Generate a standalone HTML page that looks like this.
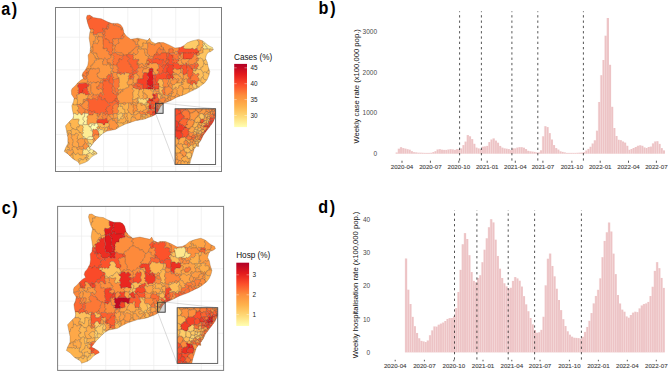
<!DOCTYPE html>
<html><head><meta charset="utf-8"><style>
html,body{margin:0;padding:0;background:#fff;width:669px;height:373px;overflow:hidden}
svg{display:block}
</style></head><body>
<svg width="669" height="373" viewBox="0 0 669 373" font-family='"Liberation Sans", sans-serif'><rect width="669" height="373" fill="#fff"/><g font-size="17.6" font-weight="bold" fill="#000"><text transform="translate(1.2,14.8) scale(0.92,1)" letter-spacing="1.8">a)</text><text transform="translate(318.6,14.4) scale(0.92,1)" letter-spacing="1.8">b)</text><text transform="translate(1.7,213.8) scale(0.92,1)" letter-spacing="1.8">c)</text><text transform="translate(318.2,213.4) scale(0.92,1)" letter-spacing="1.8">d)</text></g><g stroke="#ececec" stroke-width="0.7">
<line x1="79.5" y1="7" x2="79.5" y2="172"/>
<line x1="103.6" y1="7" x2="103.6" y2="172"/>
<line x1="127.8" y1="7" x2="127.8" y2="172"/>
<line x1="151.7" y1="7" x2="151.7" y2="172"/>
<line x1="175.7" y1="7" x2="175.7" y2="172"/>
<line x1="199.2" y1="7" x2="199.2" y2="172"/>
<line x1="55" y1="37.2" x2="222" y2="37.2"/>
<line x1="55" y1="69.8" x2="222" y2="69.8"/>
<line x1="55" y1="102.2" x2="222" y2="102.2"/>
<line x1="55" y1="134.4" x2="222" y2="134.4"/>
<line x1="55" y1="166.6" x2="222" y2="166.6"/>
</g>
<clipPath id="clipa"><polygon points="87.1,15.4 89.8,15.1 93.2,17.4 97.8,18.3 101.2,18.7 103.9,20.1 107.9,22.1 111.9,23.4 117.9,23.4 120.6,24.7 122.6,27.4 124.0,32.8 126.3,36.0 130.7,39.3 137.8,38.2 147.8,40.4 149.6,38.2 151.2,41.5 155.6,43.7 157.8,42.6 163.4,42.6 169.0,44.9 175.0,48.1 180.2,47.5 183.7,45.8 187.2,42.8 191.6,41.1 195.0,40.2 198.5,39.4 202.0,40.6 204.6,42.3 207.2,44.6 209.8,46.3 212.5,47.5 213.3,49.8 210.7,51.6 208.1,52.4 206.4,55.0 205.5,58.5 207.2,62.0 208.1,66.4 209.8,71.6 209.0,75.1 207.2,79.4 204.6,82.9 201.1,85.5 200.0,86.6 196.8,88.5 193.1,90.3 189.5,92.1 185.9,93.9 181.1,95.7 176.2,97.5 172.0,99.9 167.8,101.7 163.6,103.6 160.5,106.6 158.1,111.4 155.7,114.4 152.1,116.2 147.2,118.0 145.0,118.9 140.7,119.8 135.5,120.7 130.3,122.4 125.1,124.2 119.8,126.8 115.5,129.4 111.1,130.3 106.8,131.1 102.4,133.7 98.9,137.2 96.3,139.8 93.7,142.5 91.1,145.9 89.4,148.2 92.8,149.9 96.3,152.0 97.2,153.8 93.7,155.5 91.1,157.3 88.5,160.4 85.0,162.5 82.0,163.5 79.5,164.4 78.4,162.1 72.5,158.6 67.9,153.9 64.3,151.6 65.5,148.1 67.9,143.4 67.9,137.6 66.7,131.7 65.5,125.9 65.8,125.5 68.5,122.5 70.9,120.1 72.9,118.5 73.6,115.5 72.9,112.1 72.3,109.4 71.8,105.7 73.5,101.9 74.1,98.2 71.6,94.4 71.3,90.6 72.2,88.4 75.0,86.0 77.8,82.8 80.6,80.3 83.5,78.5 82.1,75.6 82.9,72.8 85.3,70.0 87.8,65.3 88.5,60.6 88.1,55.0 89.8,52.9 90.5,47.5 89.8,42.2 89.1,38.2 89.8,32.8 90.5,30.1 89.1,27.4 87.8,23.4 86.4,18.0"/></clipPath>
<g clip-path="url(#clipa)"><g stroke="#4a3422" stroke-width="0.33" stroke-opacity="0.7"><path d="M87.1 24.3 86.9 21.6 88.8 20.1 89.0 19.3 90.5 19.2 91.2 18.4 91.0 17.2 91.8 16.6 92.8 16.7 93.0 16.1 90.2 14.2 86.9 14.4 86.2 15.0 85.4 18.0Z" fill="#fc6831"/><path d="M91.0 17.2 91.2 18.4 90.5 19.2 89.0 19.3 88.8 20.1 86.9 21.6 86.8 22.8 88.4 28.3 91.2 29.5 92.8 29.0 93.6 30.8 93.0 31.9 93.2 34.7 95.2 34.4 96.5 34.9 97.6 33.1 103.3 32.5 103.8 30.5 103.2 30.3 102.8 28.3 106.8 29.2 107.4 25.0 109.0 24.6 109.3 23.1 107.1 20.6 101.4 17.7 93.0 16.1 92.8 16.7 91.8 16.6Z" fill="#fc6130"/><path d="M108.5 21.9 109.3 23.1 110.5 22.9 111.4 23.3 112.4 22.8 113.5 23.6 113.1 25.2 114.6 25.7 115.3 24.8 117.0 26.2 121.0 27.7 120.8 29.3 121.3 30.2 123.1 28.5 123.4 30.3 124.3 30.1 123.5 27.0 121.0 23.8 118.1 22.4 112.1 22.4 109.0 21.4Z" fill="#fd7c37"/><path d="M132.8 39.7 132.8 41.0 135.0 41.6 135.7 44.8 137.5 44.4 137.9 41.4 139.3 40.8 139.2 39.1 136.9 38.8 137.0 37.3 131.3 38.2Z" fill="#fd903d"/><path d="M136.9 38.8 139.2 39.1 139.3 40.8 137.9 41.4 137.5 44.4 138.9 45.3 138.9 46.6 141.2 47.6 141.7 46.7 143.3 46.1 142.8 43.0 144.3 43.0 144.8 43.5 146.9 43.2 146.5 41.5 148.1 40.6 148.6 39.3 149.4 38.8 149.4 37.9 150.3 37.5 149.0 37.4 147.4 39.3 137.8 37.2 137.0 37.3Z" fill="#fea546"/><path d="M159.2 42.9 160.1 43.3 161.2 45.4 161.0 46.9 163.5 47.7 163.5 49.2 164.4 49.7 165.2 52.7 166.7 53.1 168.5 52.8 169.1 50.7 168.9 49.3 171.4 48.6 173.2 49.3 172.7 51.9 173.1 53.1 174.1 53.2 175.8 51.2 177.1 51.8 179.1 49.7 178.8 49.1 179.3 47.3 179.0 46.9 175.2 47.1 169.4 44.0 163.6 41.6 159.3 41.6Z" fill="#fd8c3c"/><path d="M183.4 45.0 183.8 46.3 183.0 48.1 185.4 48.9 189.2 49.0 190.6 49.0 192.5 48.1 192.7 48.7 194.9 49.8 195.3 48.8 197.1 48.5 197.1 46.5 197.5 45.5 199.1 45.2 198.8 41.5 197.0 40.2 196.5 39.2 197.1 38.7 194.8 39.2 186.7 41.9Z" fill="#fecb67"/><path d="M197.1 38.7 196.5 39.2 197.0 40.2 198.8 41.5 199.1 45.2 197.5 45.5 197.1 46.5 197.5 50.7 200.8 50.8 201.4 47.4 202.4 47.3 203.4 46.4 203.3 45.4 202.4 44.7 203.7 43.3 202.7 42.1 202.9 40.0 198.7 38.4Z" fill="#fea546"/><path d="M202.9 40.0 202.7 42.1 203.7 43.3 204.7 43.6 204.4 44.6 205.5 45.7 205.5 46.4 206.7 46.7 207.3 49.1 210.9 49.0 212.8 49.8 214.1 49.0 213.1 46.7 207.8 43.8Z" fill="#fee68a"/><path d="M107.1 20.6 108.5 21.9 109.0 21.4ZM108.4 26.8 109.4 25.3 109.0 24.6 107.4 25.0 107.3 26.4ZM102.8 28.3 103.2 30.3 103.8 30.5 103.3 32.5 101.7 32.9 102.5 34.7 104.3 34.9 104.8 33.2 105.4 32.8 104.6 30.3 105.4 29.0Z" fill="#fd7234"/><path d="M109.4 25.3 108.4 26.8 108.8 28.2 107.1 29.3 105.4 29.0 104.6 30.3 105.4 32.8 104.8 33.2 104.3 34.9 104.8 35.4 104.2 37.4 104.9 39.1 105.5 39.3 106.6 38.7 107.7 40.4 108.6 40.1 109.4 42.0 109.0 42.8 110.2 43.4 111.5 42.9 112.9 44.3 113.4 41.0 112.6 40.8 112.5 39.4 114.4 38.7 114.7 39.5 117.0 38.4 118.7 39.0 119.4 38.5 121.2 38.9 121.4 36.1 123.6 34.4 124.0 32.8 124.9 32.3 124.3 30.1 123.4 30.3 123.1 28.5 121.3 30.2 120.8 29.3 121.0 27.7 117.0 26.2 115.3 24.8 114.6 25.7 113.1 25.2 113.5 23.6 112.4 22.8 111.4 23.3 110.5 22.9 109.3 23.1 109.0 24.6Z" fill="#fd7535"/><path d="M107.4 26.5 106.8 29.2 107.1 29.3 108.8 28.2 108.4 26.8Z" fill="#fc6731"/><path d="M89.1 51.4 89.5 50.4 91.2 50.8 91.6 49.6 90.4 48.5 90.9 47.2 92.9 47.0 92.6 45.4 93.0 43.9 93.6 43.4 93.3 41.4 95.3 41.4 95.5 36.8 93.2 34.7 93.0 32.3 91.0 32.8 90.3 31.6 89.1 31.7 88.1 38.2 89.5 47.5ZM89.7 28.8 88.7 28.1 88.4 28.3 89.2 29.8Z" fill="#fd9a42"/><path d="M89.7 28.8 89.1 31.7 90.3 31.6 91.0 32.8 93.0 32.3 93.6 30.8 92.8 29.0 91.2 29.5ZM96.3 36.5 97.7 37.2 98.8 37.0 99.0 36.0 97.2 34.3 96.5 34.9 95.2 34.4 93.7 34.9 95.5 36.8Z" fill="#fd9640"/><path d="M124.8 32.6 125.5 33.2 124.9 32.3ZM123.2 38.6 124.1 36.5 122.8 35.1 122.2 35.1 121.4 36.1 121.4 38.8Z" fill="#fd7234"/><path d="M118.7 39.0 118.3 40.7 118.9 43.1 117.7 43.3 115.6 45.2 114.0 48.9 115.0 49.6 114.3 51.6 114.9 52.8 116.6 52.2 121.2 53.1 121.6 52.8 122.8 53.6 123.2 54.8 124.6 55.3 126.8 54.9 128.6 54.2 129.0 52.5 130.9 52.6 131.3 51.2 132.4 51.0 133.3 49.4 134.2 49.4 135.7 47.0 138.9 46.6 138.9 45.3 137.5 44.4 135.7 44.8 134.8 41.3 132.8 41.0 132.8 39.7 127.0 35.3 124.8 32.6 124.0 32.8 123.6 34.4 122.8 35.1 124.1 36.5 123.2 38.6 121.2 38.9 119.4 38.5Z" fill="#fd873a"/><path d="M99.0 33.2 97.6 33.1 97.2 34.3 99.0 36.0 99.0 36.7 101.6 36.8 102.5 37.5 103.6 35.0 102.5 34.7 101.2 32.5Z" fill="#fd893b"/><path d="M203.7 43.3 202.4 44.7 203.3 45.4 204.4 44.6 204.7 43.6Z" fill="#fee487"/><path d="M102.4 37.5 103.0 40.0 103.1 45.1 103.5 45.6 102.8 48.5 104.2 48.9 106.8 48.3 107.0 49.0 106.4 51.0 109.0 51.7 108.5 53.6 108.9 54.6 111.0 55.0 111.9 54.6 112.7 53.3 112.1 51.3 112.7 50.9 113.1 49.0 112.6 48.6 112.4 47.1 113.0 46.4 113.1 44.6 111.5 42.9 110.2 43.4 109.0 42.8 109.4 42.0 108.6 40.1 107.7 40.4 106.9 38.9 104.9 39.1 104.2 37.4 104.8 35.4 104.3 34.9 103.6 35.0Z" fill="#fd7234"/><path d="M148.1 40.6 146.5 41.5 146.9 43.2 144.8 43.5 144.3 43.0 142.8 43.0 143.3 46.1 141.7 46.7 141.2 47.6 141.6 48.8 144.2 49.1 144.9 48.5 146.9 49.8 147.9 46.6 147.8 44.9 147.1 43.4 149.4 42.8 150.4 43.2 151.1 44.6 152.9 44.2 153.7 45.3 154.7 45.3 155.8 43.0 157.0 43.5 159.2 42.9 159.3 41.6 157.5 41.6 155.6 42.6 152.0 40.8 150.3 37.5 149.4 37.9 149.4 38.8 148.6 39.3Z" fill="#fea345"/><path d="M93.3 41.4 93.6 43.4 96.2 43.1 97.2 44.1 98.9 42.0 99.2 40.5 97.1 39.1 97.7 37.2 96.3 36.5 95.5 36.8 95.3 41.4ZM91.2 50.8 91.5 51.6 91.0 52.3 91.4 53.0 93.2 53.7 93.8 55.3 94.7 55.9 95.2 58.4 96.6 58.5 98.6 59.5 98.6 57.4 97.6 57.0 96.8 53.2 94.7 52.7 93.7 53.0 92.7 51.5 93.3 49.6 92.9 47.0 90.9 47.2 90.4 48.5 91.6 49.6Z" fill="#fd9941"/><path d="M99.2 40.2 97.2 44.1 96.2 43.1 93.6 43.4 93.0 43.9 92.6 45.4 93.3 49.6 92.7 51.5 93.7 53.0 94.7 52.7 96.8 53.2 97.6 57.0 98.6 57.4 98.7 59.1 101.1 58.7 103.6 59.8 104.8 57.8 106.9 60.4 107.9 58.8 109.5 58.8 110.7 58.1 111.0 55.0 108.9 54.6 108.5 53.6 109.0 51.7 106.4 51.0 107.0 49.0 106.8 48.3 104.2 48.9 102.8 48.5 103.5 45.6 102.9 42.9 103.0 40.0 102.4 37.5 101.6 36.8 99.0 36.7 97.7 37.2 97.1 39.1ZM113.1 49.0 112.7 50.9 112.1 51.3 112.7 53.3 114.7 52.8 114.3 51.6 115.0 49.6 114.0 48.9 115.1 46.9 115.4 45.0 113.1 44.6 113.0 46.4 112.4 47.1 112.6 48.6Z" fill="#fd8c3c"/><path d="M118.7 39.0 117.0 38.4 114.7 39.5 114.4 38.7 112.5 39.4 112.6 40.8 113.4 41.0 113.1 44.6 115.9 45.1 117.7 43.3 118.9 43.1 118.3 40.7Z" fill="#fd883b"/><path d="M147.8 46.9 146.9 49.8 147.3 50.6 147.1 52.9 147.5 54.3 149.1 55.0 149.1 56.0 150.8 57.2 151.7 56.4 153.0 57.4 153.6 57.1 154.0 54.9 154.9 54.9 156.0 52.9 156.8 52.5 157.6 49.6 158.3 49.3 159.3 47.6 160.7 50.2 161.5 49.3 163.5 49.3 162.7 50.8 162.9 52.7 164.6 53.0 165.2 52.7 164.4 49.7 163.5 49.2 163.5 47.7 161.0 46.9 161.2 45.4 160.1 43.3 159.2 42.9 157.0 43.5 155.8 43.0 154.7 45.3 153.7 45.3 152.9 44.2 151.1 44.6 150.4 43.2 149.4 42.8 147.1 43.4 147.8 44.9Z" fill="#fd873a"/><path d="M179.0 46.9 179.3 47.3 178.8 49.1 179.1 49.7 177.1 51.8 178.6 53.2 179.1 52.8 183.2 52.7 184.1 52.7 184.4 53.3 187.2 52.6 187.5 53.3 189.3 52.8 192.2 53.3 193.0 52.4 194.6 53.7 195.4 52.9 198.7 53.0 199.2 50.9 197.5 50.7 197.1 48.5 195.3 48.8 194.9 49.8 192.7 48.7 192.5 48.1 190.6 49.0 189.2 49.0 185.4 48.9 183.0 48.1 183.8 46.3 183.3 44.8Z" fill="#fc4d2a"/><path d="M86.9 69.6 87.4 68.7 89.8 69.2 90.6 68.9 91.4 67.8 90.9 66.6 91.2 65.2 92.5 65.3 93.2 63.3 94.8 62.5 94.4 60.8 95.0 60.3 96.6 60.4 96.6 58.5 95.2 58.4 94.7 55.9 93.8 55.3 93.2 53.7 91.4 53.0 91.0 52.3 91.5 51.6 91.2 50.8 89.5 50.4 88.8 52.5 87.1 54.8 87.5 60.6 86.8 65.0 85.0 68.4ZM83.3 75.2 82.7 74.8 81.3 74.8 81.1 75.8 81.8 77.3 82.6 77.2Z" fill="#fd9740"/><path d="M179.0 46.9 179.0 46.6 178.2 46.7Z" fill="#fc502b"/><path d="M204.4 44.6 203.3 45.4 203.4 46.4 202.4 47.3 203.9 49.1 207.0 48.8 206.7 46.7 205.5 46.4 205.5 45.7Z" fill="#fee78c"/><path d="M134.2 49.4 133.3 49.4 132.4 51.0 131.3 51.2 130.9 52.6 129.0 52.5 128.7 54.1 133.1 54.7 133.5 52.9 134.2 53.1 135.2 54.9 136.7 54.4 138.3 52.6 138.3 51.0 137.0 49.8 138.8 48.6 138.8 46.7 135.7 47.0ZM144.3 65.4 143.4 65.3 142.8 63.5 140.8 63.4 139.6 65.0 138.4 63.0 136.8 63.1 137.2 64.9 139.0 65.4 138.5 67.2 138.9 68.0 140.3 68.4 141.4 66.7 142.3 67.0 142.9 68.2 144.6 67.2 144.8 66.3 146.7 66.6 147.4 65.0 147.1 63.3 146.8 62.9 145.2 63.5 145.1 64.6Z" fill="#fd8e3c"/><path d="M141.2 47.6 138.9 46.6 138.8 48.6 141.2 49.5 141.6 48.8Z" fill="#fea345"/><path d="M201.4 47.4 201.1 50.5 199.2 50.9 198.7 53.0 199.4 53.8 202.1 53.2 203.4 52.4 202.9 51.0 203.3 49.4 203.9 49.1 202.4 47.3Z" fill="#fea848"/><path d="M137.0 49.8 138.3 51.0 138.3 52.6 136.7 54.4 135.2 54.9 134.2 53.1 133.5 52.9 133.1 54.7 133.7 55.4 133.0 56.4 133.5 57.6 132.8 59.1 133.2 59.8 134.9 59.4 135.7 58.8 136.7 59.7 138.7 59.4 138.6 61.0 137.2 61.4 137.0 63.0 138.4 63.0 139.6 65.0 140.8 63.4 142.8 63.5 143.4 65.3 144.3 65.4 145.1 64.6 145.2 63.5 146.8 62.9 147.2 59.7 148.5 58.0 148.2 56.8 146.8 55.3 145.6 55.3 144.2 49.1 141.6 48.8 141.2 49.5 138.8 48.6Z" fill="#fd9a41"/><path d="M144.2 49.1 145.6 55.3 146.8 55.3 148.2 56.8 149.3 55.4 147.5 54.3 147.1 52.9 147.3 50.6 146.9 49.8 144.9 48.5Z" fill="#fd9a42"/><path d="M159.5 47.6 157.6 49.6 156.8 52.5 158.1 53.4 159.0 54.8 160.4 54.9 160.8 53.4 162.9 52.7 162.7 50.8 163.5 49.3 161.5 49.3 160.7 50.2Z" fill="#fd7836"/><path d="M168.9 49.3 169.1 50.7 168.5 52.8 169.0 53.3 173.1 53.2 172.7 51.9 173.2 51.0 173.0 49.0 171.4 48.6Z" fill="#fd7335"/><path d="M202.9 51.0 203.4 52.4 202.1 53.2 199.4 53.8 199.2 55.1 197.0 55.6 196.7 56.3 198.7 58.5 200.7 58.1 202.8 59.4 202.7 60.7 203.2 61.0 204.9 60.4 205.8 58.9 206.9 59.1 206.6 58.4 207.3 55.4 208.7 53.2 211.6 52.2 210.6 52.1 209.5 50.7 209.7 49.0 203.9 49.1 203.3 49.4Z" fill="#fec560"/><path d="M214.1 49.0 212.8 49.8 210.9 49.0 209.9 49.2 209.5 50.7 210.6 52.1 211.6 52.2 214.2 50.2Z" fill="#febf5a"/><path d="M175.8 51.2 174.1 53.2 175.2 53.8 176.1 54.9 177.9 52.8ZM178.0 56.8 179.0 58.7 180.0 58.6 181.3 57.3 180.2 55.0 179.4 54.8Z" fill="#fd903d"/><path d="M116.2 52.6 112.7 53.3 111.9 54.6 113.7 56.6 113.3 57.2 113.7 58.9 112.4 60.5 112.9 61.6 112.5 62.6 113.1 64.7 115.0 65.5 117.4 65.0 117.3 62.9 119.2 62.1 119.3 61.2 118.6 60.6 119.0 58.9 120.6 58.8 121.5 60.1 122.7 58.5 122.3 57.5 123.9 55.0 121.3 55.3 119.1 54.9 118.8 54.4 117.1 54.3Z" fill="#fd7435"/><path d="M111.0 57.1 109.9 58.7 107.9 58.8 106.9 60.4 106.9 62.1 107.5 62.9 110.4 63.2 110.8 65.0 112.5 65.2 112.9 68.8 111.7 70.9 114.3 72.7 116.9 72.6 118.3 70.9 117.1 69.7 118.7 68.3 118.5 67.7 117.4 67.2 117.0 65.2 115.0 65.5 113.1 64.7 112.5 62.6 112.9 61.6 112.4 60.5 113.7 58.9 113.3 57.2 113.7 56.6 111.9 54.6 111.0 55.0ZM121.3 55.3 123.2 54.8 122.8 53.6 121.6 52.8 121.2 53.1 116.6 52.2 116.2 52.6 117.1 54.3 118.8 54.4 119.1 54.9Z" fill="#fd893b"/><path d="M156.0 52.9 154.9 54.9 155.5 55.3 157.2 54.9 157.7 55.6 159.0 54.8 158.1 53.4 156.8 52.5Z" fill="#fc6430"/><path d="M153.6 57.1 153.0 57.4 152.6 58.4 150.8 58.8 148.5 58.0 147.2 59.7 147.1 60.9 149.0 61.1 148.7 62.9 147.1 63.3 147.4 65.0 149.2 65.1 149.4 63.8 150.6 63.0 151.8 63.9 153.1 63.3 152.5 61.6 151.9 61.1 153.3 59.3 154.3 59.5 157.2 58.4 158.5 58.6 159.2 60.0 160.7 59.4 161.8 59.8 163.3 59.4 163.3 60.4 162.2 62.0 162.8 62.7 160.6 64.7 158.9 64.2 158.5 64.6 158.5 66.7 159.0 68.2 156.7 69.6 156.9 70.9 158.8 71.4 158.5 73.1 160.3 74.5 161.1 73.4 162.3 73.3 163.3 71.8 163.0 70.8 163.6 69.1 163.3 67.8 161.9 66.9 162.7 65.1 163.3 64.8 164.8 65.4 167.0 64.1 167.3 63.2 165.0 62.1 165.4 61.1 167.1 60.5 166.7 58.7 167.6 57.0 166.8 56.2 167.2 55.0 166.7 53.1 165.2 52.7 161.4 53.1 160.8 53.4 160.4 54.9 159.0 54.8 157.7 55.6 157.2 54.9 155.5 55.3 154.0 54.9Z" fill="#fc5e2e"/><path d="M166.7 53.1 167.2 55.0 166.8 56.2 167.6 57.0 168.3 56.9 169.0 53.3 168.5 52.8ZM172.2 61.7 172.3 62.4 173.4 63.0 174.1 62.7 175.4 63.5 177.2 62.9 177.2 62.0 179.2 61.0 178.7 59.2 176.7 59.7 174.5 58.4 172.9 59.3 173.3 60.1ZM167.1 60.5 165.4 61.1 165.0 62.1 167.3 63.2 168.3 62.7 169.0 61.0 168.9 59.1 166.7 58.7Z" fill="#fc6330"/><path d="M166.7 58.7 168.9 59.1 169.0 61.0 168.1 62.9 169.2 64.5 172.9 64.7 173.1 66.6 172.4 67.2 173.4 69.3 174.0 69.3 175.0 68.3 176.8 69.7 178.5 69.5 178.9 68.9 180.8 69.4 181.1 67.4 182.8 66.2 182.6 65.1 181.2 64.5 179.6 65.2 178.7 63.5 177.2 62.9 175.4 63.5 174.1 62.7 173.4 63.0 172.3 62.4 172.2 61.7 173.3 60.1 172.4 59.1 173.1 57.3 173.0 55.4 172.5 54.8 171.2 55.1 169.9 53.4 169.0 53.3 168.3 56.9 167.6 57.0ZM165.1 65.0 164.5 67.1 163.3 67.8 163.6 69.1 163.0 70.8 163.3 71.8 164.9 73.4 166.4 72.9 167.1 72.0 166.7 68.7 167.3 67.6 168.8 66.8 167.0 64.1Z" fill="#fc4e2a"/><path d="M176.1 54.9 175.2 53.8 174.1 53.2 169.9 53.4 171.2 55.1 172.5 54.8 173.0 55.4 173.1 57.3 172.4 59.1 172.9 59.3 174.5 58.4 176.7 59.7 178.7 59.2 179.0 58.7 178.0 56.8 179.4 54.8 178.6 53.2 177.9 52.8Z" fill="#fd7435"/><path d="M183.1 55.0 182.8 55.3 183.2 59.1 185.1 59.5 186.7 58.9 190.3 59.1 191.8 58.7 192.5 57.5 193.4 57.1 193.6 55.2 194.6 54.3 196.8 55.2 197.0 53.0 195.4 52.9 194.6 53.7 193.0 52.4 192.2 53.3 189.3 52.8 187.5 53.3 187.2 52.6 184.4 53.3 184.1 52.7 183.2 52.7 182.8 52.8ZM178.6 53.2 179.4 54.8 180.2 55.0 181.3 54.5 181.8 53.0 179.1 52.8ZM185.5 65.3 187.0 65.8 187.7 65.1 186.5 62.7 185.5 62.7Z" fill="#fa4b29"/><path d="M181.3 57.3 180.0 58.6 181.1 59.8 183.0 58.7 182.8 52.8 181.9 52.8 181.3 54.5 180.2 55.0ZM189.4 59.1 189.0 60.3 187.3 61.8 188.9 63.1 188.1 65.1 189.0 65.3 190.9 65.0 191.3 64.4 193.2 64.8 194.5 63.0 196.7 62.3 197.1 61.1 196.0 59.3 196.6 58.9 198.5 58.9 198.7 58.5 196.7 56.3 196.8 55.2 194.6 54.3 193.6 55.2 193.4 57.1 192.5 57.5 191.8 58.7Z" fill="#fd8a3b"/><path d="M199.4 53.8 198.7 53.0 197.0 53.0 197.0 55.6 199.2 55.1Z" fill="#fd8f3d"/><path d="M206.2 58.8 205.2 59.5 204.9 60.4 203.2 61.0 203.7 63.0 204.3 63.1 205.4 64.9 206.5 64.4 208.5 64.7 208.9 65.4 208.1 61.6 206.9 59.1Z" fill="#febf5a"/><path d="M119.0 58.9 118.6 60.6 119.3 61.2 119.2 62.1 117.3 62.9 117.0 65.2 117.4 67.2 118.5 67.7 118.7 68.3 117.1 69.7 118.3 70.9 119.6 73.1 121.1 72.3 121.9 73.6 125.7 72.6 126.8 73.2 128.8 73.2 129.4 73.8 132.4 73.3 133.1 72.2 132.1 70.5 133.5 69.6 132.4 68.3 132.5 67.4 130.6 66.7 131.3 65.3 130.6 64.3 129.3 64.2 129.4 62.7 127.7 60.7 130.1 58.8 128.8 57.4 127.4 56.9 126.8 54.9 124.6 55.3 123.9 55.0 122.3 57.5 122.7 58.5 121.5 60.1 120.6 58.8Z" fill="#fc6831"/><path d="M126.9 54.8 127.4 56.9 128.8 57.4 130.1 58.8 127.7 60.7 129.4 62.7 129.3 64.2 130.6 64.3 131.3 65.3 130.6 66.7 132.5 67.4 132.4 68.3 133.5 69.6 132.1 70.5 133.1 72.2 134.6 71.1 135.5 71.5 137.2 69.0 138.9 68.0 138.5 67.2 139.0 65.4 137.2 64.9 136.8 63.1 137.2 61.4 138.6 61.0 138.7 59.4 136.7 59.7 135.7 58.8 134.9 59.4 133.2 59.8 132.8 59.1 133.5 57.6 133.0 56.4 133.7 55.4 133.1 54.7 128.7 54.1Z" fill="#fc602f"/><path d="M148.2 56.8 148.5 58.0 150.8 58.8 152.6 58.4 153.0 57.4 151.7 56.4 150.8 57.2 149.1 56.0Z" fill="#fd8d3c"/><path d="M81.3 74.8 83.8 75.2 84.8 76.5 86.6 77.0 86.9 75.2 86.0 72.9 88.4 72.9 88.7 71.2 87.6 70.8 86.8 70.1 86.9 69.6 85.0 68.4 82.0 72.4Z" fill="#fd7d38"/><path d="M96.7 58.6 96.6 60.4 95.0 60.3 94.4 60.8 94.8 62.5 93.2 63.3 92.5 65.3 91.2 65.2 90.9 66.6 91.4 67.8 90.6 68.9 92.8 69.4 93.2 68.3 96.2 69.4 96.9 68.4 98.9 68.2 99.7 71.2 98.6 72.9 97.0 73.3 96.7 74.4 97.4 75.4 97.4 77.0 99.0 77.5 99.4 78.6 101.1 78.7 102.9 79.4 103.5 78.3 105.3 78.8 107.0 78.5 107.0 76.3 108.6 74.4 110.1 75.0 111.1 73.2 111.1 71.3 112.9 68.8 110.8 68.3 110.3 66.5 110.8 65.0 109.0 64.9 108.8 63.0 107.5 62.9 107.3 64.6 106.8 65.0 105.2 64.5 103.3 64.8 102.5 61.5 103.6 61.2 103.6 59.8 101.1 58.7 98.7 59.1 98.6 59.5Z" fill="#fd9841"/><path d="M89.8 69.2 89.3 70.9 88.7 71.2 88.4 74.3 86.9 75.2 86.6 77.0 87.0 78.3 87.7 79.1 87.2 81.1 87.4 81.6 88.5 81.7 89.5 82.7 90.9 82.1 92.1 83.0 93.1 82.2 94.8 82.5 95.1 83.0 96.8 82.9 97.3 81.6 100.2 82.9 100.6 80.9 101.0 80.8 103.0 81.5 103.5 80.9 102.9 79.4 101.1 78.7 99.4 78.6 99.0 77.5 97.4 77.0 97.4 75.4 96.7 74.4 97.0 73.3 98.6 72.9 99.7 71.2 98.9 68.2 96.9 68.4 96.2 69.4 93.2 68.3 92.8 69.4 90.6 68.9ZM103.6 59.8 103.6 61.2 102.5 61.5 102.9 64.3 103.3 64.8 105.2 64.5 106.8 65.0 107.3 64.6 107.5 62.9 106.7 61.3 106.9 60.4 104.8 57.8ZM109.0 64.9 110.6 64.8 110.4 63.2 108.8 63.0Z" fill="#fd8d3c"/><path d="M157.2 58.4 154.3 59.5 153.3 59.3 151.9 61.1 153.4 63.4 156.5 63.0 157.4 64.4 158.5 64.6 158.9 64.2 160.6 64.7 162.8 62.7 162.2 62.0 163.3 60.4 163.3 59.4 161.8 59.8 160.7 59.4 159.2 60.0 158.5 58.6ZM164.8 65.4 163.3 64.8 162.7 65.1 161.9 66.9 163.3 67.8 164.5 67.1Z" fill="#fc542c"/><path d="M173.3 69.5 172.5 70.6 173.9 72.8 174.6 73.4 176.4 73.5 176.9 74.6 178.3 74.8 180.6 72.9 180.8 69.4 178.9 68.9 178.5 69.5 176.8 69.7 175.0 68.3ZM178.7 59.2 179.2 61.0 177.2 62.0 177.2 62.9 178.7 63.5 179.6 65.2 181.2 64.5 182.6 65.1 183.4 64.3 183.4 63.3 181.6 62.7 181.7 61.4 181.1 60.9 181.1 59.8 180.0 58.6 179.0 58.7Z" fill="#fd9c42"/><path d="M185.1 59.5 183.2 59.1 183.0 58.7 181.1 59.8 181.1 60.9 181.7 61.4 181.6 62.7 183.4 63.3 183.4 64.3 185.2 64.9 185.5 62.7 186.5 62.7 187.7 65.1 188.1 65.1 188.9 63.1 187.3 61.8 189.0 60.3 189.3 59.2 186.7 58.9Z" fill="#fd9941"/><path d="M198.5 60.7 198.5 58.9 196.6 58.9 196.0 59.3 197.1 61.1ZM197.7 63.5 196.7 62.3 194.8 63.1 195.9 64.8Z" fill="#fd883b"/><path d="M196.7 62.3 198.7 65.1 198.1 66.5 196.7 67.4 197.1 68.7 198.5 69.6 200.8 69.5 200.9 67.5 202.9 67.0 203.5 65.2 203.8 63.1 203.2 61.0 202.7 60.7 202.8 59.4 200.7 58.1 198.7 58.5 198.5 60.7 197.1 61.1ZM194.7 68.6 195.1 70.8 195.7 71.1 196.7 69.1Z" fill="#febc57"/><path d="M149.0 61.1 146.7 61.1 146.8 62.9 147.1 63.3 148.7 62.9ZM149.2 65.1 147.1 65.2 146.7 66.6 147.2 67.7 149.0 67.3 149.7 68.5 150.9 68.5 151.5 68.0 152.5 68.3 153.0 68.8 153.1 71.6 154.8 72.9 154.8 74.5 157.1 74.4 158.5 73.1 158.8 71.4 156.9 70.9 156.7 69.6 159.0 68.2 158.5 66.7 158.5 64.6 157.4 64.4 156.5 63.0 153.1 63.3 151.8 63.9 150.6 63.0 149.4 63.8Z" fill="#fd9c42"/><path d="M167.5 65.3 168.8 66.8 167.3 67.6 166.7 68.7 167.1 72.0 168.9 73.4 168.6 74.7 169.2 75.3 170.9 74.8 171.2 75.4 172.7 74.6 172.5 73.5 173.9 72.8 172.5 70.6 173.4 69.3 172.4 67.2 173.1 66.6 173.3 65.4 172.9 64.7 169.2 64.5 168.1 62.9 167.3 63.2 167.0 64.1Z" fill="#f64227"/><path d="M193.1 64.8 191.3 64.4 190.9 65.0 189.0 65.3 189.6 67.1 191.2 66.6 191.5 67.0 191.0 69.0 192.9 69.1 194.5 68.4 194.7 66.0 196.0 65.0 194.7 63.0Z" fill="#fc6230"/><path d="M197.7 63.5 194.7 66.0 194.7 68.6 196.7 69.1 197.1 68.7 196.7 67.4 198.1 66.5 198.7 65.1Z" fill="#fc6430"/><path d="M203.8 63.1 202.9 67.0 200.9 67.5 201.2 70.5 202.2 70.9 203.1 72.6 205.2 71.9 206.3 72.8 207.7 70.9 208.6 70.9 208.5 69.0 208.9 68.3 209.8 68.4 208.9 65.4 208.5 64.7 206.5 64.4 205.4 64.9 204.3 63.1Z" fill="#febd58"/><path d="M112.5 65.2 110.8 65.0 110.3 66.5 110.8 68.3 112.7 68.6Z" fill="#fd9640"/><path d="M182.8 66.2 181.0 67.7 181.2 68.3 183.2 69.2 182.2 70.7 183.3 75.2 185.5 74.5 185.8 73.7 187.1 73.5 187.2 71.8 188.1 71.1 187.3 69.4 187.0 65.8 183.4 64.3 182.6 65.1Z" fill="#fc522b"/><path d="M187.7 65.1 187.0 65.8 186.9 67.2 188.1 71.1 187.2 71.8 187.1 73.5 187.5 74.8 187.1 76.0 188.6 77.5 188.8 78.6 189.9 79.3 191.0 78.5 191.2 76.0 193.3 75.6 193.5 75.2 192.2 73.6 193.0 72.8 192.8 71.5 193.5 70.9 192.9 69.1 191.0 69.0 191.5 67.0 191.2 66.6 189.6 67.1 189.0 65.3Z" fill="#fc5b2e"/><path d="M208.9 68.3 208.5 69.0 208.6 70.9 207.7 70.9 206.3 72.8 209.0 73.9 209.1 75.4 210.0 75.3 210.8 71.6 209.8 68.4Z" fill="#feb852"/><path d="M138.9 68.0 136.8 69.5 138.1 71.1 136.5 73.2 137.1 75.2 138.8 75.8 138.6 78.8 139.3 79.2 140.9 78.7 143.1 78.7 142.7 76.8 143.8 72.9 142.4 72.4 142.6 70.9 143.6 69.2 146.7 68.7 147.2 67.7 146.7 66.6 144.8 66.3 144.6 67.2 142.9 68.2 142.3 67.0 141.4 66.7 140.3 68.4Z" fill="#fd8b3b"/><path d="M136.5 73.2 133.2 74.5 133.1 74.9 133.8 76.4 132.8 81.4 133.3 82.8 134.7 83.5 137.3 83.1 137.2 79.5 138.6 78.8 138.9 77.2 138.8 75.8 137.1 75.2ZM143.6 69.2 142.6 70.9 142.4 72.4 147.6 73.1 148.5 72.8 149.4 71.0 148.9 69.9 149.7 68.5 149.0 67.3 147.2 67.7 146.7 68.7ZM154.8 72.9 153.1 71.6 152.4 72.8 152.8 74.5 153.5 75.0 154.8 74.5Z" fill="#fd9a42"/><path d="M86.8 70.1 88.7 71.2 89.3 70.9 89.8 69.2 87.4 68.7Z" fill="#fd8f3d"/><path d="M150.9 68.5 149.7 68.5 148.9 69.9 149.4 71.0 151.3 70.5 152.9 70.9 153.0 68.8 151.5 68.0Z" fill="#e1191c"/><path d="M181.2 68.3 180.6 72.9 182.9 73.4 182.2 70.7 183.2 69.2ZM185.8 73.7 185.5 74.5 183.1 75.7 183.3 77.3 182.7 78.9 184.8 79.9 185.5 78.8 186.2 78.8 187.2 79.5 188.8 78.6 188.6 77.5 187.1 76.0 187.5 74.8 187.1 73.5Z" fill="#fd9a41"/><path d="M193.5 70.9 195.1 70.8 194.5 68.4 192.9 69.1Z" fill="#fec15d"/><path d="M195.7 71.1 193.5 70.9 192.8 71.5 193.0 72.8 194.8 73.6 195.8 74.9 197.5 73.6 198.2 73.4 198.8 73.8 198.9 75.1 197.6 76.0 197.5 77.0 198.8 78.0 199.1 80.5 200.4 81.1 201.0 80.6 201.4 77.8 202.9 77.1 203.9 75.0 203.3 74.5 203.1 72.6 200.8 69.5 198.5 69.6 197.1 68.7Z" fill="#febf5a"/><path d="M113.6 71.9 111.3 71.0 111.1 73.2 112.2 73.7 113.8 72.4ZM126.9 82.6 127.5 84.6 128.9 85.1 130.3 84.7 132.0 85.0 132.2 83.6 133.3 82.8 132.8 81.4 133.1 78.9 128.3 78.9 128.6 80.1ZM120.8 91.4 121.2 91.0 123.0 91.5 123.2 89.3 121.6 89.6 120.3 89.1 118.9 89.9 118.8 90.7 117.6 91.5 117.5 92.8 120.8 92.9Z" fill="#fd9a41"/><path d="M110.3 75.1 110.7 76.1 109.6 77.3 109.8 78.2 109.0 78.7 108.7 82.0 109.7 83.6 110.8 83.3 112.9 85.1 113.8 81.3 112.7 78.9 114.0 77.4 112.2 76.2 112.8 75.0 112.2 73.7 111.1 73.2ZM119.4 73.4 119.9 74.7 121.5 74.6 121.9 73.6 121.1 72.3 119.6 73.1 118.2 71.2 117.0 72.3 117.2 73.8ZM123.0 73.6 124.2 74.9 125.2 73.0 123.3 73.2ZM128.5 75.7 128.2 76.8 128.7 77.5 128.3 78.9 131.1 79.1 131.4 78.6 130.9 76.0 133.1 74.9 133.2 74.5 132.4 73.3 131.5 73.2 129.4 73.8 129.4 74.8Z" fill="#fc6230"/><path d="M133.1 72.2 132.4 73.3 133.2 74.5 136.5 73.2 138.1 71.1 136.8 70.0 135.5 71.5 134.6 71.1ZM130.9 76.0 131.4 78.6 133.4 78.8 133.8 76.4 133.1 74.9ZM134.3 85.0 134.6 85.5 136.5 85.1 137.0 85.8 136.4 86.8 136.7 87.4 139.1 87.0 140.2 87.7 140.6 89.4 141.4 89.7 142.7 88.4 142.9 84.2 140.8 84.7 140.3 83.4 138.1 83.6 137.3 83.1 134.9 83.4Z" fill="#fc5e2f"/><path d="M149.4 71.0 148.5 72.8 147.6 73.1 147.0 75.0 147.6 76.2 148.5 76.5 148.8 77.7 146.5 81.3 147.4 82.8 146.5 84.5 148.4 85.2 148.8 86.6 151.0 86.0 151.5 85.1 153.3 84.7 153.5 81.5 152.5 80.5 153.9 79.1 153.1 77.1 153.5 75.0 152.8 74.5 152.4 72.8 153.0 71.0 151.3 70.5Z" fill="#e0181d"/><path d="M74.5 99.2 75.6 98.4 76.9 98.9 77.3 98.5 77.4 96.7 76.5 95.1 78.9 94.3 78.1 92.5 78.8 91.6 78.2 90.5 79.1 89.1 78.5 88.6 78.2 86.9 77.5 86.5 78.7 83.6 77.0 83.1 77.0 82.2 71.4 87.8 70.3 90.5 70.7 94.9 73.0 98.8ZM86.9 86.6 86.9 88.0 87.7 89.0 87.2 90.2 88.6 91.8 89.3 94.5 90.6 94.7 91.8 93.1 91.1 92.3 91.3 90.9 90.8 90.4 91.1 86.0 90.5 84.7 92.1 83.0 90.9 82.1 89.5 82.7 88.5 81.7 87.4 81.6 87.2 82.2 88.5 84.1 89.1 84.2 88.6 86.3ZM82.9 102.6 84.9 102.2 84.9 101.2 85.5 100.4 87.0 100.6 87.2 98.7 85.8 98.5 85.1 99.6 83.4 99.1ZM81.2 105.7 82.0 104.3 80.0 103.3 79.4 104.5 79.7 105.3Z" fill="#fd8f3d"/><path d="M88.4 72.9 86.0 72.9 86.9 75.2 88.4 74.3Z" fill="#fd7b37"/><path d="M117.0 74.7 116.9 72.6 113.8 72.4 112.2 73.7 112.8 75.0 112.2 76.2 114.0 77.4 112.7 78.9 113.1 79.7 119.0 78.5 119.2 77.5 117.4 76.7 117.5 75.2Z" fill="#fd8e3d"/><path d="M117.4 76.7 119.2 77.5 118.9 78.6 119.4 82.6 118.7 83.4 119.1 86.7 117.4 88.1 117.2 88.8 118.9 89.9 120.3 89.1 121.6 89.6 122.9 89.1 124.7 89.3 125.6 88.2 127.0 88.0 128.9 87.1 128.9 85.1 127.5 84.6 126.9 82.6 128.6 80.1 128.3 78.9 128.7 77.5 128.2 76.8 128.5 75.7 129.4 74.8 129.4 73.8 128.8 73.2 126.8 73.2 125.7 72.6 124.2 74.9 123.0 73.6 121.9 73.6 121.5 74.6 119.9 74.7 119.4 73.4 117.2 73.8Z" fill="#feaf4b"/><path d="M143.1 78.7 140.9 78.7 139.3 79.2 138.6 78.8 137.3 79.4 137.3 83.1 138.1 83.6 140.3 83.4 140.8 84.7 142.9 84.2 142.7 88.4 143.6 89.4 144.9 88.4 145.4 88.9 147.1 89.1 147.3 87.2 148.8 86.6 148.4 85.2 146.5 84.5 147.4 82.8 146.5 81.3 148.8 77.7 148.5 76.5 147.6 76.2 147.0 75.0 147.6 73.1 144.8 72.5 143.8 72.9 142.7 76.8Z" fill="#f64126"/><path d="M155.7 77.1 155.2 79.1 154.6 79.5 154.8 80.7 155.5 81.0 155.9 83.1 154.5 84.9 154.7 85.3 159.0 85.2 159.1 83.6 157.4 82.6 157.6 81.8 158.7 80.7 158.5 80.0 159.2 79.1 162.2 79.6 164.6 78.8 166.7 79.6 167.5 79.0 167.0 75.4 168.6 74.7 168.9 73.4 167.1 72.0 166.4 72.9 164.9 73.4 163.3 71.8 162.3 73.3 161.1 73.4 160.3 74.5 158.5 73.1 157.1 74.4 155.4 74.7Z" fill="#fb4c2a"/><path d="M173.9 72.8 172.5 73.5 173.0 75.3 174.5 74.5 174.7 75.1 176.7 74.9 176.4 73.5 174.6 73.4Z" fill="#fea346"/><path d="M180.6 72.9 178.3 74.8 178.9 76.4 180.3 76.2 180.8 77.7 180.5 78.5 181.0 79.0 182.7 78.9 183.3 77.3 182.9 73.4Z" fill="#fea547"/><path d="M191.2 76.0 191.0 78.5 189.9 79.3 190.7 80.7 191.3 81.1 192.5 80.7 193.1 81.2 194.5 80.6 195.5 81.5 195.1 82.5 197.4 83.1 197.3 81.4 199.1 80.5 198.8 78.0 197.5 77.0 197.6 76.0 198.9 75.1 198.8 73.8 198.2 73.4 197.5 73.6 195.8 74.9 194.8 73.6 193.0 72.8 192.2 73.6 193.5 75.2 193.3 75.6Z" fill="#fd7736"/><path d="M203.9 75.0 202.9 77.1 203.8 79.2 205.4 79.8 206.1 79.5 207.4 80.8 210.0 75.3 209.1 75.4 209.0 73.9 206.0 72.8 205.2 71.9 203.1 72.6 203.3 74.5Z" fill="#febe59"/><path d="M77.0 83.1 78.7 83.6 82.4 83.0 84.6 83.0 85.0 83.4 86.4 83.0 87.3 84.5 88.5 84.1 87.2 82.2 87.7 79.1 87.0 78.3 85.3 79.4 83.8 78.8 82.6 77.2 81.8 77.3 82.2 78.1 77.0 82.1ZM81.1 75.6 81.1 75.7 81.1 75.8Z" fill="#fd9841"/><path d="M82.6 77.2 83.8 78.8 85.3 79.4 87.0 78.3 86.6 77.0 84.8 76.5 83.8 75.2 83.3 75.2Z" fill="#fd7c37"/><path d="M107.2 78.3 105.3 78.8 103.5 78.3 102.9 79.4 103.5 80.9 106.0 81.1 107.2 80.2 108.8 80.9 109.0 78.7 109.8 78.2 109.6 77.3 110.7 76.1 110.1 75.0 108.6 74.4 107.0 76.3Z" fill="#fc612f"/><path d="M153.2 77.2 153.9 79.1 152.5 80.5 153.5 81.5 153.3 84.7 154.5 84.9 155.9 83.1 155.5 81.0 154.8 80.7 154.6 79.5 155.2 79.1 155.7 77.1 155.4 74.7 153.5 75.0Z" fill="#fb4b29"/><path d="M167.0 75.4 167.5 79.0 169.8 79.1 171.2 78.0 171.5 76.8 170.9 74.8 169.2 75.3 168.6 74.7Z" fill="#f64126"/><path d="M172.7 74.6 171.2 75.4 171.2 78.0 172.6 79.4 174.3 77.0 173.0 76.4Z" fill="#f33c25"/><path d="M172.6 79.4 173.0 80.5 175.2 78.2 176.5 79.9 177.8 78.7 178.6 78.8 178.9 80.7 176.9 81.0 176.9 82.9 178.9 83.1 181.7 82.6 181.5 81.1 182.7 80.4 182.8 79.0 181.0 79.0 180.5 78.5 180.8 77.7 180.3 76.2 178.9 76.4 178.3 74.8 176.9 74.6 174.7 75.1 174.5 74.5 173.0 75.3 173.0 76.4 174.3 77.0Z" fill="#fea145"/><path d="M201.8 83.1 203.1 82.9 203.8 84.7 205.3 83.6 207.4 80.8 206.1 79.5 205.4 79.8 203.8 79.2 202.9 77.1 201.4 77.8 201.0 80.6 200.4 81.1Z" fill="#febb56"/><path d="M113.8 81.3 113.0 86.5 114.7 87.9 114.7 91.5 117.0 93.1 116.6 94.4 117.4 95.1 118.7 94.9 118.7 93.1 117.5 92.8 117.6 91.5 118.8 90.7 118.9 89.9 117.2 88.8 117.4 88.1 119.1 86.7 118.7 83.4 119.4 82.6 118.9 78.6 117.1 78.6 116.7 79.1 113.1 79.7Z" fill="#fd7635"/><path d="M162.2 79.6 159.2 79.1 158.5 80.0 158.7 80.7 157.6 81.8 157.4 82.6 159.1 83.6 159.1 86.4 161.8 87.7 163.2 87.7 163.8 87.2 162.9 85.3 163.7 83.0Z" fill="#feb54f"/><path d="M164.6 78.8 162.2 79.6 163.7 83.0 162.9 85.3 163.8 87.2 165.3 86.9 167.0 87.5 168.9 86.3 169.0 85.3 167.7 84.4 167.4 83.0 168.5 82.4 168.7 79.3 167.5 79.0 166.7 79.6Z" fill="#fd863a"/><path d="M168.7 79.3 168.5 82.4 167.4 83.0 167.7 84.4 168.9 85.1 170.2 83.1 170.4 81.6 171.2 80.9 169.8 79.1Z" fill="#fd9640"/><path d="M178.6 78.8 177.8 78.7 176.5 79.9 175.2 78.2 173.0 80.5 172.6 79.4 171.2 78.0 169.8 79.1 171.2 80.9 170.4 81.6 170.2 83.1 171.3 83.4 172.0 85.3 175.0 84.4 175.9 83.1 176.9 82.9 176.9 81.0 178.9 80.7Z" fill="#fd9540"/><path d="M181.7 82.4 183.0 83.4 182.9 84.6 181.4 84.3 180.7 85.3 181.7 86.6 182.8 86.9 183.3 89.1 184.5 89.2 189.0 88.4 189.4 86.8 189.0 86.2 190.5 84.4 190.2 83.3 187.8 83.1 187.2 82.5 187.2 79.5 186.2 78.8 185.5 78.8 184.8 79.9 182.8 79.0 182.7 80.4 184.3 81.4Z" fill="#fea848"/><path d="M187.2 79.5 187.2 82.5 187.8 83.1 190.2 83.3 190.8 82.8 191.3 81.1 188.8 78.6Z" fill="#fc6731"/><path d="M93.1 82.2 90.5 84.7 91.1 86.0 90.8 90.4 91.3 90.9 91.1 92.3 92.9 93.4 93.1 94.8 96.4 95.1 97.5 94.4 99.1 95.0 100.4 92.6 101.5 92.8 101.8 94.5 103.0 95.4 103.8 94.3 102.7 92.1 103.0 89.5 101.0 88.8 100.5 88.1 99.0 89.6 97.4 89.2 96.6 86.9 99.2 86.2 99.0 85.1 100.0 82.9 98.6 81.9 97.3 81.6 96.8 82.9 95.1 83.0 94.8 82.5ZM102.4 82.8 103.0 81.5 100.6 80.9 100.2 82.9Z" fill="#fd903d"/><path d="M102.4 82.8 102.7 86.4 102.1 86.9 103.3 89.2 102.7 90.3 102.7 92.1 103.8 94.3 103.0 95.4 101.8 94.5 101.5 92.8 100.4 92.6 98.6 96.0 99.4 97.4 101.5 97.3 101.0 99.6 103.3 99.8 104.1 98.6 104.9 98.4 105.3 100.6 106.6 101.2 106.9 102.2 108.8 103.6 110.8 102.5 112.4 102.9 113.3 101.2 115.5 101.0 115.1 98.9 117.4 98.4 117.4 97.5 117.1 97.1 117.4 95.1 116.6 94.4 115.2 94.7 114.0 93.1 112.5 92.7 112.4 91.2 112.9 90.4 112.1 87.4 113.0 86.5 113.0 85.3 110.8 83.3 109.7 83.6 108.7 82.0 108.9 81.0 107.2 80.2 106.0 81.1 103.5 80.9Z" fill="#fc6430"/><path d="M181.5 81.1 181.7 82.4 184.3 81.4 182.7 80.4ZM182.9 84.6 183.0 83.4 181.7 82.6 181.4 84.3Z" fill="#feaa48"/><path d="M194.5 80.6 193.1 81.2 192.5 80.7 191.3 81.1 190.8 82.8 190.2 83.3 190.5 84.4 192.3 85.1 192.9 84.6 193.5 82.8 194.5 82.9 195.5 84.7 196.3 84.8 197.2 83.2 195.1 82.5 195.5 81.5Z" fill="#fc592d"/><path d="M196.3 84.8 196.8 85.9 199.1 87.5 200.7 87.3 203.8 84.7 203.1 82.9 201.8 83.1 200.4 81.1 199.1 80.5 197.3 81.4 197.4 83.1Z" fill="#fec45f"/><path d="M77.5 86.0 79.1 89.1 78.2 90.5 78.8 91.6 78.1 92.5 78.9 94.3 80.8 93.0 82.3 93.0 83.2 91.4 82.9 90.6 83.4 89.5 84.7 88.6 86.9 88.0 87.0 86.5 88.6 86.3 89.1 84.2 87.3 84.5 86.4 83.0 79.0 83.5Z" fill="#f33b25"/><path d="M100.2 82.9 99.0 85.1 99.2 86.2 96.6 86.9 97.2 88.9 99.0 89.6 100.5 88.1 101.0 88.8 103.0 89.5 103.3 89.2 102.1 86.9 102.7 86.4 103.1 84.4 102.4 82.8ZM113.0 86.5 112.1 87.4 112.9 90.4 112.4 91.2 112.5 92.7 114.0 93.1 115.2 94.7 116.6 94.4 117.0 93.1 114.7 91.5 114.7 87.9Z" fill="#fd7635"/><path d="M120.8 92.9 118.7 93.1 118.7 94.9 117.4 95.1 117.1 97.1 117.4 100.1 119.0 100.9 118.6 102.6 119.3 103.4 123.0 103.4 123.4 102.8 124.9 102.6 126.0 103.5 130.7 102.8 132.7 103.1 133.2 102.2 132.6 99.3 132.1 98.9 133.3 97.3 133.4 95.9 132.9 95.4 133.0 93.4 132.6 93.1 134.2 90.7 132.3 88.7 133.6 87.9 132.7 85.2 134.3 85.0 134.7 83.5 133.3 82.8 132.2 83.6 132.0 85.0 130.3 84.7 128.9 85.1 128.9 87.1 127.0 88.0 125.6 88.2 124.7 89.3 123.2 89.3 123.0 91.5 121.2 91.0 120.8 91.4Z" fill="#fd9740"/><path d="M168.9 85.1 168.9 86.3 169.6 87.1 170.6 87.3 171.9 89.0 172.8 87.1 171.3 83.4 170.2 83.1Z" fill="#fd8e3c"/><path d="M181.4 82.9 175.9 83.1 175.0 84.4 172.0 85.3 172.8 87.1 171.9 89.0 174.0 89.3 175.0 87.3 176.1 87.1 177.4 88.6 178.7 88.1 179.1 85.5 180.7 85.3 181.4 84.3Z" fill="#feb752"/><path d="M193.5 82.8 192.9 84.6 192.3 85.1 192.9 87.4 193.9 88.4 195.0 88.3 196.5 89.2 197.1 88.7 196.8 85.9 196.3 84.8 195.5 84.7 194.5 82.9Z" fill="#fec561"/><path d="M134.6 85.5 134.3 85.0 132.7 85.2 133.6 87.9 136.5 89.0 138.2 88.7 139.1 90.4 140.6 89.4 140.2 87.7 139.1 87.0 136.7 87.4 136.4 86.8 137.0 85.8 136.5 85.1ZM115.1 98.9 115.5 101.0 117.0 102.9 118.6 102.6 119.0 100.9 117.4 100.1 117.4 98.4Z" fill="#fc612f"/><path d="M151.5 85.1 151.0 86.0 151.5 87.0 153.4 87.3 152.9 84.9Z" fill="#de181d"/><path d="M153.7 87.4 154.7 87.3 155.2 89.8 157.1 89.0 158.9 89.0 159.0 85.2 154.7 85.3 153.3 84.7 152.9 84.9Z" fill="#fb4b29"/><path d="M178.7 88.1 177.4 88.6 176.1 87.1 175.0 87.3 174.9 88.1 177.0 90.7 176.7 94.1 178.5 94.6 178.9 95.8 180.5 96.7 181.5 95.5 183.0 95.7 183.2 95.3 182.4 93.0 182.9 92.2 183.3 89.1 182.8 86.9 181.7 86.6 180.7 85.3 179.1 85.5Z" fill="#fea446"/><path d="M192.3 85.1 190.5 84.4 189.0 86.2 189.4 86.8 189.0 88.4 189.7 89.1 191.5 88.7 191.8 89.4 193.2 90.1 193.9 88.4 192.9 87.4Z" fill="#fea948"/><path d="M151.0 86.0 147.3 87.2 147.2 89.0 148.6 89.5 149.7 89.0 150.8 89.1 151.5 87.0Z" fill="#e31b1c"/><path d="M150.9 89.2 152.3 89.2 153.2 88.6 153.7 87.4 151.5 87.0Z" fill="#e41c1d"/><path d="M153.2 88.6 154.7 90.4 154.8 90.3 155.2 89.8 154.7 87.3 153.7 87.4Z" fill="#f94828"/><path d="M159.1 86.4 159.0 93.2 161.0 93.2 161.2 94.8 161.7 95.4 162.2 95.3 163.1 94.5 163.0 93.2 161.9 90.8 162.4 89.8 163.8 89.4 163.2 87.7 161.8 87.7Z" fill="#febb56"/><path d="M165.0 87.1 163.2 87.7 163.8 89.4 162.4 89.8 161.9 90.8 163.0 93.2 163.1 94.5 165.1 95.2 165.4 93.3 164.5 91.2Z" fill="#fd7435"/><path d="M164.5 91.2 165.4 93.3 165.3 95.6 168.9 95.1 169.3 93.4 171.4 93.9 171.3 91.7 172.5 91.6 172.9 91.0 172.5 89.3 171.7 89.0 170.6 87.3 169.6 87.1 168.9 86.3 167.0 87.5 165.0 87.1Z" fill="#fd8d3c"/><path d="M196.0 89.2 195.2 90.4 200.7 87.3 199.1 87.5 196.8 85.9 197.1 88.7Z" fill="#febd58"/><path d="M86.9 88.0 84.7 88.6 83.4 89.5 82.9 90.6 83.2 91.4 82.3 93.0 83.2 94.0 84.7 93.2 85.0 94.6 85.7 95.0 88.7 94.8 89.3 94.5 89.1 93.4 88.5 92.7 88.6 91.8 87.2 90.2 87.7 89.0Z" fill="#fa4929"/><path d="M134.2 90.7 132.6 93.1 133.0 93.4 133.3 97.3 132.1 98.9 134.9 99.8 135.1 99.2 137.3 98.5 137.5 97.7 139.1 97.2 139.4 96.7 139.2 95.7 138.1 95.1 138.0 94.6 138.8 92.7 139.1 90.4 138.2 88.7 136.5 89.0 133.6 87.9 132.3 88.7Z" fill="#feb650"/><path d="M139.1 90.4 138.8 92.7 138.0 94.6 138.1 95.1 139.2 95.7 139.4 96.7 139.1 97.2 137.5 97.7 137.3 98.5 137.7 99.2 138.7 99.1 139.5 98.3 140.8 99.4 141.3 98.8 142.4 98.6 143.6 97.1 143.0 95.3 143.5 94.7 142.7 91.3 143.6 90.8 143.6 89.4 142.7 88.4 141.4 89.7 140.6 89.4Z" fill="#feb04b"/><path d="M143.0 92.8 144.9 93.1 145.3 94.5 147.2 95.4 146.9 97.9 148.6 98.8 149.9 98.4 150.6 99.2 152.7 98.7 152.9 97.7 154.0 96.9 152.4 94.9 153.6 91.4 151.5 90.9 150.8 89.1 149.7 89.0 148.6 89.5 145.4 88.9 144.9 88.4 143.6 89.4 143.6 90.8 142.7 91.3Z" fill="#feaa48"/><path d="M152.3 89.2 150.9 89.2 151.0 90.3 151.5 90.9 153.6 91.4 154.0 91.0ZM157.7 93.7 157.3 97.3 158.0 97.6 159.2 99.5 160.8 98.5 160.3 96.8 161.7 95.4 161.2 94.8 159.5 94.6 159.0 93.2Z" fill="#feb54f"/><path d="M154.0 91.0 153.0 93.7 155.0 94.7 156.0 93.1 157.7 93.7 159.0 93.2 158.9 91.2 156.8 91.7 154.7 90.4 153.2 88.6 152.3 89.2Z" fill="#fd9d43"/><path d="M157.1 89.0 154.8 90.3 156.8 91.7 158.9 91.2 158.9 89.0Z" fill="#fd923e"/><path d="M174.0 89.3 172.5 89.3 172.9 91.0 172.5 91.6 173.1 92.3 172.6 93.4 171.4 93.9 171.0 96.1 172.9 97.0 173.3 96.6 175.0 97.2 175.7 96.0 175.6 95.0 176.7 94.1 177.0 90.7 174.9 88.1Z" fill="#fd9f44"/><path d="M183.3 89.1 182.9 92.2 182.4 93.0 183.1 96.0 189.9 93.0 189.1 92.0 189.7 89.1 189.0 88.4 184.5 89.2Z" fill="#feaf4b"/><path d="M189.9 93.0 193.6 91.0 193.2 90.1 191.8 89.4 191.5 88.7 189.7 89.1 189.1 92.0Z" fill="#feb24d"/><path d="M192.9 91.4 195.2 90.4 196.0 89.2 195.0 88.3 193.9 88.4 193.2 90.1 193.6 91.0Z" fill="#fec15c"/><path d="M173.1 92.3 172.5 91.6 171.3 91.7 171.6 93.6 172.6 93.4Z" fill="#fd933f"/><path d="M77.3 98.5 76.9 98.9 77.6 100.8 76.9 103.0 77.0 104.5 79.4 104.5 80.0 103.3 82.0 104.3 83.0 103.9 83.3 99.2 85.1 99.6 85.8 98.5 87.2 98.7 88.7 94.8 85.7 95.0 85.0 94.6 84.4 93.1 83.2 94.0 82.3 93.0 80.8 93.0 78.8 94.4 76.5 95.1 77.4 96.7Z" fill="#fea848"/><path d="M83.0 102.8 83.0 103.9 82.0 104.3 81.2 105.7 81.7 106.7 82.3 106.8 83.3 108.8 84.1 108.7 85.4 109.5 86.1 109.3 87.4 110.1 88.9 108.4 88.2 107.5 88.6 106.6 88.3 105.2 88.8 103.0 88.3 100.9 85.5 100.4 84.9 101.2 84.9 102.2ZM90.6 94.7 89.3 94.5 88.7 94.8 87.2 98.7 89.1 98.9 91.0 99.7 93.1 98.6 93.2 97.7 92.1 96.6 93.1 94.8 92.9 93.4 91.8 93.1Z" fill="#fd8e3d"/><path d="M143.5 94.7 143.0 95.3 143.6 97.1 142.4 98.6 143.5 99.8 144.5 98.7 146.1 99.2 146.9 97.9 147.2 95.4 145.3 94.5 144.9 93.1 143.3 93.0ZM136.5 101.1 137.8 103.0 138.4 103.1 138.9 100.9 137.6 100.4Z" fill="#fea044"/><path d="M157.7 93.7 156.0 93.1 155.0 94.7 155.2 95.3 154.6 96.8 155.5 97.7 157.3 97.3Z" fill="#fc4f2a"/><path d="M161.0 93.2 159.0 93.2 159.5 94.6 161.2 94.8Z" fill="#fd9d43"/><path d="M169.3 93.4 168.9 95.1 171.0 96.1 171.4 93.9Z" fill="#fea647"/><path d="M96.4 95.1 94.3 95.2 93.1 94.8 92.1 96.6 93.2 97.7 93.1 98.6 93.8 99.2 95.5 98.9 96.9 100.4 97.2 100.3 98.3 98.8 97.2 97.4 98.6 96.0 98.8 95.1 97.5 94.4Z" fill="#fd7d37"/><path d="M153.0 93.7 152.4 94.9 154.0 96.9 152.9 97.7 152.7 98.7 150.6 99.2 149.9 98.4 148.6 98.8 148.2 100.7 153.2 101.3 152.7 98.7 155.4 99.0 155.5 97.7 154.6 96.8 155.2 95.3 155.0 94.7Z" fill="#e8241f"/><path d="M163.9 97.3 162.2 95.3 161.7 95.4 161.3 95.9 162.8 97.8Z" fill="#feb34e"/><path d="M163.1 94.5 162.2 95.3 163.9 97.3 164.8 97.3 165.5 99.3 167.6 98.9 168.0 97.6 167.5 95.5 165.3 95.6Z" fill="#fd9f44"/><path d="M168.9 97.3 169.1 95.2 167.5 95.5 168.0 97.6Z" fill="#fea647"/><path d="M168.9 97.3 168.0 97.6 167.6 98.9 168.5 99.5 168.7 100.6 167.9 101.5 168.4 102.5 170.6 101.6 170.3 100.9 171.2 99.2 170.5 98.7 170.3 97.5 171.0 96.1 169.1 95.2Z" fill="#fd933f"/><path d="M175.6 95.0 175.0 97.2 175.4 98.9 178.6 97.7 178.3 96.4 178.9 95.7 178.5 94.6 176.7 94.1Z" fill="#fd9941"/><path d="M178.3 96.4 178.6 97.7 183.1 96.0 183.0 95.7 181.5 95.5 180.5 96.7 178.9 95.8Z" fill="#feb34d"/><path d="M87.2 98.8 87.0 100.6 88.3 100.9 88.8 103.0 88.3 105.2 88.6 106.6 88.2 107.5 88.9 108.4 87.4 110.1 87.5 110.8 88.7 111.6 90.5 110.9 91.2 112.3 92.5 112.4 93.5 111.1 94.7 111.4 94.7 112.9 95.7 113.6 98.4 113.6 99.6 115.0 100.3 115.0 100.6 113.2 101.6 112.6 104.1 113.1 106.8 111.2 105.9 109.1 106.7 108.7 107.6 106.6 109.3 106.3 110.2 104.9 106.9 102.2 106.6 101.2 105.3 100.6 104.9 98.4 104.1 98.6 103.3 99.8 101.0 99.6 101.5 97.3 99.4 97.4 98.6 96.0 97.2 97.4 98.3 98.8 96.9 100.4 95.5 98.9 93.8 99.2 93.1 98.6 91.0 99.7 89.1 98.9Z" fill="#fc602f"/><path d="M155.4 99.0 152.7 98.7 153.4 101.1 155.4 101.8 155.8 102.5 156.5 102.4 157.5 101.3 159.3 101.2 159.2 99.5 158.0 97.6 157.3 97.3 155.5 97.7Z" fill="#fc5c2e"/><path d="M161.1 98.6 162.8 97.8 161.3 95.9 160.3 96.8Z" fill="#fd903d"/><path d="M162.4 98.3 160.8 98.5 159.2 99.5 159.3 101.2 160.6 101.4 161.8 102.8 163.8 103.0 164.5 102.3 165.5 99.3 164.8 97.3 163.9 97.3Z" fill="#fd873a"/><path d="M171.2 99.2 170.3 100.9 170.6 101.6 175.8 98.9 175.0 97.2 173.3 96.6 172.9 97.0 171.0 96.1 170.3 97.5 170.5 98.7Z" fill="#fd9b42"/><path d="M72.9 103.7 73.2 105.0 75.2 105.2 76.9 104.6 77.6 100.8 76.9 98.9 75.6 98.4 74.5 99.2 73.0 98.8 72.5 101.6 71.7 103.4Z" fill="#feb34d"/><path d="M134.9 99.8 132.6 99.3 133.2 102.2 135.3 102.7 135.6 103.5 137.8 103.0 136.5 101.1 137.6 100.4 137.3 98.5 135.1 99.2Z" fill="#fea245"/><path d="M137.6 100.4 138.9 100.9 138.4 103.1 142.4 103.1 144.0 105.1 144.8 104.9 145.0 103.3 147.0 102.5 147.0 101.0 146.1 99.2 144.5 98.7 143.5 99.8 142.4 98.6 141.3 98.8 140.8 99.4 139.5 98.3 138.7 99.1 137.7 99.2Z" fill="#fed977"/><path d="M148.6 98.8 146.9 97.9 146.1 99.2 147.0 101.0 148.2 100.7Z" fill="#fece6b"/><path d="M168.5 99.5 167.6 98.9 165.5 99.3 165.2 100.2 167.0 101.7 167.9 101.5 168.7 100.6Z" fill="#fd953f"/><path d="M107.6 106.6 106.7 108.7 105.9 109.1 106.8 111.2 107.3 111.4 107.4 112.9 106.7 114.1 108.0 115.0 111.1 114.6 111.5 114.2 113.2 115.0 113.7 113.8 112.6 112.3 113.3 111.3 112.3 109.6 113.0 108.9 113.3 107.6 112.4 106.8 114.9 104.1 116.7 103.5 117.6 104.7 118.8 104.7 119.3 103.4 118.6 102.6 117.0 102.9 115.8 101.0 113.3 101.2 112.4 102.9 110.8 102.5 108.8 103.6 110.2 104.9 109.3 106.3Z" fill="#fc6831"/><path d="M147.0 101.0 147.2 102.8 148.9 103.2 149.4 104.6 151.0 104.7 150.4 100.7Z" fill="#fc562c"/><path d="M150.8 101.0 151.0 104.7 152.7 104.4 153.6 105.0 155.4 104.3 155.8 102.5 155.4 101.8 153.4 101.1Z" fill="#fc512b"/><path d="M158.4 103.3 159.1 101.5 157.5 101.3 156.5 102.4 155.8 102.5 155.4 104.3 156.6 104.9 157.8 103.4Z" fill="#f33c25"/><path d="M159.3 101.2 158.4 103.3 159.2 104.5 160.1 104.7 161.8 102.8 160.6 101.4Z" fill="#fd9740"/><path d="M162.9 103.1 162.5 105.1 163.2 105.4 164.2 104.4 168.4 102.5 167.9 101.5 167.0 101.7 165.2 100.2 164.5 102.3Z" fill="#fd893b"/><path d="M67.1 133.2 67.5 130.8 71.0 130.7 72.5 128.7 71.6 126.9 70.6 126.1 70.8 123.4 69.7 123.3 69.0 121.3 68.5 121.1 64.5 125.8 65.9 132.8Z" fill="#feb54f"/><path d="M69.0 121.3 69.7 123.3 70.8 123.4 70.6 126.1 71.6 126.9 72.5 128.7 74.2 128.9 75.1 130.0 77.1 129.3 76.6 127.9 77.4 126.8 79.0 127.3 79.3 127.0 79.7 125.0 78.2 123.1 79.3 119.5 78.5 118.9 75.5 118.9 75.3 119.3 72.9 118.9 73.4 116.9 72.9 116.3 72.8 114.0 75.1 113.2 75.5 114.1 77.6 115.1 78.9 113.2 78.6 111.5 77.4 111.0 77.2 110.3 78.8 108.9 78.9 107.4 77.7 106.6 76.9 104.6 75.2 105.2 73.2 105.0 72.9 103.7 71.7 103.4 70.8 105.7 72.6 115.5 72.0 117.9 68.5 121.1Z" fill="#feb650"/><path d="M114.0 104.8 112.4 106.8 113.3 107.6 113.0 108.9 112.3 109.6 113.3 111.3 112.6 112.3 113.7 113.8 115.0 113.4 117.1 113.8 117.4 113.0 118.5 112.5 118.8 110.5 117.3 109.3 117.8 107.1 118.8 106.9 118.8 104.7 117.6 104.7 116.7 103.5Z" fill="#fd8038"/><path d="M119.3 103.4 118.8 106.9 117.8 107.1 117.3 109.3 118.8 110.5 118.5 112.5 117.4 113.0 117.3 114.3 119.1 114.5 120.1 113.2 120.9 113.0 122.0 113.0 122.6 113.6 124.8 113.7 125.3 113.1 124.8 111.5 124.9 109.4 122.7 108.8 122.5 106.5 120.6 106.5 121.1 103.3ZM119.2 120.9 119.5 119.7 117.6 118.4 117.2 120.2 117.7 120.8Z" fill="#febc56"/><path d="M121.1 103.3 120.6 106.5 122.5 106.5 122.7 108.8 124.9 109.4 124.8 111.5 125.3 113.1 127.0 113.6 128.6 112.6 128.7 111.2 127.9 110.7 127.4 109.4 128.6 108.4 128.6 103.3 127.5 103.0 126.0 103.5 124.5 104.7 123.3 104.3 123.0 103.4Z" fill="#feb14b"/><path d="M123.4 102.8 123.0 103.4 123.3 104.3 124.5 104.7 126.0 103.5 124.9 102.6ZM132.7 103.1 130.3 103.1 131.0 105.2 132.8 103.9ZM132.9 107.0 134.0 108.9 133.2 109.4 132.8 111.6 133.5 112.9 134.6 112.7 135.5 110.8 136.9 111.4 137.9 109.0 136.4 107.8 137.4 106.1 135.4 104.7 133.2 104.3Z" fill="#fd903d"/><path d="M128.6 103.3 128.6 108.4 127.4 109.4 127.9 110.7 128.7 111.2 128.6 112.6 130.6 113.5 130.9 114.9 133.4 114.3 133.5 112.9 132.8 111.6 133.2 109.4 134.0 108.9 132.9 107.0 133.2 104.3 136.8 105.4 138.0 103.1 135.6 103.5 135.3 102.7 133.2 102.2 132.8 103.9 131.0 105.2 130.3 103.1Z" fill="#fd9f44"/><path d="M141.1 103.0 138.0 103.1 136.8 105.4 137.4 106.1 136.4 107.8 137.9 109.0 137.0 111.6 139.1 111.7 141.0 110.9 141.5 111.4 142.9 111.5 143.5 110.2 144.5 110.4 145.4 109.4 146.5 109.3 146.3 107.4 145.8 107.2 145.2 105.1 143.3 104.6 141.1 105.3Z" fill="#feaa49"/><path d="M143.3 104.6 142.6 103.2 141.1 103.0 141.1 105.3Z" fill="#fea345"/><path d="M144.8 104.9 147.0 104.8 147.0 102.5 145.0 103.3Z" fill="#fed572"/><path d="M147.0 104.8 145.2 105.1 145.8 107.2 148.6 107.0 149.4 104.6 149.1 103.4 147.2 102.8Z" fill="#feaf4b"/><path d="M158.1 105.6 159.2 104.5 158.4 103.3 157.8 103.4 156.6 104.9 156.9 105.4Z" fill="#fc6b32"/><path d="M160.1 104.7 160.6 105.5 160.5 106.7 160.9 108.0 163.2 105.4 162.5 105.1 162.9 103.1 161.8 102.8Z" fill="#fd8139"/><path d="M77.7 106.6 78.9 107.4 78.8 108.9 77.2 110.3 77.4 111.0 78.6 111.5 78.9 113.2 80.3 113.3 80.6 114.5 81.4 114.9 82.5 114.6 83.0 112.9 84.6 113.3 85.4 109.5 84.1 108.7 83.3 108.8 82.3 106.8 81.7 106.7 81.2 105.7 79.7 105.3 79.4 104.5 77.0 104.5Z" fill="#fd883b"/><path d="M148.6 107.0 148.8 108.7 150.7 109.2 151.4 107.3 151.3 104.9 149.4 104.6Z" fill="#e9261f"/><path d="M152.7 104.4 151.3 104.9 151.4 107.3 153.4 106.6 153.6 105.0Z" fill="#fc522b"/><path d="M156.9 105.4 155.4 104.3 153.6 105.0 153.4 106.6 154.9 107.8 156.2 107.1Z" fill="#fd7635"/><path d="M157.1 107.7 158.6 106.7 158.1 105.6 156.9 105.4 156.2 107.1Z" fill="#fc4d2a"/><path d="M159.2 104.5 158.1 105.6 158.6 106.7 157.1 107.7 157.6 108.8 158.7 109.1 159.9 108.8 160.3 109.3 160.9 108.0 160.5 106.7 160.6 105.5 160.1 104.7Z" fill="#fd7435"/><path d="M146.3 107.4 146.6 108.9 148.8 108.7 148.6 107.0 147.3 106.9Z" fill="#fea145"/><path d="M153.4 106.6 151.4 107.3 150.7 109.2 151.0 109.8 154.8 108.4 154.9 107.8Z" fill="#fb4c29"/><path d="M154.8 108.4 157.2 109.1 157.6 108.8 157.1 107.7 156.2 107.1 154.9 107.8Z" fill="#f23924"/><path d="M85.4 109.5 84.6 113.3 88.3 113.5 88.7 111.6 87.5 110.8 87.4 110.1 86.1 109.3ZM98.0 117.3 98.5 117.3 99.6 115.0 98.4 113.6 97.1 113.4 97.0 116.0Z" fill="#fd863a"/><path d="M144.5 110.4 143.5 110.2 142.9 111.5 143.5 112.7 145.4 112.8 145.4 114.9 147.0 115.1 147.5 113.4 146.8 112.4 147.4 111.2 148.2 111.0 148.6 108.9 145.4 109.4Z" fill="#fd9941"/><path d="M150.7 109.2 148.8 108.7 148.2 111.0 148.9 111.2 150.8 109.7Z" fill="#fd8d3c"/><path d="M154.8 110.8 154.7 108.7 153.2 108.9 151.5 109.9 153.3 111.3Z" fill="#fc6d33"/><path d="M155.1 110.6 155.8 110.8 156.7 112.5 158.5 112.5 159.0 111.9 158.5 110.9 158.7 109.1 154.8 108.4Z" fill="#ee3022"/><path d="M159.9 108.8 158.7 109.1 158.5 110.9 159.0 111.9 160.3 109.3Z" fill="#fd8b3b"/><path d="M90.2 110.9 88.7 111.6 88.3 113.5 88.7 114.9 89.2 115.2 91.1 114.7 92.8 115.0 93.4 113.8 94.7 112.9 94.7 111.4 93.5 111.1 92.5 112.4 91.2 112.3Z" fill="#fc6631"/><path d="M106.8 111.2 104.1 113.1 105.1 115.4 106.7 114.1 107.4 112.9 107.3 111.4Z" fill="#fc6731"/><path d="M134.6 112.7 133.5 112.9 133.4 114.3 135.1 115.3 137.1 114.3 137.3 113.5 139.6 113.1 139.1 111.7 137.0 111.6 135.5 110.8Z" fill="#fea647"/><path d="M139.1 111.7 139.6 113.1 140.9 114.8 142.9 114.3 145.4 114.9 145.4 112.8 145.0 112.5 143.5 112.7 142.9 111.5 141.5 111.4 141.0 110.9Z" fill="#fd8239"/><path d="M149.2 113.5 149.6 112.5 148.9 111.2 147.4 111.2 146.8 112.4 147.5 113.4Z" fill="#fc602f"/><path d="M149.2 113.5 149.6 114.6 150.5 115.3 152.1 115.2 153.3 111.3 150.8 109.7 148.9 111.2 149.6 112.5Z" fill="#fc5d2e"/><path d="M155.8 110.8 153.3 111.3 152.6 112.8 154.4 113.7 154.9 115.1 156.3 115.2 158.5 112.5 156.7 112.5Z" fill="#f23824"/><path d="M77.7 115.0 75.5 114.1 75.1 113.2 72.8 114.0 72.9 116.3 73.4 116.9 72.9 118.9 75.3 119.3 75.5 118.9 78.5 118.9 79.3 119.5 78.2 123.1 79.7 125.0 82.5 125.2 83.4 124.4 83.2 122.9 84.7 121.9 84.6 121.1 83.0 119.5 83.2 117.3 84.5 116.8 84.7 113.4 83.0 112.9 82.5 114.6 81.4 114.9 80.6 114.5 80.3 113.3 78.9 113.2Z" fill="#fff39f"/><path d="M84.7 113.4 84.5 116.8 83.2 117.3 83.1 120.0 84.6 121.0 84.7 121.9 83.2 122.9 83.4 124.4 86.2 124.9 86.9 124.5 87.4 123.0 87.0 122.1 87.4 120.9 87.0 120.2 87.8 118.7 87.0 117.2 87.4 116.0 88.7 114.9 88.3 113.5ZM94.9 123.8 92.9 123.0 89.8 123.3 88.7 125.1 89.1 126.9 91.3 126.5 91.7 124.7 93.2 124.8 93.8 125.4 94.7 125.6Z" fill="#fff5a2"/><path d="M87.0 117.2 87.8 118.7 87.0 120.2 87.4 120.9 87.0 122.1 87.4 123.0 86.9 124.5 88.7 125.1 89.8 123.3 92.9 123.0 94.9 123.8 97.2 123.0 96.8 121.2 97.7 119.6 97.2 118.4 98.0 117.3 97.0 116.0 97.1 113.3 95.7 113.6 94.7 112.9 93.4 113.8 92.8 115.0 88.7 114.9 87.4 116.0Z" fill="#fd9b42"/><path d="M102.5 114.4 102.9 113.1 102.6 112.8 101.6 112.6 100.6 113.2 100.3 115.0 99.3 115.2 98.5 117.3 97.2 118.4 97.7 119.6 100.6 119.2 102.9 119.7 103.1 117.8 101.8 117.0 103.3 115.4ZM108.0 115.0 106.7 116.8 106.8 120.1 108.8 121.4 109.5 119.8 110.5 119.7 111.6 118.9 108.9 114.7Z" fill="#fd8e3c"/><path d="M102.5 114.4 103.3 115.4 101.8 117.0 103.1 117.8 103.1 119.4 104.2 119.6 105.6 118.5 106.7 118.5 106.7 116.8 108.0 115.0 106.7 114.1 105.1 115.4 104.1 113.1 102.9 113.1Z" fill="#fd8138"/><path d="M113.4 115.9 113.8 117.4 111.8 118.9 114.8 119.1 115.1 118.3 117.4 118.1 117.7 116.6 117.1 113.8 115.0 113.4 113.7 113.8Z" fill="#fea044"/><path d="M123.0 115.5 122.0 113.0 120.1 113.2 119.1 114.5 117.3 114.3 117.1 115.1 117.7 116.6 117.4 118.1 119.5 119.7 121.1 118.5 120.8 117.6Z" fill="#fec661"/><path d="M122.5 119.0 121.1 118.5 119.5 119.7 119.2 120.9 117.7 120.8 116.7 123.1 119.1 122.6 119.7 123.5 121.0 122.9 122.8 123.3 123.2 122.9 124.3 123.1 125.4 122.3 125.5 121.0 126.3 120.5 126.3 119.6 125.5 118.5 125.5 117.7 124.7 117.3 124.2 115.7 124.8 113.7 122.6 113.6 123.0 115.5 122.3 116.2 123.6 117.8Z" fill="#feac49"/><path d="M125.3 113.1 124.2 115.7 124.7 117.3 125.5 117.7 125.5 118.5 126.3 119.6 126.3 120.5 127.5 121.3 128.1 120.9 128.5 119.9 127.7 119.1 127.7 117.6 126.8 117.0 127.5 115.0 127.0 113.6Z" fill="#fea848"/><path d="M127.5 115.0 126.8 117.0 127.7 117.6 127.7 119.1 128.5 119.9 128.1 120.9 129.8 122.8 130.3 122.8 131.1 120.5 131.3 117.4 132.6 117.0 133.7 114.8 133.4 114.3 130.9 114.9 130.6 113.5 128.6 112.6 127.0 113.6Z" fill="#feaf4b"/><path d="M137.1 114.3 135.1 115.3 133.7 114.8 132.6 117.0 133.4 117.4 135.1 117.2 135.5 119.0 137.3 119.7 137.4 121.4 138.8 121.1 138.7 119.7 140.1 119.3 140.9 118.1 140.9 114.8 139.6 113.1 137.3 113.5Z" fill="#fea144"/><path d="M148.0 118.8 151.7 117.4 150.4 117.4 150.5 115.3 149.6 114.6 149.2 113.5 147.5 113.4 147.0 115.1 147.8 116.4 147.1 117.2Z" fill="#fea546"/><path d="M152.1 115.2 153.0 116.0 153.0 116.9 156.3 115.2 154.9 115.1 154.4 113.7 152.7 113.0Z" fill="#f64227"/><path d="M111.5 114.2 111.1 114.6 108.9 114.7 110.1 117.0 110.8 117.1 112.6 120.7 114.8 120.4 115.6 122.7 116.7 123.1 117.7 120.8 117.2 120.2 117.6 118.4 115.1 118.3 114.8 119.1 111.8 118.9 113.8 117.4 113.2 115.0Z" fill="#fd9640"/><path d="M143.1 116.5 142.9 114.3 140.9 114.8 141.0 116.3Z" fill="#fea546"/><path d="M143.5 117.1 145.0 117.3 145.4 114.9 143.2 114.6 143.1 116.5Z" fill="#fec05b"/><path d="M147.0 115.1 145.6 115.2 145.0 117.3 145.6 119.7 148.0 118.8 147.1 117.2 147.8 116.4Z" fill="#fea948"/><path d="M152.1 115.2 150.5 115.3 150.4 117.4 153.0 116.9 153.0 116.0Z" fill="#fea245"/><path d="M122.5 119.0 123.6 117.8 122.3 116.2 120.8 117.6 121.1 118.5Z" fill="#fec25d"/><path d="M131.6 117.0 130.6 123.0 137.4 121.4 137.3 119.7 135.5 119.0 135.1 117.2 133.4 117.4Z" fill="#fea546"/><path d="M140.1 119.3 138.7 119.7 138.8 121.1 142.8 120.0 142.5 118.3 143.5 117.1 143.1 116.5 141.0 116.3 140.9 118.1Z" fill="#fea245"/><path d="M145.7 119.2 145.0 117.3 143.5 117.1 142.5 118.3 142.9 119.7 142.3 120.5 145.4 119.8Z" fill="#feaf4b"/><path d="M100.4 119.3 97.7 119.6 96.8 121.2 97.3 123.1 100.6 123.0 100.9 123.4 102.5 123.4 103.3 125.0 104.3 125.2 104.9 124.8 105.1 123.1 107.2 123.3 108.2 122.8 108.9 121.7 106.8 120.1 107.0 119.0 106.7 118.5 105.6 118.5 104.2 119.6Z" fill="#f64126"/><path d="M109.5 119.8 108.2 122.8 109.3 124.8 108.9 125.8 109.3 126.2 109.1 128.4 110.6 129.0 111.3 128.5 112.6 129.2 113.4 130.8 115.8 130.4 117.2 129.6 116.7 127.4 118.7 126.7 118.3 124.8 117.2 124.1 116.7 123.1 115.6 122.7 114.8 120.4 112.6 120.7 111.6 118.9 110.5 119.7Z" fill="#fd933f"/><path d="M124.3 123.1 123.2 122.9 122.7 123.9 124.2 125.7 130.6 123.4 130.3 122.8 128.7 123.4 127.3 123.0 127.5 121.3 126.3 120.5 125.5 121.0 125.4 122.3Z" fill="#feb24c"/><path d="M127.3 123.0 128.7 123.4 129.8 122.8 128.1 120.9 127.5 121.3Z" fill="#fd9b42"/><path d="M94.9 123.8 94.7 125.6 93.8 125.4 93.2 124.8 91.7 124.7 91.3 126.5 90.4 126.9 91.5 129.3 90.7 130.5 92.5 131.3 93.1 129.0 94.6 129.9 95.3 129.2 97.2 129.6 97.3 130.5 98.3 131.1 99.3 130.6 98.6 128.9 97.6 129.1 96.8 127.2 98.5 126.6 97.3 123.1Z" fill="#ffffb2"/><path d="M102.5 123.4 97.3 123.1 97.3 123.9 98.3 125.1 98.5 126.6 99.5 127.0 100.3 126.5 101.7 127.8 102.5 128.0 104.4 127.2 105.2 127.8 106.2 127.3 107.2 127.5 109.0 126.0 109.3 124.8 108.2 122.8 107.2 123.3 105.1 123.1 104.9 124.8 104.3 125.2 103.3 125.0Z" fill="#febb56"/><path d="M116.7 127.4 117.2 129.6 124.2 125.7 122.7 123.9 122.8 123.3 121.0 122.9 119.7 123.5 119.1 122.6 116.8 123.2 117.2 124.1 118.3 124.8 118.7 126.7Z" fill="#feb550"/><path d="M130.6 123.0 130.6 123.4 131.4 123.1Z" fill="#feb44e"/><path d="M77.4 126.8 76.6 127.9 77.5 130.4 79.1 131.1 79.0 132.3 79.4 132.9 80.8 132.4 81.7 133.6 81.8 134.8 83.8 133.0 82.2 131.2 83.6 130.3 82.7 129.0 83.6 127.3 82.5 125.2 79.7 125.0 79.0 127.3Z" fill="#feb54f"/><path d="M82.7 129.0 83.6 130.3 82.2 131.2 83.8 133.0 81.8 134.8 82.7 136.3 84.3 136.9 85.6 138.8 87.0 139.0 88.6 137.1 90.8 136.6 91.5 137.0 92.4 136.8 93.0 131.9 92.5 131.3 90.7 130.5 91.5 129.3 90.4 126.9 89.1 126.9 88.7 125.1 86.9 124.5 85.1 124.8 83.4 124.4 82.5 125.2 83.6 127.3Z" fill="#feec94"/><path d="M99.5 127.0 98.5 126.6 96.8 127.2 97.6 129.1 99.5 128.4Z" fill="#feac49"/><path d="M99.5 128.4 100.6 129.7 102.3 129.6 103.6 131.0 103.3 133.2 104.5 133.6 106.9 132.2 106.8 131.0 104.6 130.4 105.2 127.8 104.4 127.2 102.5 128.0 101.7 127.8 100.3 126.5 99.5 127.0Z" fill="#feb44e"/><path d="M106.2 127.3 105.2 127.8 104.6 130.4 106.8 131.0 107.7 128.5 107.2 127.5Z" fill="#febf5a"/><path d="M107.7 128.5 106.8 131.0 106.9 132.2 113.4 130.8 112.6 129.2 111.3 128.5 110.6 129.0 109.4 128.7 109.0 126.0 107.2 127.5Z" fill="#fd8e3d"/><path d="M78.8 130.7 77.5 130.4 77.1 129.3 75.1 130.0 74.2 128.9 72.5 128.7 71.0 130.7 71.4 132.7 71.0 133.8 71.5 134.6 74.7 135.1 75.6 133.3 76.7 133.2 78.4 134.9 77.2 136.8 77.5 137.5 76.9 138.7 78.7 139.9 79.6 138.8 81.7 138.3 82.5 138.9 83.0 138.6 83.5 136.8 82.7 136.3 80.8 132.4 79.4 132.9 79.0 132.3Z" fill="#feb14c"/><path d="M94.6 129.9 93.1 129.0 92.5 131.3 93.0 133.2 92.5 134.3 92.4 136.8 94.2 136.1 95.2 134.2 96.6 135.2 98.9 134.9 99.1 133.0 98.6 132.6 98.3 131.1 97.3 130.5 97.2 129.6 95.3 129.2Z" fill="#fd7a37"/><path d="M99.3 130.6 98.3 131.1 98.6 132.6 99.1 133.0 99.2 135.1 101.5 134.7 101.6 135.9 104.5 133.6 103.3 133.2 103.6 131.0 102.3 129.6 100.6 129.7 99.5 128.4 98.6 128.9Z" fill="#feec94"/><path d="M63.6 150.7 65.4 150.1 66.4 150.6 67.5 149.5 68.9 149.8 69.5 148.5 69.1 147.4 67.1 146.8 67.0 146.4 69.4 144.4 68.7 142.1 67.5 141.6 67.2 141.0 68.0 139.2 66.9 137.2 67.0 135.6 68.8 134.9 68.3 133.3 68.9 132.9 71.0 133.8 71.4 132.7 71.0 130.7 67.5 130.8 67.1 133.2 65.9 132.8 66.9 137.7 66.9 143.2Z" fill="#feb34d"/><path d="M67.0 135.6 66.9 137.2 68.0 139.2 67.2 141.0 67.5 141.6 68.7 142.1 69.4 144.4 67.0 146.4 67.1 146.8 69.1 147.4 69.5 148.5 69.1 150.2 70.4 150.7 72.5 149.5 72.1 147.7 73.5 146.8 73.1 145.7 72.2 145.1 73.4 141.2 72.6 138.8 71.1 137.8 71.9 136.5 71.0 133.8 68.9 132.9 68.3 133.3 68.8 134.9Z" fill="#fea346"/><path d="M72.6 138.8 73.4 141.2 72.2 145.1 73.1 145.7 73.5 146.8 76.6 147.4 76.9 147.9 78.9 147.1 78.5 145.1 78.6 142.7 77.3 142.3 77.0 141.3 78.6 140.3 78.7 139.9 76.9 138.7 77.5 137.5 77.2 136.8 78.4 134.9 76.7 133.2 75.6 133.3 74.7 135.1 71.5 134.6 71.9 136.5 71.1 137.8Z" fill="#fea647"/><path d="M98.9 134.9 96.6 135.2 95.2 134.2 94.2 136.1 92.6 136.8 93.5 138.1 94.4 138.5 94.4 140.2 95.9 140.8 96.1 141.5 98.7 138.8 98.8 137.3 99.2 137.0Z" fill="#fd9640"/><path d="M98.8 137.3 98.7 138.8 101.6 135.9 101.5 134.7 99.2 135.1 99.2 137.0Z" fill="#fff6a3"/><path d="M85.4 138.5 84.3 136.9 83.5 136.8 83.0 138.6Z" fill="#fff8a6"/><path d="M88.6 137.1 87.6 137.9 87.0 139.0 87.3 139.3 92.5 139.5 93.5 138.1 92.4 136.8 91.5 137.0 90.8 136.6ZM93.6 143.0 93.0 145.0 94.2 143.1ZM88.3 145.5 88.9 145.8 90.7 144.1 90.6 143.3 89.3 143.4Z" fill="#fffdaf"/><path d="M79.6 138.8 77.0 141.3 77.3 142.3 78.6 142.7 78.5 145.1 79.0 146.9 82.6 146.6 83.0 145.3 84.3 144.7 84.6 143.1 85.3 142.6 84.6 140.6 85.6 138.8 85.4 138.5 82.5 138.9 81.7 138.3Z" fill="#fd9b42"/><path d="M84.6 140.6 85.3 142.6 87.2 144.2 88.3 143.0 88.3 141.6 87.0 139.0 85.6 138.8Z" fill="#fea345"/><path d="M92.5 139.5 87.3 139.3 87.4 140.5 88.3 141.6 88.3 143.0 90.6 143.3 90.7 144.1 91.6 144.9 92.9 144.8 93.6 143.0 93.1 142.5 93.5 140.6Z" fill="#fecf6c"/><path d="M92.5 139.5 93.5 140.6 93.1 142.5 94.4 143.3 96.1 141.5 95.9 140.8 94.4 140.2 94.4 138.5 93.5 138.1Z" fill="#fd9740"/><path d="M87.2 144.2 85.3 142.6 84.6 143.1 84.3 144.7 83.0 145.3 82.6 146.6 83.5 147.3 83.6 149.1 85.3 149.7 86.8 149.1 86.5 148.0 89.2 146.7 88.9 145.8 87.3 144.9Z" fill="#fd923e"/><path d="M88.3 143.0 87.2 144.2 87.3 144.9 88.3 145.5 89.3 143.4Z" fill="#fec35e"/><path d="M91.6 144.9 90.7 144.1 88.9 145.8 89.2 146.7 86.5 148.0 87.7 150.9 88.5 151.1 90.6 150.0 89.3 148.2 89.6 147.1 91.2 146.8Z" fill="#fff9a9"/><path d="M92.9 144.8 91.6 144.9 91.2 146.8 89.6 147.1 89.3 148.2 90.6 150.0 88.5 151.1 89.6 153.0 90.4 152.9 91.4 153.6 93.1 152.6 93.7 151.1 93.7 149.3 90.9 147.8Z" fill="#fff4a0"/><path d="M94.9 151.2 93.3 151.2 93.1 152.6 93.7 153.5 94.8 153.5 95.5 153.0 97.6 154.7 97.9 154.5 98.2 153.5 97.0 151.3 95.0 150.1Z" fill="#fedb78"/><path d="M76.6 147.4 73.5 146.8 72.1 147.7 73.5 153.0 74.4 153.3 75.1 154.8 76.4 154.5 77.6 153.0 78.4 153.1 79.2 154.8 82.4 155.0 83.0 152.9 82.6 151.3 83.3 150.9 83.2 149.4 79.5 148.5 78.5 149.7 77.5 149.6Z" fill="#feac49"/><path d="M78.9 147.1 76.9 147.9 77.5 149.6 78.5 149.7 79.5 148.5 81.2 149.2 83.6 149.1 83.5 147.3 82.6 146.6Z" fill="#fd9941"/><path d="M74.6 159.3 72.8 157.9 73.4 157.3 72.8 153.2 71.7 153.4 71.3 155.1 69.1 155.7 67.3 154.2 67.5 152.9 66.7 152.0 68.9 149.8 67.5 149.5 66.4 150.6 65.4 150.1 63.6 150.7 63.5 152.3 67.3 154.7 71.9 159.4 74.2 160.8Z" fill="#feb04b"/><path d="M72.5 149.5 70.4 150.7 69.1 150.2 66.7 152.0 67.5 152.9 67.3 154.2 69.1 155.7 71.3 155.1 71.7 153.4 73.5 153.0Z" fill="#fea346"/><path d="M83.2 149.4 83.3 150.9 82.6 151.3 83.0 152.9 82.4 155.0 82.8 155.3 84.1 154.3 85.7 155.0 89.6 153.0 86.8 149.1 85.3 149.7 84.4 149.2Z" fill="#fee78c"/><path d="M93.7 151.1 94.9 151.2 95.0 150.1 93.7 149.3Z" fill="#fecc68"/><path d="M72.8 153.2 73.4 157.3 72.8 157.9 74.6 159.3 74.2 160.8 77.6 162.8 78.0 163.5 78.9 162.9 79.2 161.3 78.2 159.7 79.7 158.6 80.9 158.6 81.0 159.2 83.4 160.2 85.0 157.6 86.2 157.5 87.0 155.0 86.8 154.6 85.7 155.0 84.1 154.3 82.8 155.3 80.6 155.1 79.2 154.8 78.4 153.1 77.6 153.0 76.4 154.5 75.2 154.8 74.4 153.3 73.5 153.0Z" fill="#feb650"/><path d="M90.4 152.9 86.9 154.0 86.8 154.6 88.4 155.8 87.4 157.8 89.8 160.4 91.8 158.0 97.6 154.7 95.5 153.0 94.8 153.5 93.7 153.5 93.0 155.0Z" fill="#fed875"/><path d="M91.4 153.6 93.0 155.0 93.7 153.5 93.1 152.6Z" fill="#fee88d"/><path d="M87.0 155.0 86.2 157.5 87.4 157.8 88.4 155.8Z" fill="#febd58"/><path d="M87.4 157.8 85.4 157.7 85.8 159.3 87.0 159.8 88.0 158.5ZM78.0 163.5 77.9 163.5 78.0 163.5Z" fill="#feaf4b"/><path d="M80.3 160.6 81.0 159.2 80.9 158.6 79.7 158.6 78.2 159.7 79.2 161.3Z" fill="#fec35e"/><path d="M80.1 160.9 79.2 161.3 78.9 162.9 78.0 163.5 79.4 165.4 85.4 163.4 87.6 162.1 87.0 159.8 85.8 159.3 85.0 157.6 83.4 160.2 81.0 159.2Z" fill="#febf5a"/><path d="M87.0 159.8 87.6 162.1 89.8 160.4 88.0 158.5Z" fill="#fed572"/></g></g>
<polygon points="87.1,15.4 89.8,15.1 93.2,17.4 97.8,18.3 101.2,18.7 103.9,20.1 107.9,22.1 111.9,23.4 117.9,23.4 120.6,24.7 122.6,27.4 124.0,32.8 126.3,36.0 130.7,39.3 137.8,38.2 147.8,40.4 149.6,38.2 151.2,41.5 155.6,43.7 157.8,42.6 163.4,42.6 169.0,44.9 175.0,48.1 180.2,47.5 183.7,45.8 187.2,42.8 191.6,41.1 195.0,40.2 198.5,39.4 202.0,40.6 204.6,42.3 207.2,44.6 209.8,46.3 212.5,47.5 213.3,49.8 210.7,51.6 208.1,52.4 206.4,55.0 205.5,58.5 207.2,62.0 208.1,66.4 209.8,71.6 209.0,75.1 207.2,79.4 204.6,82.9 201.1,85.5 200.0,86.6 196.8,88.5 193.1,90.3 189.5,92.1 185.9,93.9 181.1,95.7 176.2,97.5 172.0,99.9 167.8,101.7 163.6,103.6 160.5,106.6 158.1,111.4 155.7,114.4 152.1,116.2 147.2,118.0 145.0,118.9 140.7,119.8 135.5,120.7 130.3,122.4 125.1,124.2 119.8,126.8 115.5,129.4 111.1,130.3 106.8,131.1 102.4,133.7 98.9,137.2 96.3,139.8 93.7,142.5 91.1,145.9 89.4,148.2 92.8,149.9 96.3,152.0 97.2,153.8 93.7,155.5 91.1,157.3 88.5,160.4 85.0,162.5 82.0,163.5 79.5,164.4 78.4,162.1 72.5,158.6 67.9,153.9 64.3,151.6 65.5,148.1 67.9,143.4 67.9,137.6 66.7,131.7 65.5,125.9 65.8,125.5 68.5,122.5 70.9,120.1 72.9,118.5 73.6,115.5 72.9,112.1 72.3,109.4 71.8,105.7 73.5,101.9 74.1,98.2 71.6,94.4 71.3,90.6 72.2,88.4 75.0,86.0 77.8,82.8 80.6,80.3 83.5,78.5 82.1,75.6 82.9,72.8 85.3,70.0 87.8,65.3 88.5,60.6 88.1,55.0 89.8,52.9 90.5,47.5 89.8,42.2 89.1,38.2 89.8,32.8 90.5,30.1 89.1,27.4 87.8,23.4 86.4,18.0" fill="none" stroke="#6b4a2a" stroke-width="0.35" stroke-opacity="0.8"/>
<line x1="163.6" y1="103.2" x2="215.6" y2="108.8" stroke="#b5b5b5" stroke-width="0.5"/>
<line x1="155.5" y1="113.2" x2="175.1" y2="164.5" stroke="#b5b5b5" stroke-width="0.5"/>
<rect x="155.5" y="103.3" width="7.6" height="10" fill="#707070" fill-opacity="0.3" stroke="#333" stroke-width="0.9"/>
<rect x="175.1" y="108.8" width="40.5" height="55.7" fill="#fff"/>
<clipPath id="ins13"><polygon points="175.1,108.8 215.6,108.8 215.6,116.5 212.9,122.5 209.7,126.8 206.4,131.1 203.2,135.4 201.1,140.0 198.4,143.9 198.8,146.6 197.6,146.4 196.3,146.1 194.1,149.3 192.5,154.7 191.4,157.9 190.4,161.1 189.8,164.5 175.1,164.5"/></clipPath><g clip-path="url(#ins13)"><g stroke="#4a3422" stroke-width="0.35" stroke-opacity="0.75"><path d="M174.2 116.7 175.1 115.8 176.6 115.5 177.5 114.3 179.6 114.0 180.2 112.9 181.3 113.1 181.5 112.6 180.7 110.2 179.8 109.9 178.7 110.5 178.2 107.8 174.9 107.8 174.2 108.4Z" fill="#fc4d2a"/><path d="M178.2 107.8 178.7 110.5 179.8 109.9 180.7 110.2 181.5 112.6 183.2 111.5 183.7 110.4 185.9 110.2 186.4 108.8 186.0 107.8Z" fill="#fc6832"/><path d="M186.0 107.9 186.4 108.8 185.9 110.2 186.3 110.5 187.8 109.9 188.2 110.7 188.0 111.5 189.4 111.7 189.3 112.8 189.9 113.1 193.3 112.7 193.3 111.7 193.9 111.3 194.9 111.8 196.3 108.4 195.9 107.8Z" fill="#fd8d3c"/><path d="M196.3 108.4 195.6 110.0 196.5 111.2 197.8 111.4 197.7 112.7 198.2 113.1 199.0 113.1 199.6 111.8 200.4 111.8 201.1 110.6 202.1 110.5 202.0 109.2 202.8 109.0 203.1 108.0 204.3 107.8 195.9 107.8Z" fill="#fd8e3c"/><path d="M202.1 110.5 201.1 110.6 200.4 111.8 199.6 111.8 199.0 113.1 199.7 114.2 202.1 113.4 202.8 113.7 203.3 114.6 204.5 113.8 204.4 113.1 205.4 112.6 206.2 111.5 206.4 109.8 205.9 107.8 203.1 108.0 202.8 109.0 202.0 109.2Z" fill="#fd9a42"/><path d="M205.9 107.8 206.2 111.5 207.5 111.5 208.3 112.5 209.8 112.5 209.9 111.2 208.4 109.5 208.5 107.9Z" fill="#fd8d3c"/><path d="M208.5 107.9 208.8 107.8 208.4 107.8ZM211.1 108.2 210.6 109.3 211.0 109.8 212.1 110.1 213.5 109.7 213.5 107.8 210.6 107.8Z" fill="#fd6f33"/><path d="M213.6 108.9 214.6 108.5 216.6 109.2 216.4 108.2 215.7 107.8 213.5 107.8Z" fill="#fd7736"/><path d="M208.4 108.9 209.9 111.2 209.9 112.3 211.0 112.4 211.2 111.2 212.2 111.4 212.1 110.1 210.6 109.3 211.1 108.2 210.6 107.8 208.5 107.9Z" fill="#fd8f3d"/><path d="M214.6 108.5 213.6 108.9 213.2 109.9 212.1 110.1 212.2 111.4 214.8 111.1 214.7 110.3 215.5 109.1Z" fill="#fd8e3c"/><path d="M215.8 109.0 214.7 110.3 214.8 111.1 216.3 113.0 216.6 112.9 216.6 109.2Z" fill="#fd9740"/><path d="M183.7 110.4 183.2 111.5 181.5 112.6 181.5 114.1 182.3 114.2 182.8 115.8 183.7 115.7 184.1 116.7 183.5 117.2 184.0 118.4 184.8 118.1 185.7 119.1 188.0 118.9 188.8 120.1 189.2 120.1 190.1 119.1 189.8 118.4 190.4 116.7 189.9 113.1 189.3 112.8 189.4 111.7 188.0 111.5 188.2 110.7 187.8 109.9 186.3 110.5 185.9 110.2Z" fill="#fd7736"/><path d="M193.3 112.7 189.9 113.1 190.4 116.7 189.8 119.6 190.9 120.7 191.8 119.3 192.9 120.4 195.1 120.3 195.5 118.2 196.5 118.0 197.1 116.7 197.8 116.7 198.0 115.3 199.0 115.2 199.7 114.2 199.0 113.1 197.7 112.7 197.8 111.4 196.5 111.2 195.6 110.0 195.3 110.1 194.9 111.8 193.9 111.3 193.3 111.7Z" fill="#fd9841"/><path d="M205.4 112.6 204.4 113.1 204.5 113.8 203.2 115.1 205.8 115.4 206.2 114.2 208.3 114.2 208.3 112.5 207.7 111.5 205.9 111.6Z" fill="#fd9740"/><path d="M209.9 112.3 209.9 113.7 211.3 114.6 212.3 114.0 212.9 115.1 213.6 115.1 213.7 113.8 212.5 113.6 212.3 113.1 213.3 112.3 213.2 111.6 211.2 111.2 211.0 112.4Z" fill="#fd9841"/><path d="M213.2 111.6 213.3 112.3 212.3 113.1 214.0 114.3 214.6 114.3 216.0 112.9 215.5 111.6 214.8 111.1Z" fill="#fd7a37"/><path d="M177.5 114.3 176.6 115.5 175.1 115.8 174.1 116.7 174.1 119.2 175.0 120.5 177.0 121.1 178.4 122.3 179.9 121.9 179.7 120.7 180.1 120.4 181.3 120.4 182.4 118.3 183.8 118.7 183.5 117.2 184.1 116.7 183.7 115.7 182.8 115.8 182.5 115.3 182.3 114.2 181.5 114.1 181.3 113.1 180.2 112.9 179.6 114.0Z" fill="#fc4d2a"/><path d="M208.3 112.5 208.3 114.2 207.3 116.3 209.5 116.8 210.0 115.6 209.3 114.3 209.9 113.7 209.8 112.5Z" fill="#fea848"/><path d="M216.6 112.9 215.3 113.2 214.6 114.3 214.0 114.3 213.7 115.3 215.0 115.9 215.8 115.2 216.6 115.8Z" fill="#fc592d"/><path d="M202.1 113.4 199.7 114.2 199.0 115.2 199.3 115.8 198.9 116.7 199.3 117.7 200.6 118.2 200.2 118.9 200.7 119.5 204.6 118.8 204.2 116.9 204.6 115.4 203.2 115.1 202.8 113.7Z" fill="#fec35e"/><path d="M206.2 114.2 205.8 115.4 204.6 115.4 204.6 116.7 205.5 116.7 206.1 117.8 207.0 117.8 208.0 114.4Z" fill="#feb954"/><path d="M213.6 115.1 212.9 115.1 212.3 114.0 211.3 114.6 209.9 113.7 209.3 114.3 210.0 115.6 209.5 116.8 209.8 117.6 210.6 117.9 211.4 117.3 213.4 118.2Z" fill="#fd7a37"/><path d="M196.5 118.0 195.5 118.2 195.1 120.3 194.3 120.6 194.3 121.8 196.8 122.9 197.3 122.1 198.1 122.0 198.5 123.1 200.0 123.0 199.9 121.7 201.0 121.5 201.2 121.0 200.1 120.3 200.7 119.5 200.2 118.9 200.6 118.2 199.3 117.7 198.9 116.7 199.3 115.8 199.0 115.2 198.0 115.3 197.8 116.7 197.1 116.7Z" fill="#feb14c"/><path d="M215.0 115.9 213.7 115.3 213.3 116.6 213.7 117.1 213.5 118.1 214.9 118.5 216.0 118.1 216.6 116.5 216.6 115.8 215.8 115.2Z" fill="#fc6932"/><path d="M204.5 118.9 203.0 119.1 203.4 120.3 205.4 120.6 207.2 120.1 207.0 117.8 206.1 117.8 205.5 116.7 204.2 116.9 204.8 118.5Z" fill="#fea345"/><path d="M207.3 116.3 207.1 117.7 208.0 117.8 208.7 119.0 209.4 119.0 210.0 117.8 209.5 116.8Z" fill="#feb04b"/><path d="M182.4 118.3 181.3 120.4 179.7 120.7 179.9 121.9 178.4 122.3 178.3 123.2 179.5 123.3 180.1 124.3 180.6 124.2 181.5 124.9 182.4 124.6 183.0 125.9 185.1 127.0 185.5 125.7 186.5 124.9 187.7 124.7 187.6 123.9 186.8 123.2 187.8 120.8 188.8 120.1 188.0 118.9 185.7 119.1 184.8 118.1 183.8 118.7Z" fill="#fc6731"/><path d="M207.0 117.8 207.2 120.1 208.4 120.7 208.5 121.4 210.4 121.0 209.4 120.1 209.8 119.6 209.4 119.0 208.4 118.8 208.0 117.8Z" fill="#feb14c"/><path d="M210.0 117.8 209.4 120.1 211.0 121.1 211.2 119.7 212.6 118.1 211.4 117.3 210.6 117.9Z" fill="#f94728"/><path d="M211.4 119.5 211.1 120.8 214.8 120.6 216.0 118.1 214.9 118.5 212.6 118.1Z" fill="#f84628"/><path d="M174.1 131.2 177.0 129.5 177.3 128.1 176.5 127.1 178.2 126.7 178.8 124.2 178.4 122.1 177.0 121.1 175.0 120.5 174.1 119.2Z" fill="#f23824"/><path d="M189.8 119.6 187.8 120.8 186.8 123.2 187.6 123.9 187.7 124.7 186.5 124.9 185.5 125.7 185.4 126.8 186.4 127.2 186.5 128.2 190.2 128.9 190.3 127.3 192.5 126.7 193.0 125.7 192.7 124.9 194.1 124.2 194.3 120.6 192.9 120.4 191.8 119.3 191.1 120.7Z" fill="#fd903d"/><path d="M203.0 119.1 200.7 119.5 200.1 120.3 201.2 121.0 201.0 121.5 199.9 121.7 200.0 123.0 203.1 123.0 203.3 121.7 204.2 121.8 204.8 120.6 203.4 120.3Z" fill="#fc522b"/><path d="M206.7 120.5 204.8 120.6 204.2 121.8 203.3 121.7 203.1 123.0 203.5 123.5 206.9 122.8 207.2 122.3Z" fill="#feb24c"/><path d="M208.4 120.7 207.2 120.1 206.7 120.5 207.1 123.6 208.9 123.2 208.3 122.0Z" fill="#fec460"/><path d="M211.0 121.1 208.5 121.4 208.3 122.0 208.9 123.2 208.5 125.1 211.0 124.4 210.7 123.0 211.6 122.1Z" fill="#f74327"/><path d="M211.0 121.1 211.6 122.1 210.7 123.0 211.0 124.4 212.1 125.3 214.8 120.6 212.7 120.6Z" fill="#f13824"/><path d="M194.1 122.1 194.1 124.2 192.7 124.9 193.0 125.7 192.5 126.7 195.1 128.3 195.7 127.9 195.8 127.1 196.7 126.6 197.5 127.2 198.2 126.0 197.6 124.9 198.2 124.4 198.5 123.1 198.1 122.0 197.3 122.1 196.8 122.9 195.9 122.7 195.6 122.1Z" fill="#feb650"/><path d="M178.7 125.6 178.2 126.7 176.5 127.1 177.3 128.1 177.0 129.5 175.5 130.0 176.5 131.1 182.3 131.1 183.6 130.0 183.9 128.5 185.0 127.9 186.5 128.2 186.4 127.2 183.7 126.4 182.9 125.9 182.4 124.6 181.5 124.9 180.6 124.2 180.1 124.3 179.5 123.3 178.5 123.2Z" fill="#f23824"/><path d="M198.2 124.4 200.1 124.9 200.2 126.0 200.9 126.6 201.7 126.0 201.7 124.9 202.3 124.6 201.7 123.1 200.0 123.0 198.5 123.1Z" fill="#feac4a"/><path d="M201.7 123.1 202.3 124.6 201.7 124.9 201.7 126.0 202.4 126.4 203.3 126.2 203.7 125.5 204.9 125.8 205.3 125.5 205.5 125.0 204.8 124.4 204.8 123.4 203.5 123.5 202.1 122.8Z" fill="#feba55"/><path d="M206.9 122.8 204.8 123.4 204.8 124.4 205.5 125.0 206.6 124.6 206.8 126.0 208.2 126.0 208.8 123.4 207.1 123.6Z" fill="#fd7736"/><path d="M197.6 124.9 198.2 126.0 197.5 127.2 198.4 128.0 199.4 128.3 200.6 127.7 200.9 126.6 200.2 126.0 200.1 124.9 198.2 124.4Z" fill="#fea446"/><path d="M205.5 125.0 204.9 125.8 203.7 125.5 203.3 126.2 203.8 127.1 207.4 127.6 208.2 126.9 208.2 126.0 206.8 125.9 206.6 124.6Z" fill="#f33c25"/><path d="M211.0 124.4 208.5 125.1 208.2 126.0 208.3 126.7 209.8 126.9 209.6 128.3 212.1 125.3Z" fill="#f54026"/><path d="M203.3 126.2 202.4 126.4 201.7 126.0 200.9 126.6 200.7 128.2 201.8 129.1 202.0 130.1 203.6 129.7 203.2 128.7 203.8 127.1Z" fill="#fd9e43"/><path d="M190.2 128.9 188.8 128.7 189.0 129.5 187.8 130.3 187.8 130.9 188.7 131.1 190.0 132.4 191.1 132.3 191.6 132.7 192.7 132.3 193.4 132.5 194.2 131.4 194.2 129.8 195.2 129.7 195.1 128.3 192.5 126.7 190.3 127.3Z" fill="#fea747"/><path d="M195.7 127.9 195.1 128.3 195.2 129.7 196.6 129.5 197.0 130.1 198.1 130.3 198.2 127.6 196.7 126.6 195.8 127.1Z" fill="#feb650"/><path d="M203.8 127.1 203.2 128.7 203.6 129.7 204.6 130.6 205.5 130.5 206.1 129.5 206.0 128.9 207.6 128.3 207.4 127.6 205.1 127.0Z" fill="#fd9c42"/><path d="M207.4 127.6 207.6 128.3 206.0 128.9 206.1 129.5 207.2 130.2 208.4 130.1 209.7 128.4 209.8 126.9 208.3 126.7Z" fill="#f64126"/><path d="M183.6 130.0 182.3 131.1 181.0 131.0 181.1 133.3 182.3 133.4 182.7 133.9 182.4 137.4 183.8 137.4 184.1 136.9 186.1 138.1 186.5 136.7 187.5 136.8 187.4 135.2 188.5 135.0 189.4 133.8 188.4 132.7 189.2 132.0 188.7 131.1 187.8 130.9 187.8 130.3 189.0 129.5 188.8 128.7 185.0 127.9 183.9 128.5Z" fill="#fc532b"/><path d="M199.4 128.3 198.4 128.0 198.1 130.3 198.7 131.1 200.6 131.1 200.9 129.8 201.7 129.7 201.8 129.1 200.6 127.7Z" fill="#febf5a"/><path d="M174.7 135.8 175.0 137.3 177.3 137.6 176.7 139.0 178.2 138.8 178.6 140.1 179.6 139.6 180.2 138.2 182.4 137.4 182.7 133.9 182.3 133.4 181.1 133.3 181.0 131.0 176.5 131.1 175.5 130.0 174.1 131.2 174.1 135.9Z" fill="#f43e26"/><path d="M196.6 129.5 194.2 129.8 194.1 131.3 196.4 132.5 196.9 132.0 197.0 130.1Z" fill="#fec863"/><path d="M197.0 130.1 196.9 132.0 197.5 132.1 198.3 133.2 199.2 131.7 199.0 131.1Z" fill="#fec15c"/><path d="M203.7 129.7 202.0 130.1 200.9 129.8 200.6 131.1 201.5 131.4 201.8 132.4 203.2 132.7 204.5 132.0 204.2 131.4 204.6 130.6Z" fill="#feb853"/><path d="M205.5 130.5 204.6 130.6 204.2 131.4 204.5 132.0 205.8 132.0 206.6 132.5 208.4 130.1 207.2 130.2 206.1 129.5Z" fill="#f03523"/><path d="M193.8 133.4 192.9 134.4 193.0 135.0 194.1 135.1 196.6 133.9 196.4 132.5 195.4 132.2 195.1 131.5 194.2 131.4 193.4 132.5Z" fill="#feae4a"/><path d="M199.3 130.9 199.2 131.7 198.4 133.6 201.6 133.9 201.5 131.4Z" fill="#feba55"/><path d="M188.4 132.7 189.4 133.8 188.5 135.0 189.2 136.3 190.3 136.7 191.5 136.5 192.7 135.6 192.9 134.4 193.8 133.4 193.5 132.6 192.7 132.3 191.6 132.7 189.2 132.0Z" fill="#fd893b"/><path d="M198.4 133.6 197.5 132.1 196.4 132.5 196.8 134.0Z" fill="#fea245"/><path d="M202.8 132.4 201.6 132.7 201.6 133.9 200.3 134.0 200.3 134.8 200.8 135.3 203.3 134.8 203.8 133.8Z" fill="#fd7b37"/><path d="M203.2 132.7 203.8 133.8 203.3 134.8 204.4 135.3 206.6 132.5 205.8 132.0 204.5 132.0Z" fill="#fc5d2e"/><path d="M195.5 134.7 194.1 135.1 195.4 136.1 195.5 137.4 196.3 137.7 197.0 136.0 196.8 134.0 195.8 134.0Z" fill="#fd883b"/><path d="M196.8 134.0 197.0 136.0 198.9 136.2 199.5 135.8 200.2 136.2 200.8 135.3 200.3 134.8 200.3 134.0 199.3 133.7Z" fill="#fd9941"/><path d="M187.4 135.2 187.5 136.8 186.5 136.7 186.1 138.1 188.3 140.2 189.0 139.8 191.0 139.9 192.2 139.1 191.8 138.4 192.1 137.5 191.5 136.5 189.2 136.3 188.5 135.0Z" fill="#fd7034"/><path d="M193.0 135.0 191.5 136.5 192.1 137.5 195.5 137.4 195.4 136.1 194.1 135.1Z" fill="#fd7435"/><path d="M200.8 135.3 200.2 136.2 200.5 137.3 201.6 137.9 202.4 136.3 201.8 135.2Z" fill="#fc5f2f"/><path d="M202.4 136.3 201.6 137.9 202.7 139.0 204.9 134.7 204.4 135.3 203.3 134.8 201.9 134.9Z" fill="#fc6631"/><path d="M175.0 137.3 174.7 135.8 174.1 135.9 174.3 146.7 175.0 145.4 176.0 146.6 176.8 146.4 176.9 144.4 178.7 144.0 179.0 143.2 178.5 142.6 179.1 141.4 178.6 140.9 178.2 138.8 177.1 139.2 176.7 139.0 177.3 137.6Z" fill="#fea345"/><path d="M197.0 136.0 195.4 138.6 195.7 140.1 196.7 140.0 197.8 140.8 198.8 140.0 198.0 139.2 197.8 136.2Z" fill="#fd9a42"/><path d="M199.5 135.8 197.8 136.2 198.0 139.2 198.8 140.0 199.2 140.0 199.4 137.8 200.5 137.3 200.2 136.2Z" fill="#fd923e"/><path d="M180.2 138.2 179.6 139.6 178.6 140.2 179.1 141.4 178.5 142.6 179.0 143.2 178.7 144.0 179.5 144.5 181.0 143.7 182.4 144.5 182.6 145.1 183.1 145.1 184.0 144.2 184.5 142.9 183.9 142.3 184.8 140.8 186.3 140.3 185.7 139.1 186.2 138.2 184.1 136.9 183.8 137.4 181.3 137.6Z" fill="#fea948"/><path d="M194.2 137.3 192.1 137.5 191.8 138.4 193.2 140.7 194.2 140.2 194.3 138.8 195.4 138.6 195.8 137.7Z" fill="#fc6a32"/><path d="M199.5 137.7 199.2 140.0 200.3 140.1 200.7 141.3 201.4 141.4 202.7 139.0 200.5 137.3Z" fill="#fc6330"/><path d="M185.7 139.1 186.6 141.0 187.7 141.2 187.2 142.4 187.9 143.2 189.1 142.5 189.4 143.7 190.2 144.2 190.8 143.5 190.4 142.5 190.7 141.5 190.0 140.8 190.1 140.0 189.0 139.8 188.3 140.2 186.2 138.2Z" fill="#fead4a"/><path d="M192.2 139.1 191.0 139.9 190.4 139.8 190.0 140.8 190.7 142.1 192.6 142.5 193.2 140.7Z" fill="#fd923e"/><path d="M195.4 138.6 194.3 138.8 194.0 139.2 194.4 141.5 195.3 141.5 195.5 141.9 196.5 141.7Z" fill="#fead4a"/><path d="M187.7 141.2 186.6 141.0 186.3 140.3 184.8 140.8 183.9 142.3 184.5 142.9 184.0 144.2 186.6 145.3 187.3 145.1 187.9 143.2 187.2 142.4Z" fill="#fd883b"/><path d="M193.1 141.1 192.6 142.5 192.7 143.5 193.5 144.3 195.8 143.7 195.2 142.6 195.5 141.9 195.3 141.5 194.4 141.5 194.2 140.2Z" fill="#fd9b42"/><path d="M197.9 141.0 196.7 140.0 196.2 140.2 196.5 141.7 195.5 141.9 195.2 142.6 195.8 143.7 197.1 143.8 198.4 142.8Z" fill="#feb953"/><path d="M197.8 140.8 198.2 141.7 199.7 141.9 200.7 141.3 200.3 140.1 198.8 140.0Z" fill="#fec762"/><path d="M199.3 141.6 198.1 142.1 198.9 143.1 199.0 145.2 199.6 145.5 199.4 144.1 201.4 141.4 199.7 141.9Z" fill="#feb24c"/><path d="M187.9 143.2 187.3 145.1 187.7 145.7 187.3 146.3 187.4 147.8 188.6 147.7 189.1 146.7 190.2 146.2 190.5 145.4 190.2 144.2 189.4 143.7 189.1 142.5Z" fill="#fd8b3b"/><path d="M190.8 143.5 190.2 144.2 190.5 145.4 192.9 145.2 193.5 144.3 192.7 143.5 192.6 142.5 190.7 142.1 190.4 142.5Z" fill="#fd9b42"/><path d="M198.4 142.8 196.5 144.0 196.2 145.5 199.0 145.2 198.9 143.1Z" fill="#feae4a"/><path d="M176.9 144.4 176.8 146.4 177.5 147.0 177.7 148.0 180.1 149.7 181.2 151.4 182.2 150.0 183.0 150.3 184.1 149.8 184.3 149.4 183.3 148.5 183.9 147.5 183.6 146.9 182.4 146.6 182.4 144.5 181.0 143.7 179.5 144.5 177.7 143.9Z" fill="#fea346"/><path d="M182.6 145.1 182.4 146.6 183.6 146.9 183.9 147.5 183.3 148.5 184.3 149.4 185.1 148.1 187.4 147.8 187.3 146.3 187.7 145.7 187.3 145.1 186.6 145.3 184.0 144.2Z" fill="#feb14b"/><path d="M195.8 143.7 193.5 144.3 192.9 145.2 192.9 147.4 195.2 147.9 195.8 147.0 196.8 147.1 197.0 146.8 196.2 145.5 196.5 144.0Z" fill="#febd58"/><path d="M174.1 146.5 174.7 153.5 176.0 152.9 177.0 153.6 177.6 153.1 179.3 153.4 179.8 153.1 180.1 151.9 181.2 151.5 180.1 149.7 177.7 148.0 177.5 147.0 176.8 146.4 175.8 146.4 175.0 145.4 174.3 146.7Z" fill="#feb04b"/><path d="M191.8 145.0 190.5 145.4 190.2 146.2 189.1 146.7 188.6 147.7 189.5 149.6 190.3 149.7 190.8 150.7 191.7 150.8 192.4 150.6 193.3 147.7 192.7 146.8 193.1 145.5Z" fill="#fec460"/><path d="M199.6 145.5 199.0 145.2 196.5 145.6 197.0 146.8 196.8 147.2 199.3 147.5 199.8 146.7Z" fill="#feb650"/><path d="M192.7 149.3 193.7 149.6 194.2 150.7 193.9 151.3 194.4 151.8 195.0 149.7 196.8 147.1 195.8 147.0 195.2 147.9 193.3 147.7Z" fill="#feb24c"/><path d="M188.6 147.7 185.1 148.1 184.1 149.8 184.6 151.3 185.0 152.4 186.5 152.0 186.7 153.3 188.0 153.2 190.8 150.7 190.3 149.7 189.1 149.1 189.2 148.5Z" fill="#febc56"/><path d="M192.4 150.6 190.8 150.7 189.1 152.6 191.4 153.3 191.3 156.2 191.9 156.7 192.9 156.7 194.4 151.8 193.9 151.3 194.2 150.7 193.7 149.6 192.9 149.6Z" fill="#fea647"/><path d="M180.1 151.9 179.8 153.1 181.2 153.5 182.2 154.8 181.9 155.4 182.6 155.9 183.5 155.8 184.0 157.0 185.8 156.1 186.7 153.3 186.5 152.0 185.0 152.4 184.1 149.8 183.0 150.3 182.2 150.0 181.2 151.7Z" fill="#fd933f"/><path d="M174.4 152.5 174.1 159.4 175.5 160.1 176.2 159.2 177.5 159.6 177.1 157.8 177.6 156.6 176.8 155.8 177.0 153.6 176.0 152.9 174.7 153.5Z" fill="#fea446"/><path d="M177.0 153.6 176.8 155.8 177.6 156.6 177.1 157.8 177.5 159.6 179.1 160.7 180.6 160.7 181.3 161.4 182.3 160.9 182.6 160.2 181.2 158.9 182.7 157.3 184.0 157.0 183.7 156.0 181.9 155.4 182.2 154.8 181.2 153.5 179.8 153.1 177.6 153.1Z" fill="#fea044"/><path d="M189.1 152.6 186.7 153.3 185.8 156.1 186.5 156.7 187.4 156.6 187.6 157.3 187.2 158.2 187.6 158.7 190.4 158.2 191.7 156.5 191.3 156.2 191.4 153.3Z" fill="#fec561"/><path d="M185.8 156.1 182.7 157.3 181.2 158.9 182.6 160.2 182.5 160.7 183.8 161.4 183.7 162.2 184.6 162.6 185.1 161.1 186.2 161.3 186.8 162.2 189.1 162.7 188.9 161.1 189.3 160.7 189.4 158.3 187.6 158.7 187.2 158.2 187.6 157.3 187.4 156.6 186.5 156.7Z" fill="#feac49"/><path d="M190.4 158.2 189.4 158.3 189.3 160.7 188.9 161.1 189.4 162.4 191.2 162.4 192.9 156.7 191.7 156.5Z" fill="#feb04b"/><path d="M174.7 165.2 175.3 164.7 176.8 164.8 176.9 163.7 178.1 163.2 178.1 162.1 179.1 160.7 177.7 159.6 176.2 159.2 175.5 160.1 174.1 159.4 174.1 164.6Z" fill="#fd9941"/><path d="M178.1 162.1 178.1 163.2 176.9 163.7 176.8 164.8 175.3 164.7 174.7 165.4 180.9 165.5 180.4 164.8 181.3 163.9 181.0 163.1 181.3 161.4 179.5 160.4Z" fill="#fea145"/><path d="M181.3 161.4 181.0 163.1 181.3 163.9 180.4 164.8 180.9 165.5 186.5 165.5 188.0 164.6 187.4 162.4 186.2 161.3 185.1 161.1 184.6 162.6 183.7 162.2 183.8 161.4 182.5 160.7Z" fill="#feaa48"/><path d="M187.5 165.1 186.6 165.1 186.5 165.5 190.4 165.3 191.2 162.4 187.4 162.4 188.0 163.7Z" fill="#feb44e"/></g></g><polygon points="175.1,108.8 215.6,108.8 215.6,116.5 212.9,122.5 209.7,126.8 206.4,131.1 203.2,135.4 201.1,140.0 198.4,143.9 198.8,146.6 197.6,146.4 196.3,146.1 194.1,149.3 192.5,154.7 191.4,157.9 190.4,161.1 189.8,164.5 175.1,164.5" fill="none" stroke="#4a3422" stroke-width="0.3" stroke-opacity="0.7"/>
<rect x="175.1" y="108.8" width="40.5" height="55.7" fill="none" stroke="#555" stroke-width="0.9"/>
<rect x="55.5" y="7.5" width="166" height="164" fill="none" stroke="#7d7d7d" stroke-width="1"/><linearGradient id="lga" x1="0" y1="1" x2="0" y2="0">
<stop offset="0.000" stop-color="#FFFFB2"/>
<stop offset="0.167" stop-color="#FED976"/>
<stop offset="0.333" stop-color="#FEB24C"/>
<stop offset="0.500" stop-color="#FD8D3C"/>
<stop offset="0.667" stop-color="#FC4E2A"/>
<stop offset="0.833" stop-color="#E31A1C"/>
<stop offset="1.000" stop-color="#B10026"/>
</linearGradient>
<rect x="234.2" y="63.9" width="12.8" height="63.199999999999996" fill="url(#lga)"/>
<text x="234.0" y="59.6" font-size="8.2" fill="#111">Cases (%)</text>
<line x1="234.2" y1="67.8" x2="236.7" y2="67.8" stroke="#fff" stroke-width="0.5" stroke-opacity="0.8"/>
<line x1="244.5" y1="67.8" x2="247.0" y2="67.8" stroke="#fff" stroke-width="0.5" stroke-opacity="0.8"/>
<text x="250.39999999999998" y="70.1" font-size="6.4" fill="#222">45</text>
<line x1="234.2" y1="83.7" x2="236.7" y2="83.7" stroke="#fff" stroke-width="0.5" stroke-opacity="0.8"/>
<line x1="244.5" y1="83.7" x2="247.0" y2="83.7" stroke="#fff" stroke-width="0.5" stroke-opacity="0.8"/>
<text x="250.39999999999998" y="86.0" font-size="6.4" fill="#222">40</text>
<line x1="234.2" y1="99.6" x2="236.7" y2="99.6" stroke="#fff" stroke-width="0.5" stroke-opacity="0.8"/>
<line x1="244.5" y1="99.6" x2="247.0" y2="99.6" stroke="#fff" stroke-width="0.5" stroke-opacity="0.8"/>
<text x="250.39999999999998" y="101.9" font-size="6.4" fill="#222">35</text>
<line x1="234.2" y1="115.5" x2="236.7" y2="115.5" stroke="#fff" stroke-width="0.5" stroke-opacity="0.8"/>
<line x1="244.5" y1="115.5" x2="247.0" y2="115.5" stroke="#fff" stroke-width="0.5" stroke-opacity="0.8"/>
<text x="250.39999999999998" y="117.8" font-size="6.4" fill="#222">30</text><g fill="#EDC3C5">
<rect x="395.70" y="152.50" width="2.15" height="1.20"/>
<rect x="397.85" y="148.70" width="2.15" height="5.00"/>
<rect x="400.01" y="147.20" width="2.15" height="6.50"/>
<rect x="402.16" y="148.10" width="2.15" height="5.60"/>
<rect x="404.32" y="148.60" width="2.15" height="5.10"/>
<rect x="406.47" y="149.20" width="2.15" height="4.50"/>
<rect x="408.62" y="149.70" width="2.15" height="4.00"/>
<rect x="410.78" y="151.20" width="2.15" height="2.50"/>
<rect x="412.93" y="152.20" width="2.15" height="1.50"/>
<rect x="415.09" y="152.40" width="2.15" height="1.30"/>
<rect x="417.24" y="152.70" width="2.15" height="1.00"/>
<rect x="419.39" y="152.70" width="2.15" height="1.00"/>
<rect x="421.55" y="152.80" width="2.15" height="0.90"/>
<rect x="423.70" y="152.90" width="2.15" height="0.80"/>
<rect x="425.86" y="152.90" width="2.15" height="0.80"/>
<rect x="428.01" y="152.90" width="2.15" height="0.80"/>
<rect x="430.16" y="152.80" width="2.15" height="0.90"/>
<rect x="432.32" y="152.10" width="2.15" height="1.60"/>
<rect x="434.47" y="151.20" width="2.15" height="2.50"/>
<rect x="436.63" y="149.50" width="2.15" height="4.20"/>
<rect x="438.78" y="149.20" width="2.15" height="4.50"/>
<rect x="440.93" y="149.70" width="2.15" height="4.00"/>
<rect x="443.09" y="149.90" width="2.15" height="3.80"/>
<rect x="445.24" y="149.90" width="2.15" height="3.80"/>
<rect x="447.40" y="149.50" width="2.15" height="4.20"/>
<rect x="449.55" y="149.20" width="2.15" height="4.50"/>
<rect x="451.70" y="149.40" width="2.15" height="4.30"/>
<rect x="453.86" y="149.90" width="2.15" height="3.80"/>
<rect x="456.01" y="149.10" width="2.15" height="4.60"/>
<rect x="458.17" y="149.10" width="2.15" height="4.60"/>
<rect x="460.32" y="148.40" width="2.15" height="5.30"/>
<rect x="462.47" y="145.10" width="2.15" height="8.60"/>
<rect x="464.63" y="141.60" width="2.15" height="12.10"/>
<rect x="466.78" y="135.10" width="2.15" height="18.60"/>
<rect x="468.94" y="136.30" width="2.15" height="17.40"/>
<rect x="471.09" y="139.10" width="2.15" height="14.60"/>
<rect x="473.24" y="143.80" width="2.15" height="9.90"/>
<rect x="475.40" y="147.60" width="2.15" height="6.10"/>
<rect x="477.55" y="148.40" width="2.15" height="5.30"/>
<rect x="479.71" y="149.10" width="2.15" height="4.60"/>
<rect x="481.86" y="146.70" width="2.15" height="7.00"/>
<rect x="484.01" y="146.40" width="2.15" height="7.30"/>
<rect x="486.17" y="145.90" width="2.15" height="7.80"/>
<rect x="488.32" y="142.10" width="2.15" height="11.60"/>
<rect x="490.48" y="139.50" width="2.15" height="14.20"/>
<rect x="492.63" y="138.40" width="2.15" height="15.30"/>
<rect x="494.78" y="140.60" width="2.15" height="13.10"/>
<rect x="496.94" y="142.70" width="2.15" height="11.00"/>
<rect x="499.09" y="145.90" width="2.15" height="7.80"/>
<rect x="501.25" y="147.60" width="2.15" height="6.10"/>
<rect x="503.40" y="148.40" width="2.15" height="5.30"/>
<rect x="505.55" y="148.70" width="2.15" height="5.00"/>
<rect x="507.71" y="149.10" width="2.15" height="4.60"/>
<rect x="509.86" y="150.10" width="2.15" height="3.60"/>
<rect x="512.02" y="148.40" width="2.15" height="5.30"/>
<rect x="514.17" y="148.40" width="2.15" height="5.30"/>
<rect x="516.32" y="147.60" width="2.15" height="6.10"/>
<rect x="518.48" y="147.20" width="2.15" height="6.50"/>
<rect x="520.63" y="147.20" width="2.15" height="6.50"/>
<rect x="522.79" y="147.70" width="2.15" height="6.00"/>
<rect x="524.94" y="149.10" width="2.15" height="4.60"/>
<rect x="527.09" y="150.80" width="2.15" height="2.90"/>
<rect x="529.25" y="151.30" width="2.15" height="2.40"/>
<rect x="531.40" y="151.60" width="2.15" height="2.10"/>
<rect x="533.56" y="151.90" width="2.15" height="1.80"/>
<rect x="535.71" y="152.40" width="2.15" height="1.30"/>
<rect x="537.86" y="152.40" width="2.15" height="1.30"/>
<rect x="540.02" y="150.30" width="2.15" height="3.40"/>
<rect x="542.17" y="136.30" width="2.15" height="17.40"/>
<rect x="544.33" y="126.20" width="2.15" height="27.50"/>
<rect x="546.48" y="127.10" width="2.15" height="26.60"/>
<rect x="548.63" y="133.10" width="2.15" height="20.60"/>
<rect x="550.79" y="139.50" width="2.15" height="14.20"/>
<rect x="552.94" y="145.10" width="2.15" height="8.60"/>
<rect x="555.10" y="148.10" width="2.15" height="5.60"/>
<rect x="557.25" y="149.60" width="2.15" height="4.10"/>
<rect x="559.40" y="151.30" width="2.15" height="2.40"/>
<rect x="561.56" y="151.90" width="2.15" height="1.80"/>
<rect x="563.71" y="152.40" width="2.15" height="1.30"/>
<rect x="565.87" y="152.90" width="2.15" height="0.80"/>
<rect x="568.02" y="152.90" width="2.15" height="0.80"/>
<rect x="570.17" y="152.90" width="2.15" height="0.80"/>
<rect x="572.33" y="152.90" width="2.15" height="0.80"/>
<rect x="574.48" y="152.90" width="2.15" height="0.80"/>
<rect x="576.64" y="152.80" width="2.15" height="0.90"/>
<rect x="578.79" y="152.70" width="2.15" height="1.00"/>
<rect x="580.94" y="152.60" width="2.15" height="1.10"/>
<rect x="583.10" y="152.10" width="2.15" height="1.60"/>
<rect x="585.25" y="150.50" width="2.15" height="3.20"/>
<rect x="587.41" y="148.90" width="2.15" height="4.80"/>
<rect x="589.56" y="146.80" width="2.15" height="6.90"/>
<rect x="591.71" y="143.50" width="2.15" height="10.20"/>
<rect x="593.87" y="140.30" width="2.15" height="13.40"/>
<rect x="596.02" y="130.70" width="2.15" height="23.00"/>
<rect x="598.18" y="102.00" width="2.15" height="51.70"/>
<rect x="600.33" y="75.20" width="2.15" height="78.50"/>
<rect x="602.48" y="60.00" width="2.15" height="93.70"/>
<rect x="604.64" y="35.70" width="2.15" height="118.00"/>
<rect x="606.79" y="18.00" width="2.15" height="135.70"/>
<rect x="608.95" y="64.80" width="2.15" height="88.90"/>
<rect x="611.10" y="106.80" width="2.15" height="46.90"/>
<rect x="613.25" y="128.00" width="2.15" height="25.70"/>
<rect x="615.41" y="136.00" width="2.15" height="17.70"/>
<rect x="617.56" y="139.80" width="2.15" height="13.90"/>
<rect x="619.72" y="140.20" width="2.15" height="13.50"/>
<rect x="621.87" y="141.50" width="2.15" height="12.20"/>
<rect x="624.02" y="142.60" width="2.15" height="11.10"/>
<rect x="626.18" y="145.80" width="2.15" height="7.90"/>
<rect x="628.33" y="149.80" width="2.15" height="3.90"/>
<rect x="630.49" y="149.00" width="2.15" height="4.70"/>
<rect x="632.64" y="148.00" width="2.15" height="5.70"/>
<rect x="634.79" y="147.00" width="2.15" height="6.70"/>
<rect x="636.95" y="145.80" width="2.15" height="7.90"/>
<rect x="639.10" y="145.30" width="2.15" height="8.40"/>
<rect x="641.26" y="145.80" width="2.15" height="7.90"/>
<rect x="643.41" y="147.40" width="2.15" height="6.30"/>
<rect x="645.56" y="148.00" width="2.15" height="5.70"/>
<rect x="647.72" y="147.00" width="2.15" height="6.70"/>
<rect x="649.87" y="146.60" width="2.15" height="7.10"/>
<rect x="652.03" y="143.40" width="2.15" height="10.30"/>
<rect x="654.18" y="141.50" width="2.15" height="12.20"/>
<rect x="656.33" y="141.20" width="2.15" height="12.50"/>
<rect x="658.49" y="143.90" width="2.15" height="9.80"/>
<rect x="660.64" y="148.10" width="2.15" height="5.60"/>
<rect x="662.80" y="150.40" width="2.15" height="3.30"/>
</g>
<g stroke="#F6DEDE" stroke-width="0.35">
<line x1="395.70" y1="152.50" x2="395.70" y2="153.70"/>
<line x1="397.85" y1="148.70" x2="397.85" y2="153.70"/>
<line x1="400.01" y1="147.20" x2="400.01" y2="153.70"/>
<line x1="402.16" y1="148.10" x2="402.16" y2="153.70"/>
<line x1="404.32" y1="148.60" x2="404.32" y2="153.70"/>
<line x1="406.47" y1="149.20" x2="406.47" y2="153.70"/>
<line x1="408.62" y1="149.70" x2="408.62" y2="153.70"/>
<line x1="410.78" y1="151.20" x2="410.78" y2="153.70"/>
<line x1="412.93" y1="152.20" x2="412.93" y2="153.70"/>
<line x1="415.09" y1="152.40" x2="415.09" y2="153.70"/>
<line x1="417.24" y1="152.70" x2="417.24" y2="153.70"/>
<line x1="419.39" y1="152.70" x2="419.39" y2="153.70"/>
<line x1="421.55" y1="152.80" x2="421.55" y2="153.70"/>
<line x1="423.70" y1="152.90" x2="423.70" y2="153.70"/>
<line x1="425.86" y1="152.90" x2="425.86" y2="153.70"/>
<line x1="428.01" y1="152.90" x2="428.01" y2="153.70"/>
<line x1="430.16" y1="152.80" x2="430.16" y2="153.70"/>
<line x1="432.32" y1="152.10" x2="432.32" y2="153.70"/>
<line x1="434.47" y1="151.20" x2="434.47" y2="153.70"/>
<line x1="436.63" y1="149.50" x2="436.63" y2="153.70"/>
<line x1="438.78" y1="149.20" x2="438.78" y2="153.70"/>
<line x1="440.93" y1="149.70" x2="440.93" y2="153.70"/>
<line x1="443.09" y1="149.90" x2="443.09" y2="153.70"/>
<line x1="445.24" y1="149.90" x2="445.24" y2="153.70"/>
<line x1="447.40" y1="149.50" x2="447.40" y2="153.70"/>
<line x1="449.55" y1="149.20" x2="449.55" y2="153.70"/>
<line x1="451.70" y1="149.40" x2="451.70" y2="153.70"/>
<line x1="453.86" y1="149.90" x2="453.86" y2="153.70"/>
<line x1="456.01" y1="149.10" x2="456.01" y2="153.70"/>
<line x1="458.17" y1="149.10" x2="458.17" y2="153.70"/>
<line x1="460.32" y1="148.40" x2="460.32" y2="153.70"/>
<line x1="462.47" y1="145.10" x2="462.47" y2="153.70"/>
<line x1="464.63" y1="141.60" x2="464.63" y2="153.70"/>
<line x1="466.78" y1="135.10" x2="466.78" y2="153.70"/>
<line x1="468.94" y1="136.30" x2="468.94" y2="153.70"/>
<line x1="471.09" y1="139.10" x2="471.09" y2="153.70"/>
<line x1="473.24" y1="143.80" x2="473.24" y2="153.70"/>
<line x1="475.40" y1="147.60" x2="475.40" y2="153.70"/>
<line x1="477.55" y1="148.40" x2="477.55" y2="153.70"/>
<line x1="479.71" y1="149.10" x2="479.71" y2="153.70"/>
<line x1="481.86" y1="146.70" x2="481.86" y2="153.70"/>
<line x1="484.01" y1="146.40" x2="484.01" y2="153.70"/>
<line x1="486.17" y1="145.90" x2="486.17" y2="153.70"/>
<line x1="488.32" y1="142.10" x2="488.32" y2="153.70"/>
<line x1="490.48" y1="139.50" x2="490.48" y2="153.70"/>
<line x1="492.63" y1="138.40" x2="492.63" y2="153.70"/>
<line x1="494.78" y1="140.60" x2="494.78" y2="153.70"/>
<line x1="496.94" y1="142.70" x2="496.94" y2="153.70"/>
<line x1="499.09" y1="145.90" x2="499.09" y2="153.70"/>
<line x1="501.25" y1="147.60" x2="501.25" y2="153.70"/>
<line x1="503.40" y1="148.40" x2="503.40" y2="153.70"/>
<line x1="505.55" y1="148.70" x2="505.55" y2="153.70"/>
<line x1="507.71" y1="149.10" x2="507.71" y2="153.70"/>
<line x1="509.86" y1="150.10" x2="509.86" y2="153.70"/>
<line x1="512.02" y1="148.40" x2="512.02" y2="153.70"/>
<line x1="514.17" y1="148.40" x2="514.17" y2="153.70"/>
<line x1="516.32" y1="147.60" x2="516.32" y2="153.70"/>
<line x1="518.48" y1="147.20" x2="518.48" y2="153.70"/>
<line x1="520.63" y1="147.20" x2="520.63" y2="153.70"/>
<line x1="522.79" y1="147.70" x2="522.79" y2="153.70"/>
<line x1="524.94" y1="149.10" x2="524.94" y2="153.70"/>
<line x1="527.09" y1="150.80" x2="527.09" y2="153.70"/>
<line x1="529.25" y1="151.30" x2="529.25" y2="153.70"/>
<line x1="531.40" y1="151.60" x2="531.40" y2="153.70"/>
<line x1="533.56" y1="151.90" x2="533.56" y2="153.70"/>
<line x1="535.71" y1="152.40" x2="535.71" y2="153.70"/>
<line x1="537.86" y1="152.40" x2="537.86" y2="153.70"/>
<line x1="540.02" y1="150.30" x2="540.02" y2="153.70"/>
<line x1="542.17" y1="136.30" x2="542.17" y2="153.70"/>
<line x1="544.33" y1="126.20" x2="544.33" y2="153.70"/>
<line x1="546.48" y1="127.10" x2="546.48" y2="153.70"/>
<line x1="548.63" y1="133.10" x2="548.63" y2="153.70"/>
<line x1="550.79" y1="139.50" x2="550.79" y2="153.70"/>
<line x1="552.94" y1="145.10" x2="552.94" y2="153.70"/>
<line x1="555.10" y1="148.10" x2="555.10" y2="153.70"/>
<line x1="557.25" y1="149.60" x2="557.25" y2="153.70"/>
<line x1="559.40" y1="151.30" x2="559.40" y2="153.70"/>
<line x1="561.56" y1="151.90" x2="561.56" y2="153.70"/>
<line x1="563.71" y1="152.40" x2="563.71" y2="153.70"/>
<line x1="565.87" y1="152.90" x2="565.87" y2="153.70"/>
<line x1="568.02" y1="152.90" x2="568.02" y2="153.70"/>
<line x1="570.17" y1="152.90" x2="570.17" y2="153.70"/>
<line x1="572.33" y1="152.90" x2="572.33" y2="153.70"/>
<line x1="574.48" y1="152.90" x2="574.48" y2="153.70"/>
<line x1="576.64" y1="152.80" x2="576.64" y2="153.70"/>
<line x1="578.79" y1="152.70" x2="578.79" y2="153.70"/>
<line x1="580.94" y1="152.60" x2="580.94" y2="153.70"/>
<line x1="583.10" y1="152.10" x2="583.10" y2="153.70"/>
<line x1="585.25" y1="150.50" x2="585.25" y2="153.70"/>
<line x1="587.41" y1="148.90" x2="587.41" y2="153.70"/>
<line x1="589.56" y1="146.80" x2="589.56" y2="153.70"/>
<line x1="591.71" y1="143.50" x2="591.71" y2="153.70"/>
<line x1="593.87" y1="140.30" x2="593.87" y2="153.70"/>
<line x1="596.02" y1="130.70" x2="596.02" y2="153.70"/>
<line x1="598.18" y1="102.00" x2="598.18" y2="153.70"/>
<line x1="600.33" y1="75.20" x2="600.33" y2="153.70"/>
<line x1="602.48" y1="60.00" x2="602.48" y2="153.70"/>
<line x1="604.64" y1="35.70" x2="604.64" y2="153.70"/>
<line x1="606.79" y1="18.00" x2="606.79" y2="153.70"/>
<line x1="608.95" y1="64.80" x2="608.95" y2="153.70"/>
<line x1="611.10" y1="106.80" x2="611.10" y2="153.70"/>
<line x1="613.25" y1="128.00" x2="613.25" y2="153.70"/>
<line x1="615.41" y1="136.00" x2="615.41" y2="153.70"/>
<line x1="617.56" y1="139.80" x2="617.56" y2="153.70"/>
<line x1="619.72" y1="140.20" x2="619.72" y2="153.70"/>
<line x1="621.87" y1="141.50" x2="621.87" y2="153.70"/>
<line x1="624.02" y1="142.60" x2="624.02" y2="153.70"/>
<line x1="626.18" y1="145.80" x2="626.18" y2="153.70"/>
<line x1="628.33" y1="149.80" x2="628.33" y2="153.70"/>
<line x1="630.49" y1="149.00" x2="630.49" y2="153.70"/>
<line x1="632.64" y1="148.00" x2="632.64" y2="153.70"/>
<line x1="634.79" y1="147.00" x2="634.79" y2="153.70"/>
<line x1="636.95" y1="145.80" x2="636.95" y2="153.70"/>
<line x1="639.10" y1="145.30" x2="639.10" y2="153.70"/>
<line x1="641.26" y1="145.80" x2="641.26" y2="153.70"/>
<line x1="643.41" y1="147.40" x2="643.41" y2="153.70"/>
<line x1="645.56" y1="148.00" x2="645.56" y2="153.70"/>
<line x1="647.72" y1="147.00" x2="647.72" y2="153.70"/>
<line x1="649.87" y1="146.60" x2="649.87" y2="153.70"/>
<line x1="652.03" y1="143.40" x2="652.03" y2="153.70"/>
<line x1="654.18" y1="141.50" x2="654.18" y2="153.70"/>
<line x1="656.33" y1="141.20" x2="656.33" y2="153.70"/>
<line x1="658.49" y1="143.90" x2="658.49" y2="153.70"/>
<line x1="660.64" y1="148.10" x2="660.64" y2="153.70"/>
<line x1="662.80" y1="150.40" x2="662.80" y2="153.70"/>
</g>
<g stroke="#2a2a2a" stroke-width="0.8" stroke-dasharray="2.3 3.0">
<line x1="459.6" y1="160.6" x2="459.6" y2="11.3"/>
<line x1="481.4" y1="160.6" x2="481.4" y2="11.3"/>
<line x1="511.9" y1="160.6" x2="511.9" y2="11.3"/>
<line x1="537.8" y1="160.6" x2="537.8" y2="11.3"/>
<line x1="583.4" y1="160.6" x2="583.4" y2="11.3"/>
</g>
<g stroke="#222" stroke-width="0.75">
<line x1="402.0" y1="160.7" x2="402.0" y2="162.8"/>
<line x1="430.4" y1="160.7" x2="430.4" y2="162.8"/>
<line x1="458.8" y1="160.7" x2="458.8" y2="162.8"/>
<line x1="487.2" y1="160.7" x2="487.2" y2="162.8"/>
<line x1="515.3" y1="160.7" x2="515.3" y2="162.8"/>
<line x1="542.9" y1="160.7" x2="542.9" y2="162.8"/>
<line x1="571.9" y1="160.7" x2="571.9" y2="162.8"/>
<line x1="600.2" y1="160.7" x2="600.2" y2="162.8"/>
<line x1="628.5" y1="160.7" x2="628.5" y2="162.8"/>
<line x1="656.4" y1="160.7" x2="656.4" y2="162.8"/>
</g>
<g font-size="6.15" fill="#333" stroke="#666" stroke-width="0.12" text-anchor="middle">
<text x="402.0" y="168.8">2020-04</text>
<text x="430.4" y="168.8">2020-07</text>
<text x="458.8" y="168.8">2020-10</text>
<text x="487.2" y="168.8">2021-01</text>
<text x="515.3" y="168.8">2021-04</text>
<text x="542.9" y="168.8">2021-07</text>
<text x="571.9" y="168.8">2021-10</text>
<text x="600.2" y="168.8">2022-01</text>
<text x="628.5" y="168.8">2022-04</text>
<text x="656.4" y="168.8">2022-07</text>
</g>
<g font-size="6.5" fill="#4a4a4a" text-anchor="end">
<text x="377.0" y="155.9">0</text>
<text x="377.0" y="115.2">1000</text>
<text x="377.0" y="74.6">2000</text>
<text x="377.0" y="33.9">3000</text>
</g>
<text transform="translate(358.8,86.35) rotate(-90)" text-anchor="middle" font-size="7.67" fill="#111">Weekly case rate (x100,000 pop.)</text><g stroke="#ececec" stroke-width="0.7">
<line x1="81.6" y1="205.9" x2="81.6" y2="370.9"/>
<line x1="105.7" y1="205.9" x2="105.7" y2="370.9"/>
<line x1="129.9" y1="205.9" x2="129.9" y2="370.9"/>
<line x1="153.8" y1="205.9" x2="153.8" y2="370.9"/>
<line x1="177.8" y1="205.9" x2="177.8" y2="370.9"/>
<line x1="201.3" y1="205.9" x2="201.3" y2="370.9"/>
<line x1="57.1" y1="236.1" x2="224.1" y2="236.1"/>
<line x1="57.1" y1="268.7" x2="224.1" y2="268.7"/>
<line x1="57.1" y1="301.1" x2="224.1" y2="301.1"/>
<line x1="57.1" y1="333.3" x2="224.1" y2="333.3"/>
<line x1="57.1" y1="365.5" x2="224.1" y2="365.5"/>
</g>
<clipPath id="clipc"><polygon points="89.2,214.3 91.9,214.0 95.3,216.3 99.9,217.2 103.3,217.6 106.0,219.0 110.0,221.0 114.0,222.3 120.0,222.3 122.7,223.6 124.7,226.3 126.1,231.7 128.4,234.9 132.8,238.2 139.9,237.1 149.9,239.3 151.7,237.1 153.3,240.4 157.7,242.6 159.9,241.5 165.5,241.5 171.1,243.8 177.1,247.0 182.3,246.4 185.8,244.7 189.3,241.7 193.7,240.0 197.1,239.1 200.6,238.3 204.1,239.5 206.7,241.2 209.3,243.5 211.9,245.2 214.6,246.4 215.4,248.7 212.8,250.5 210.2,251.3 208.5,253.9 207.6,257.4 209.3,260.9 210.2,265.3 211.9,270.5 211.1,274.0 209.3,278.3 206.7,281.8 203.2,284.4 202.1,285.5 198.9,287.4 195.2,289.2 191.6,291.0 188.0,292.8 183.2,294.6 178.3,296.4 174.1,298.8 169.9,300.6 165.7,302.5 162.6,305.5 160.2,310.3 157.8,313.3 154.2,315.1 149.3,316.9 147.1,317.8 142.8,318.7 137.6,319.6 132.4,321.3 127.2,323.1 121.9,325.7 117.6,328.3 113.2,329.2 108.9,330.0 104.5,332.6 101.0,336.1 98.4,338.7 95.8,341.4 93.2,344.8 91.5,347.1 94.9,348.8 98.4,350.9 99.3,352.7 95.8,354.4 93.2,356.2 90.6,359.3 87.1,361.4 84.1,362.4 81.6,363.3 80.5,361.0 74.6,357.5 70.0,352.8 66.4,350.5 67.6,347.0 70.0,342.3 70.0,336.5 68.8,330.6 67.6,324.8 67.9,324.4 70.6,321.4 73.0,319.0 75.0,317.4 75.7,314.4 75.0,311.0 74.4,308.3 73.9,304.6 75.6,300.8 76.2,297.1 73.7,293.3 73.4,289.5 74.3,287.3 77.1,284.9 79.9,281.7 82.7,279.2 85.6,277.4 84.2,274.5 85.0,271.7 87.4,268.9 89.9,264.2 90.6,259.5 90.2,253.9 91.9,251.8 92.6,246.4 91.9,241.1 91.2,237.1 91.9,231.7 92.6,229.0 91.2,226.3 89.9,222.3 88.5,216.9"/></clipPath>
<g clip-path="url(#clipc)"><g stroke="#4a3422" stroke-width="0.33" stroke-opacity="0.7"><path d="M91.2 225.3 91.7 222.4 93.0 222.0 92.5 218.2 95.1 218.3 95.6 216.3 95.2 215.0 92.0 213.0 88.5 213.5 87.5 216.8 90.0 225.8Z" fill="#fea747"/><path d="M95.6 216.3 95.1 218.3 92.5 218.2 93.0 222.0 91.7 222.4 91.2 225.3 90.0 225.8 90.3 226.8 90.9 227.9 92.7 227.9 93.1 229.9 94.8 229.3 95.0 231.2 96.4 231.9 97.4 233.6 98.6 234.0 99.4 233.4 100.4 234.1 100.8 235.6 101.4 236.2 104.9 235.0 105.3 233.9 104.3 230.3 104.9 228.2 107.2 228.7 109.0 228.4 109.7 227.4 110.9 226.8 109.0 225.1 109.6 224.0 109.1 223.1 109.4 221.5 108.9 220.2 109.1 219.4 103.5 216.6 95.2 215.0Z" fill="#fea948"/><path d="M109.1 223.1 109.6 224.0 109.0 225.1 110.9 226.8 109.7 227.4 109.0 228.4 107.2 228.7 104.9 228.2 104.3 230.3 105.1 232.7 105.1 234.9 106.9 236.0 107.6 234.6 109.5 233.7 112.4 233.9 112.6 232.2 111.7 231.4 111.7 230.2 112.8 229.0 112.8 228.4 114.2 227.8 113.0 225.8 113.2 224.7 115.1 223.6 113.9 221.8 114.4 221.3 109.1 219.4 108.9 220.2 109.4 221.5Z" fill="#e2191c"/><path d="M113.9 221.8 115.1 223.6 113.2 224.7 113.0 225.8 114.2 227.8 112.8 228.4 112.8 229.0 111.7 230.2 111.7 231.4 112.6 232.2 114.7 232.0 115.2 232.4 115.6 234.1 121.3 234.0 122.3 234.2 123.4 235.4 124.4 235.3 125.0 232.1 126.5 232.0 127.4 234.0 128.7 233.6 127.0 231.3 125.6 225.9 123.3 222.8 120.1 221.3 114.4 221.3Z" fill="#e51e1d"/><path d="M128.6 233.6 127.4 234.0 126.5 232.0 125.0 232.1 124.4 235.3 125.3 236.2 126.6 235.9 127.3 237.2 131.1 238.0 132.0 236.3Z" fill="#fd8e3d"/><path d="M131.1 238.0 132.9 238.5 133.1 239.4 131.5 240.5 131.1 241.4 132.8 242.0 133.3 242.9 132.5 244.9 132.9 246.0 134.0 245.8 135.5 247.2 138.9 248.3 139.6 250.3 142.4 249.7 143.2 251.7 144.9 252.6 145.5 253.5 146.5 253.7 147.8 252.0 148.4 252.0 149.6 248.5 150.6 248.0 150.8 246.0 149.5 245.4 149.6 244.7 151.0 242.6 153.5 241.2 156.0 241.8 156.5 241.5 156.2 240.7 154.1 239.7 152.6 236.6 151.8 236.1 151.0 236.4 149.5 238.2 139.9 236.1 133.1 237.1 132.0 236.3Z" fill="#fd8e3c"/><path d="M169.3 243.3 169.4 245.5 171.1 245.7 171.0 247.6 171.6 249.9 170.7 251.9 171.1 252.5 172.2 252.7 173.2 251.8 175.0 252.4 175.0 250.4 174.1 249.6 174.9 248.1 176.7 248.9 177.6 248.1 180.9 247.6 181.2 248.1 183.3 247.1 184.9 247.8 185.6 249.7 185.6 251.8 187.5 251.4 187.5 247.8 186.9 247.3 185.2 247.6 185.1 244.8 184.7 244.1 182.0 245.4 177.3 246.0 169.9 242.2Z" fill="#fd8e3c"/><path d="M184.7 244.4 185.1 244.8 185.2 247.6 186.9 247.3 187.5 247.8 188.7 247.6 189.6 246.4 191.5 246.6 192.1 246.0 190.8 243.5 192.7 240.4 192.0 239.6 188.8 240.8Z" fill="#fea346"/><path d="M192.7 240.4 190.8 243.5 191.4 244.1 193.6 244.0 193.5 246.1 195.6 245.3 196.0 245.6 195.9 247.9 197.4 248.7 198.7 247.1 199.9 247.8 201.0 247.6 202.9 248.1 204.2 247.7 205.7 243.8 204.2 241.1 206.0 240.3 205.6 239.3 204.6 238.7 200.5 237.3 192.0 239.6Z" fill="#fea345"/><path d="M205.6 239.3 206.0 240.3 204.2 241.1 205.7 243.8 204.2 247.7 205.4 248.4 205.2 249.9 205.6 250.4 206.8 250.5 207.9 249.7 209.0 250.2 210.1 250.0 210.6 248.1 211.5 247.8 211.1 245.7 212.5 245.3 212.7 244.5Z" fill="#fd9941"/><path d="M156.2 240.7 157.5 242.4 157.8 243.7 158.5 244.3 160.2 241.8 161.1 242.5 163.1 241.7 163.6 242.2 165.0 242.3 165.8 243.5 165.6 245.6 164.8 245.9 164.3 247.4 164.8 248.2 167.1 247.1 167.6 248.0 169.3 248.1 169.9 249.5 169.1 251.7 170.7 251.9 171.6 249.9 171.0 247.6 171.1 245.7 169.4 245.5 169.3 243.3 169.9 242.2 165.6 240.5 159.8 240.5 157.7 241.5ZM156.0 241.8 153.5 241.2 153.9 243.8 155.1 243.9ZM152.5 248.3 150.6 248.0 149.6 248.5 148.4 252.0 148.8 252.4 151.1 252.3 150.5 254.3 153.2 256.1 155.4 255.8 154.6 253.9 155.7 252.9 155.5 251.6 154.4 250.3 155.3 249.2 155.6 248.0 153.1 247.3Z" fill="#fd8b3b"/><path d="M92.5 247.7 93.4 247.0 93.8 245.7 95.1 244.2 96.8 243.8 97.6 242.2 97.2 241.5 97.7 239.8 98.9 239.5 99.2 237.5 100.9 237.3 101.4 236.2 100.8 235.6 100.4 234.1 99.4 233.4 98.6 234.0 97.4 233.6 96.4 231.9 95.0 231.2 94.8 229.3 93.1 229.9 92.7 227.9 90.9 227.9 91.5 229.1 90.2 237.2 91.5 247.4Z" fill="#fea848"/><path d="M111.2 234.0 110.1 233.5 109.3 234.1 109.6 235.8 110.7 236.2 111.2 237.6 112.1 238.1 111.0 242.0 111.2 244.9 112.7 246.0 112.6 247.3 114.2 248.2 112.1 249.9 112.9 250.6 113.2 252.3 114.7 252.1 114.8 250.1 115.4 249.5 114.8 248.2 115.6 246.3 115.0 245.6 114.9 244.5 115.9 243.6 116.0 242.1 119.2 242.1 119.0 240.1 119.7 238.7 120.6 238.0 121.8 238.5 122.9 237.5 124.4 237.8 125.3 236.2 124.4 235.3 123.4 235.4 122.3 234.2 121.3 234.0 115.6 234.1 115.2 232.4 114.7 232.0 112.6 232.2 112.4 233.9Z" fill="#e41c1d"/><path d="M212.5 245.3 211.1 245.7 211.5 247.8 210.6 248.1 210.1 250.0 211.3 250.7 211.5 252.0 213.4 251.3 216.4 248.9 215.3 245.7 212.7 244.5Z" fill="#fd9a42"/><path d="M104.8 239.4 105.5 245.3 104.3 246.8 105.6 250.6 105.1 251.5 106.9 253.0 108.7 252.2 109.9 254.1 110.8 254.1 111.1 252.5 113.2 252.3 112.9 250.6 112.1 249.9 114.2 248.2 112.6 247.3 112.7 246.0 111.2 244.9 111.0 242.0 112.1 238.1 111.2 237.6 110.7 236.2 109.6 235.8 109.3 234.1 107.6 234.6 106.9 236.0 104.9 235.0Z" fill="#e2191c"/><path d="M104.9 235.0 101.4 236.2 100.9 237.3 99.2 237.5 98.9 239.5 100.5 239.3 101.0 237.5 102.5 238.8 103.6 237.4 105.0 237.7ZM99.3 242.3 99.9 241.5 98.8 239.7 97.7 239.8 97.2 241.5 97.6 242.2ZM94.4 247.6 95.8 247.2 95.8 246.1 94.9 244.8 93.4 246.6Z" fill="#fea747"/><path d="M119.0 240.1 119.2 242.1 116.0 242.1 115.9 243.6 114.9 244.5 115.0 245.6 115.6 246.3 114.8 248.2 115.4 249.5 114.8 250.1 114.7 252.1 115.8 252.6 116.9 251.8 118.4 253.4 119.8 253.9 121.0 253.5 122.9 254.3 124.2 253.9 124.4 251.9 125.1 251.1 126.3 251.6 127.6 249.7 128.5 249.8 129.3 249.2 129.3 247.8 130.5 247.4 131.4 246.3 132.9 246.0 132.5 244.9 133.3 242.9 132.8 242.0 131.1 241.4 131.5 240.5 133.1 239.4 132.9 238.5 127.3 237.2 126.6 235.9 125.3 236.2 124.4 237.8 122.9 237.5 121.8 238.5 120.6 238.0Z" fill="#fd8e3d"/><path d="M97.6 242.2 96.8 243.8 95.1 244.2 94.9 244.8 95.8 246.1 95.8 247.2 94.4 247.6 94.5 249.2 95.7 249.6 95.6 251.4 96.8 252.0 97.1 253.7 98.2 254.1 99.6 253.4 101.2 254.8 101.1 256.9 103.0 258.4 104.3 257.7 105.1 258.3 107.3 258.2 108.9 256.7 110.6 255.9 111.2 254.7 110.8 254.1 109.9 254.1 108.7 252.2 106.9 253.0 105.1 251.5 105.6 250.6 104.3 246.8 105.5 245.3 104.8 241.9 104.8 237.8 103.6 237.4 102.5 238.8 101.0 237.5 100.5 239.3 98.8 239.7 99.9 241.5 99.3 242.3Z" fill="#ed2f22"/><path d="M153.3 241.6 151.3 242.4 149.6 244.7 149.5 245.4 150.8 246.0 150.6 248.0 151.6 248.3 152.5 248.3 153.1 247.3 153.2 244.3 153.9 243.8Z" fill="#fc532b"/><path d="M155.1 243.9 153.9 243.8 153.2 244.3 152.9 246.4 153.1 247.3 155.6 248.0 155.3 249.2 154.4 250.3 155.5 251.6 155.7 252.9 154.6 253.9 155.4 255.8 156.4 255.9 156.8 256.4 157.5 258.7 158.9 258.5 159.6 261.6 160.9 261.3 161.8 260.2 162.7 260.5 163.6 261.8 165.3 260.9 165.2 259.5 167.2 259.0 169.0 259.7 170.6 259.2 170.2 257.4 168.9 256.3 169.6 255.4 171.1 255.0 170.4 253.7 171.1 252.5 170.7 251.9 169.1 251.7 169.9 249.5 169.3 248.1 167.6 248.0 167.1 247.1 164.8 248.2 164.3 247.4 164.8 245.9 165.6 245.6 165.8 243.5 165.0 242.3 163.6 242.2 163.1 241.7 161.1 242.5 160.2 241.8 158.5 244.3 157.8 243.7 157.5 242.4 156.5 241.5 156.0 241.8Z" fill="#fc522b"/><path d="M191.5 246.6 189.6 246.4 189.3 247.1 191.3 248.8 191.6 247.9 195.5 248.1 195.9 247.9 196.0 245.6 195.6 245.3 193.5 246.1 193.6 244.0 191.4 244.1 192.1 246.0Z" fill="#fea446"/><path d="M126.3 251.6 125.1 251.1 124.4 251.9 124.2 253.9 125.1 255.7 124.8 259.0 125.4 259.7 124.9 261.3 125.5 263.8 126.2 264.0 127.0 266.1 127.3 267.3 126.5 268.3 127.4 269.8 129.9 270.2 131.8 271.9 132.6 271.7 133.2 270.1 135.2 270.6 136.6 269.1 137.1 267.8 138.8 268.6 140.2 268.2 139.2 266.1 140.5 265.7 141.5 263.8 140.7 262.3 142.6 261.2 143.4 258.9 144.6 257.8 145.5 253.5 144.9 252.6 143.2 251.7 142.4 249.7 139.6 250.3 138.9 248.3 135.5 247.2 134.0 245.8 131.4 246.3 130.5 247.4 129.3 247.8 129.3 249.2 128.5 249.8 127.6 249.7Z" fill="#fd8a3b"/><path d="M88.9 266.0 89.4 267.3 90.5 267.2 91.5 268.0 92.8 267.9 93.3 266.6 94.9 265.8 96.1 267.8 98.7 267.9 98.9 265.8 102.0 264.4 100.5 263.0 101.0 260.9 99.6 258.2 97.8 258.1 97.3 256.6 96.4 256.0 97.1 253.7 96.8 253.3 94.7 253.7 94.7 251.6 93.1 251.0 92.2 249.5 92.5 247.7 91.5 247.4 90.9 251.4 89.2 253.8 89.6 259.5 88.9 263.9 87.9 265.8Z" fill="#fc4e2a"/><path d="M92.2 249.5 93.1 251.1 94.7 251.6 95.6 251.4 95.7 249.6 94.5 249.2 94.4 247.6 93.4 247.0 92.5 247.7ZM101.2 254.8 99.6 253.4 98.2 254.1 97.1 253.7 96.4 256.0 97.3 256.6 97.8 258.1 99.6 258.2 101.0 260.9 103.1 259.5 105.5 260.5 105.1 258.3 104.3 257.7 103.0 258.4 101.1 256.9Z" fill="#fc502a"/><path d="M177.6 248.1 176.7 248.9 174.9 248.1 174.1 249.6 175.0 250.4 175.0 253.9 175.8 256.0 175.7 257.4 177.2 258.0 179.1 258.0 179.4 257.4 182.0 257.4 184.9 255.7 184.6 254.6 185.4 253.1 185.6 249.7 184.9 247.8 183.3 247.1 181.2 248.1 180.9 247.6Z" fill="#fee88e"/><path d="M187.5 247.8 187.5 251.4 187.1 251.7 187.8 253.7 189.1 253.5 191.1 254.0 189.9 256.0 187.5 257.7 186.5 257.0 185.0 258.6 184.3 257.8 182.9 258.1 181.5 257.3 181.1 259.3 183.0 259.5 183.5 260.1 185.1 259.0 185.9 261.1 186.8 261.4 188.2 260.0 189.2 260.6 190.6 260.0 191.0 259.4 190.4 258.5 191.8 257.2 193.1 258.1 195.1 256.4 195.7 255.8 195.2 253.4 198.5 253.6 199.7 252.0 199.2 250.5 198.0 250.0 197.4 248.7 196.1 247.9 191.6 247.9 191.3 248.8 189.3 247.1 188.7 247.6Z" fill="#fd903d"/><path d="M198.0 250.0 199.2 250.5 201.0 249.9 200.8 247.7 199.9 247.8 198.7 247.1 197.4 248.7Z" fill="#fd8f3d"/><path d="M204.2 247.7 202.9 248.1 201.0 247.6 201.0 249.9 203.1 249.3 203.4 249.9 205.2 249.9 205.4 248.4Z" fill="#fc5d2e"/><path d="M203.1 249.3 199.2 250.5 199.7 252.0 201.6 252.3 202.7 251.8 204.7 254.1 205.4 251.9 205.2 249.9 203.4 249.9Z" fill="#fc6a32"/><path d="M210.8 252.3 211.6 251.8 211.3 250.7 210.1 250.0 209.0 250.2 207.9 249.7 206.8 250.5 205.6 250.4 204.7 254.1 205.1 254.4 206.9 253.8 207.4 252.6Z" fill="#fd9f44"/><path d="M94.7 251.6 94.7 253.7 96.8 253.3 96.8 252.0 95.6 251.4Z" fill="#ee3022"/><path d="M114.7 252.1 111.1 252.5 110.8 254.1 111.2 255.2 109.0 256.7 110.1 258.3 111.0 258.8 112.7 257.5 114.0 258.5 115.4 258.3 115.5 256.9 114.6 255.8 115.6 254.1 115.8 252.6Z" fill="#e51e1d"/><path d="M103.0 259.7 101.0 260.9 100.5 261.9 100.5 263.0 102.0 264.4 99.8 265.5 101.2 266.7 101.0 267.6 101.9 268.5 103.4 267.6 104.0 268.3 105.2 268.5 106.7 267.6 107.6 268.8 109.3 267.8 109.0 266.6 110.5 265.4 110.6 264.4 109.5 263.6 109.5 262.9 111.2 261.6 113.1 261.6 114.2 262.0 115.8 264.4 115.4 266.9 117.3 268.1 118.4 267.9 119.6 268.9 121.0 267.0 121.0 264.8 119.3 263.5 119.8 262.1 118.5 259.8 119.4 258.1 120.8 258.6 121.9 257.2 122.5 257.5 123.5 257.0 123.3 256.1 122.9 254.3 121.0 253.5 119.8 253.9 118.4 253.4 116.9 251.8 115.8 252.6 115.6 254.1 114.6 255.8 115.5 256.9 115.4 258.3 114.0 258.5 112.7 257.5 111.0 258.8 108.9 256.7 107.3 258.2 105.1 258.3 105.5 260.5ZM102.5 273.8 103.4 275.5 104.8 275.8 105.5 274.1 105.0 272.5 103.1 272.1Z" fill="#fc522b"/><path d="M145.5 253.5 144.6 257.8 143.4 258.9 142.6 261.2 140.7 262.3 141.5 263.8 142.4 264.0 143.4 263.5 144.9 264.1 145.7 263.6 147.4 264.3 149.0 263.7 149.6 261.7 150.3 261.4 150.8 259.5 150.3 257.9 150.9 257.4 152.8 257.6 153.2 258.3 154.4 258.4 155.5 255.8 153.2 256.1 150.5 254.3 151.1 252.3 148.8 252.4 147.8 252.0 146.5 253.7ZM155.2 276.5 155.2 277.9 155.6 278.1 156.9 277.6 157.3 275.4 159.4 276.0 160.0 273.7 159.7 273.0 158.0 272.0 156.7 274.2 155.1 273.5 154.6 273.8 154.5 275.6Z" fill="#fd8e3d"/><path d="M172.2 252.7 171.1 252.5 170.4 253.7 171.1 255.0 169.6 255.4 168.9 256.3 169.4 257.1 170.2 257.4 171.8 255.8 171.2 255.0 172.3 253.3Z" fill="#febf5a"/><path d="M172.3 253.3 171.2 255.0 171.8 255.8 172.7 256.0 173.2 256.9 175.7 256.1 175.0 252.4 173.2 251.8 172.2 252.7Z" fill="#febf5a"/><path d="M185.6 251.8 184.6 254.6 184.9 255.7 182.0 257.4 182.9 258.1 184.3 257.8 185.0 258.6 186.5 257.0 187.5 257.7 189.1 256.9 191.1 254.0 189.1 253.5 187.8 253.7 187.1 251.7Z" fill="#fee487"/><path d="M199.7 252.0 198.5 253.6 198.9 256.1 200.9 255.7 201.6 252.3ZM200.9 260.5 199.1 259.5 198.7 261.9 200.7 261.5Z" fill="#feb24c"/><path d="M203.1 251.9 201.6 252.3 201.2 255.5 198.8 256.2 199.1 259.5 200.9 260.5 200.7 261.5 198.5 262.2 199.4 263.7 203.4 263.3 203.3 262.4 205.2 260.5 206.3 261.5 208.6 260.6 209.5 259.6 208.7 257.3 209.4 254.3 210.8 252.3 207.4 252.6 206.9 253.8 205.1 254.4Z" fill="#fd9e43"/><path d="M124.2 253.9 122.9 254.3 123.5 257.0 124.8 257.5 125.1 255.7Z" fill="#fc522b"/><path d="M191.8 257.2 190.4 258.5 191.0 259.4 190.6 260.0 189.2 260.6 189.5 262.1 191.2 262.4 191.6 263.8 193.1 264.3 196.4 263.3 197.0 264.2 199.0 263.3 198.5 262.2 199.2 257.6 198.5 253.6 195.2 253.4 195.7 255.8 195.1 256.4 193.1 258.1Z" fill="#feaf4b"/><path d="M156.9 257.5 156.4 255.9 155.5 255.8 154.4 258.4 154.7 258.6ZM159.6 261.6 160.0 263.2 162.0 263.8 163.8 263.5 163.6 261.8 162.7 260.5 161.8 260.2 160.9 261.3Z" fill="#fc4e2a"/><path d="M170.2 257.4 170.6 259.2 171.4 260.1 171.3 262.0 175.0 262.1 175.8 263.5 177.3 263.9 177.7 262.6 178.3 262.2 180.5 263.7 180.4 261.6 179.0 260.3 179.1 258.0 177.2 258.0 175.7 257.4 175.7 256.1 173.2 256.9 172.7 256.0 171.8 255.8Z" fill="#febd58"/><path d="M78.7 282.3 79.0 281.9 79.3 280.9 78.1 282.3ZM80.5 288.0 82.5 287.9 82.9 286.2 80.7 285.6 81.4 283.6 81.1 283.3 79.4 283.4 79.2 283.9Z" fill="#fc4f2a"/><path d="M118.5 259.8 119.8 262.1 119.3 263.5 121.0 264.8 121.0 267.0 119.6 268.9 121.2 272.2 122.8 272.0 123.0 270.3 124.8 269.8 125.8 270.8 127.2 270.1 126.5 268.3 127.3 267.3 127.0 266.1 126.2 264.0 125.5 263.8 124.9 261.3 125.4 259.7 124.8 259.0 124.8 257.5 123.5 257.0 122.5 257.5 121.9 257.2 120.8 258.6 119.4 258.1Z" fill="#fd8b3b"/><path d="M150.3 257.9 150.8 259.5 150.3 261.4 149.6 261.7 149.0 263.2 149.7 264.3 150.7 264.2 151.8 262.0 152.7 261.6 153.2 262.3 155.3 262.3 155.7 263.3 157.4 263.1 159.5 262.2 159.6 259.9 158.9 258.5 157.5 258.7 156.9 257.5 154.7 258.6 153.2 258.3 152.8 257.6 150.9 257.4Z" fill="#fc6531"/><path d="M169.0 268.5 167.7 267.6 167.5 267.9 165.4 267.6 165.4 269.1 164.4 269.5 165.4 271.8 168.4 272.6 169.3 271.5 170.9 271.6 170.5 269.3 171.2 267.9ZM173.8 273.6 172.1 271.6 171.2 271.7 171.3 273.9ZM179.4 257.4 179.0 260.3 180.4 261.6 180.5 263.7 182.4 263.2 183.5 260.1 183.0 259.5 181.1 259.3 181.5 257.2ZM176.7 275.9 178.5 275.4 179.5 276.5 181.3 275.6 181.3 274.9 179.5 273.7 178.8 274.1 177.0 272.9 175.0 274.1 175.3 275.5Z" fill="#fd8a3b"/><path d="M208.6 260.6 206.3 261.5 205.2 260.5 203.3 262.4 203.4 263.3 205.9 263.5 204.6 265.4 205.8 266.1 206.9 265.5 208.7 266.2 208.9 268.1 210.7 268.6 212.0 267.6 209.6 259.1Z" fill="#fd9941"/><path d="M163.8 263.5 165.5 263.5 166.0 266.0 165.4 267.6 167.5 267.9 167.7 267.6 169.0 268.5 171.5 267.7 170.7 266.3 171.4 260.1 170.6 259.2 169.0 259.7 167.2 259.0 165.2 259.5 165.3 260.9 163.6 261.8Z" fill="#fc4e2a"/><path d="M185.1 259.0 183.5 260.1 182.4 263.2 183.5 264.1 185.2 264.0 186.7 263.4 188.8 263.9 189.5 262.1 189.2 260.6 188.2 260.0 186.8 261.4 185.9 261.1Z" fill="#fd8d3c"/><path d="M110.6 264.4 110.5 265.4 109.0 266.6 109.3 267.8 107.6 268.8 106.7 267.6 105.2 268.5 104.0 268.3 103.4 267.6 101.9 268.5 101.9 269.6 101.3 270.2 101.5 271.5 105.0 272.5 105.5 274.1 104.8 275.8 105.1 276.3 107.0 276.2 108.0 277.7 108.6 277.8 111.0 275.3 112.3 276.0 113.2 275.8 113.3 274.7 116.9 271.9 117.6 272.3 118.3 274.0 120.1 272.5 121.2 272.2 119.6 268.9 118.4 267.9 117.3 268.1 115.4 266.9 115.8 264.4 114.2 262.0 113.1 261.6 111.2 261.6 109.5 262.9 109.5 263.6Z" fill="#fec25d"/><path d="M149.7 264.3 149.2 266.4 150.0 268.0 149.6 269.8 151.1 270.6 150.9 271.6 149.7 272.3 149.9 273.3 151.3 273.5 151.8 272.4 152.6 272.3 153.7 273.8 155.1 273.5 156.7 274.2 158.0 272.0 159.9 273.5 161.6 271.8 160.8 270.5 161.4 269.8 162.8 269.4 162.9 267.8 163.5 267.3 163.8 265.5 163.5 263.7 162.0 263.8 160.0 263.2 159.5 262.2 157.4 263.1 155.7 263.3 155.3 262.3 153.2 262.3 152.7 261.6 151.8 262.0 150.7 264.2Z" fill="#feb650"/><path d="M171.3 262.0 170.7 266.3 171.5 267.7 170.5 269.3 170.9 271.6 172.1 271.6 173.8 273.6 174.5 273.6 174.8 271.4 174.4 270.2 175.3 268.7 176.9 267.9 179.2 268.3 180.8 267.6 181.0 265.7 180.6 263.7 178.3 262.2 177.7 262.6 177.3 263.9 175.8 263.5 175.0 262.1Z" fill="#ed3022"/><path d="M182.6 268.2 183.1 269.8 181.2 270.1 180.7 271.9 181.5 272.3 181.3 274.9 183.2 273.8 184.6 273.8 186.2 275.5 187.1 275.6 188.9 274.2 190.8 276.1 191.5 275.8 191.3 274.3 190.7 273.5 191.3 271.9 192.3 271.7 193.2 272.8 195.2 271.8 195.8 270.2 195.5 268.5 194.8 268.1 195.0 266.3 195.6 265.8 194.9 263.8 193.7 263.8 193.1 264.3 191.8 263.9 191.2 262.4 189.5 262.1 188.8 263.9 186.7 263.4 185.2 264.0 183.5 264.1 182.4 263.2 180.6 263.7 181.0 265.7 182.7 265.9 183.3 266.7ZM188.5 272.0 185.1 272.1 184.2 270.0 184.9 269.5 185.8 267.6 187.4 268.1 189.0 266.8 190.6 267.8 190.6 269.9 189.1 270.5Z" fill="#fea245"/><path d="M212.0 267.6 210.7 268.6 209.0 268.3 208.5 270.3 210.9 269.8 212.8 270.9Z" fill="#fea446"/><path d="M145.7 269.9 145.1 272.0 147.0 272.7 149.2 274.9 150.8 275.3 151.8 274.2 152.8 274.4 152.7 275.9 153.4 276.2 154.5 275.6 154.6 273.8 153.7 273.8 152.6 272.3 151.8 272.4 151.3 273.5 149.9 273.3 149.7 272.3 150.9 271.6 151.1 270.6 149.6 269.8 150.0 268.0 149.2 266.4 149.7 264.3 149.0 263.7 147.4 264.3 145.7 263.6 144.9 264.1 143.4 263.5 142.4 264.0 141.5 263.8 140.5 265.7 139.2 266.1 140.7 268.4 144.8 267.4 144.8 269.2Z" fill="#f43e26"/><path d="M163.8 263.5 163.5 267.3 162.9 267.8 163.1 269.6 165.4 269.1 165.3 267.4 166.0 266.0 165.5 263.5Z" fill="#feaf4b"/><path d="M196.4 263.3 194.9 263.8 195.6 265.8 195.0 266.3 194.8 268.1 195.5 268.5 197.1 267.4 197.4 266.1Z" fill="#feb04b"/><path d="M197.0 264.2 197.4 266.1 197.1 267.4 199.1 269.0 199.6 268.3 198.9 266.2 200.7 266.1 201.5 265.6 200.8 263.7 199.4 263.7 199.0 263.3Z" fill="#feb04b"/><path d="M198.9 266.2 199.6 268.3 199.1 269.0 200.9 270.6 200.5 271.9 202.8 272.1 203.4 272.6 204.6 271.8 205.4 272.4 207.0 272.2 207.1 270.6 208.5 270.3 209.0 268.3 208.9 266.4 206.9 265.5 205.8 266.1 204.6 265.4 205.9 263.5 204.6 263.2 201.0 263.4 200.8 263.7 201.5 265.6 200.7 266.1Z" fill="#fead4a"/><path d="M79.3 280.9 78.7 282.3 79.4 283.4 81.4 283.6 80.7 285.6 82.9 286.2 82.5 287.9 82.7 288.3 85.2 288.5 84.6 286.0 86.0 285.5 85.7 284.3 84.8 283.8 85.2 281.7 87.3 282.6 88.3 283.8 90.5 283.6 92.1 282.1 93.2 283.8 94.5 284.0 95.5 282.4 96.2 282.0 96.5 280.5 97.1 279.7 100.6 279.4 101.1 276.5 103.4 275.5 102.5 273.8 103.1 272.1 101.5 271.5 101.3 270.2 99.1 269.4 99.1 268.7 101.0 267.6 101.2 266.7 99.5 265.4 98.9 265.8 98.7 267.9 96.1 267.8 94.9 265.8 93.3 266.6 92.8 267.9 91.5 268.0 90.5 267.2 89.4 267.3 88.9 266.0 87.9 265.8 86.6 268.3 84.0 271.4 83.2 274.5 84.3 277.0Z" fill="#fa4a29"/><path d="M175.2 269.0 174.4 270.2 174.8 271.4 174.5 273.6 175.0 274.1 177.0 272.9 178.8 274.1 179.5 273.7 181.2 274.7 181.5 272.3 180.7 271.9 181.2 270.1 183.1 269.8 182.6 268.2 183.3 266.7 182.7 265.9 181.0 265.7 180.8 267.6 179.2 268.3 176.9 267.9Z" fill="#fea345"/><path d="M101.3 270.2 101.9 269.6 101.9 268.5 101.0 267.6 99.1 268.7 99.1 269.4Z" fill="#fec35e"/><path d="M135.2 270.6 133.2 270.1 132.6 271.7 133.3 274.3 132.4 275.8 133.3 277.4 134.3 277.5 135.7 275.7 135.3 274.2 136.4 273.6 137.2 271.8 138.7 272.9 139.8 271.9 139.2 270.7 141.0 269.1 140.2 268.2 138.8 268.6 137.1 267.8 136.6 269.1Z" fill="#fd8e3d"/><path d="M144.8 267.4 140.7 268.4 141.6 269.7 143.3 269.6 143.9 271.9 145.1 272.0 145.7 269.9 144.8 269.2Z" fill="#fea245"/><path d="M187.4 268.1 185.8 267.6 184.9 269.5 184.2 270.0 185.1 272.1 188.5 272.0 189.1 270.5 190.6 269.9 190.6 267.8 189.0 266.8Z" fill="#fd7435"/><path d="M195.8 270.2 195.4 271.6 197.2 272.4 198.8 271.7 200.5 271.9 201.4 274.0 203.2 273.8 203.4 272.6 202.8 272.1 200.5 271.9 200.9 270.6 197.1 267.4 195.5 268.5Z" fill="#fd9d43"/><path d="M116.1 278.0 115.7 277.6 113.8 277.9 113.4 278.6 109.5 277.2 108.6 277.8 109.4 279.7 109.4 281.2 108.5 282.0 108.8 282.9 110.8 283.3 110.9 285.4 112.4 285.4 113.0 286.7 111.0 288.1 111.5 289.5 113.3 289.3 114.6 291.2 114.4 292.0 115.5 293.5 117.2 292.7 117.4 291.9 119.6 292.4 120.5 291.8 121.8 292.4 125.0 291.8 125.1 291.0 124.0 289.4 125.2 287.8 122.8 287.4 121.1 288.5 120.6 287.8 120.8 286.0 119.9 285.7 119.6 284.9 120.9 283.2 120.6 282.4 120.2 282.1 118.9 282.7 117.3 281.9 116.2 283.6 114.5 281.9ZM126.2 273.9 127.3 272.2 128.9 272.2 129.2 273.5 130.6 273.9 130.8 275.2 128.9 276.0 128.9 277.4 132.7 278.0 133.3 277.4 132.4 275.8 133.3 274.3 133.0 272.4 132.6 271.7 131.8 271.9 129.9 270.2 127.4 269.8 125.8 270.8 124.8 269.8 123.0 270.3 122.9 271.9 125.0 272.1Z" fill="#fd8f3d"/><path d="M141.5 273.9 140.2 278.0 141.2 279.0 141.1 281.2 139.2 282.2 139.1 282.6 141.5 284.2 143.2 284.3 144.0 283.3 145.2 283.1 145.8 283.8 145.7 285.6 146.6 285.9 147.4 287.2 149.1 285.1 149.8 285.8 151.2 285.4 152.9 285.7 153.5 284.2 153.0 283.3 149.4 283.5 148.8 284.2 148.1 284.2 147.3 283.6 147.1 281.6 145.9 281.7 145.1 281.0 145.6 279.5 144.2 278.1 145.3 277.5 145.7 275.8 144.8 273.9 145.1 272.0 143.6 271.6 143.3 269.6 141.6 269.7 141.0 269.1 139.2 270.7 139.8 271.9 140.9 272.1Z" fill="#fea848"/><path d="M160.8 270.5 161.6 271.8 159.9 273.5 159.4 276.0 161.3 280.2 160.5 281.6 160.8 282.4 162.6 282.7 163.5 283.9 165.2 283.1 165.0 282.2 165.5 281.1 164.9 280.2 164.9 278.9 166.2 278.0 164.0 276.2 165.0 275.5 165.1 273.7 165.9 272.1 165.4 271.8 164.4 269.5 161.4 269.8ZM171.4 282.7 169.8 282.1 169.0 282.9 168.8 284.7 171.1 284.6 171.5 283.2 172.9 283.8 173.8 283.2 174.0 282.5 173.2 281.7Z" fill="#feb650"/><path d="M207.1 270.6 207.0 272.2 205.4 272.4 205.4 274.0 206.4 274.3 206.9 275.6 208.6 275.7 209.1 275.3 210.8 276.1 211.1 276.7 212.8 270.7 210.9 269.8Z" fill="#fea345"/><path d="M73.0 294.0 73.0 292.0 75.2 292.5 77.1 291.3 78.5 291.8 79.4 291.2 79.1 288.5 80.5 288.0 79.2 283.9 79.4 283.4 78.7 282.3 78.1 282.3 73.4 286.8 72.4 289.5Z" fill="#fd8b3b"/><path d="M115.2 273.0 115.2 273.4 113.3 274.7 113.2 275.8 112.3 276.0 111.0 275.3 109.5 277.2 113.4 278.6 113.8 277.9 115.7 277.6 116.1 278.0 114.5 281.9 116.2 283.6 117.3 281.9 118.9 282.7 120.2 282.1 119.0 280.3 120.4 279.1 120.3 278.0 121.0 277.4 120.8 276.2 119.2 275.4 118.7 274.6 120.8 273.9 120.8 272.4 120.1 272.5 118.3 274.0 117.6 272.3 116.9 271.9ZM130.5 289.9 129.6 290.5 129.5 291.5 131.6 292.9 132.9 291.8 132.3 290.5 133.2 289.2 134.1 285.8 131.5 283.9 130.7 285.9 131.5 287.7Z" fill="#fec05b"/><path d="M121.2 272.2 120.8 273.9 118.7 274.6 119.2 275.4 120.8 276.2 121.0 277.4 120.3 278.0 120.4 279.1 119.0 280.3 120.2 281.6 120.9 283.2 119.6 284.9 119.9 285.7 120.8 286.0 120.6 287.8 121.1 288.5 122.8 287.4 125.2 287.8 126.8 287.1 128.5 287.9 131.0 288.1 131.5 287.7 130.7 285.9 131.5 283.9 131.3 282.8 129.8 282.2 129.1 280.6 130.5 280.1 131.0 279.3 130.5 277.6 128.9 277.4 128.8 276.2 130.8 275.2 130.6 273.9 129.2 273.5 128.9 272.2 127.3 272.2 126.1 273.9 125.0 272.1Z" fill="#ea2820"/><path d="M136.4 273.6 135.3 274.2 135.7 275.7 134.3 277.5 133.3 277.4 132.7 278.0 132.5 279.2 133.1 279.9 132.3 281.3 134.2 282.4 136.5 282.3 137.7 283.7 138.6 283.5 139.2 282.2 141.1 281.2 141.2 279.0 140.2 278.0 141.5 273.9 140.9 272.1 139.8 271.9 138.7 272.9 137.2 271.8ZM141.1 285.0 139.1 285.3 138.8 287.1 141.0 287.7 141.5 286.8 142.5 286.6 144.0 288.1 144.5 287.7 144.7 285.9 145.7 285.6 145.8 283.8 145.2 283.1 144.0 283.3 143.2 284.3 141.9 284.0Z" fill="#fa4a29"/><path d="M145.3 274.4 145.3 275.5 145.7 275.8 145.3 277.5 144.2 278.1 145.6 279.5 145.1 281.0 145.9 281.7 147.1 281.6 147.3 283.6 148.1 284.2 148.8 284.2 149.4 283.5 153.0 283.3 155.0 281.3 155.6 280.3 155.2 276.5 154.5 275.6 153.4 276.2 152.7 275.9 152.8 274.4 151.8 274.2 150.8 275.3 149.2 274.9 147.0 272.7 145.1 272.0 144.8 273.9Z" fill="#f13824"/><path d="M168.4 272.6 165.9 272.1 165.1 273.7 165.0 275.5 164.0 276.2 166.2 278.0 164.9 278.9 164.9 280.2 165.5 281.1 165.0 282.2 165.2 283.1 166.6 284.3 168.6 284.4 169.0 282.9 169.8 282.1 171.4 282.7 173.2 281.7 174.0 282.5 174.9 282.4 175.6 280.6 176.5 280.6 177.7 282.2 178.9 281.6 179.1 280.6 180.2 280.1 180.9 278.5 179.3 277.6 179.5 276.5 178.5 275.4 176.7 275.9 175.3 275.5 175.0 274.1 174.5 273.6 171.3 273.9 170.9 271.6 169.3 271.5ZM157.3 275.4 156.9 277.6 156.3 278.0 157.6 279.4 160.7 279.3 160.9 278.7 159.4 276.0Z" fill="#fd853a"/><path d="M193.2 272.8 192.3 271.7 191.3 271.9 190.7 273.5 191.3 274.3Z" fill="#fd9b42"/><path d="M195.4 271.6 191.3 274.3 191.5 275.8 193.0 277.9 194.8 277.4 195.7 278.6 197.2 277.8 198.5 278.0 199.2 277.2 198.9 276.1 199.4 274.7 201.4 274.0 200.5 271.9 198.8 271.7 197.2 272.4Z" fill="#fd9a41"/><path d="M205.4 274.0 205.4 272.4 204.6 271.8 203.4 272.6 203.2 273.8 203.8 274.3Z" fill="#fd923e"/><path d="M179.3 277.6 180.9 278.5 180.2 280.1 181.5 280.7 182.5 280.6 183.9 283.8 186.1 284.0 187.2 282.2 188.6 282.7 190.9 282.2 190.2 280.3 189.3 279.9 189.6 278.0 190.2 277.8 190.8 276.1 188.9 274.2 187.1 275.6 186.2 275.5 184.6 273.8 183.2 273.8 181.3 274.9 181.3 275.6 179.5 276.5Z" fill="#fea446"/><path d="M199.4 274.7 198.9 276.1 199.2 277.2 198.5 278.0 197.2 277.8 195.7 278.6 195.7 279.4 196.4 279.8 197.3 279.4 200.4 279.9 201.0 278.8 203.1 278.5 202.4 276.4 203.8 275.8 203.8 274.3 203.2 273.8Z" fill="#fd9740"/><path d="M205.1 274.2 203.8 274.3 203.8 275.8 202.4 276.4 203.9 279.8 204.8 279.9 205.7 278.2 204.8 277.1 205.4 276.3Z" fill="#fd923e"/><path d="M204.8 277.1 205.7 278.2 204.8 279.9 205.3 280.3 205.6 282.1 206.6 282.4 207.9 281.9 210.2 278.8 211.1 276.7 210.8 276.1 209.1 275.3 208.6 275.7 206.9 275.6 206.4 274.3 205.4 274.0 205.1 274.2 205.4 276.3Z" fill="#feaa48"/><path d="M103.4 275.5 101.1 276.5 100.6 279.4 98.6 279.3 98.0 279.8 97.1 279.7 96.5 280.5 96.2 282.0 97.3 282.5 98.0 283.6 99.5 283.1 100.0 281.8 100.6 281.4 103.2 281.8 103.3 283.2 105.0 284.2 105.8 284.0 105.5 281.9 105.9 281.3 104.7 279.9 105.1 276.3Z" fill="#fc522b"/><path d="M107.0 278.3 108.0 277.7 107.0 276.2 105.1 276.3 105.0 278.2Z" fill="#fec25d"/><path d="M191.5 275.8 190.8 276.1 190.2 277.8 189.6 278.0 189.3 279.9 190.2 280.3 191.1 282.3 192.9 281.4 192.7 280.6 193.8 279.2 193.4 278.0Z" fill="#fd9841"/><path d="M104.7 279.9 105.9 281.3 105.5 281.9 105.8 284.0 105.0 284.2 103.3 283.2 103.2 281.8 100.6 281.4 100.0 281.8 99.5 283.1 100.9 284.4 100.2 285.8 100.7 286.6 100.7 288.1 102.6 288.3 103.1 287.6 104.4 287.8 105.3 289.0 107.1 288.2 108.8 288.3 110.4 287.8 111.0 288.1 113.0 286.7 112.4 285.4 110.9 285.4 110.8 283.3 108.8 282.9 108.5 282.0 109.4 281.2 109.4 279.7 108.6 277.8 108.0 277.7 107.0 278.3 105.0 278.2ZM111.6 293.7 113.0 293.8 113.2 292.8 114.4 292.0 114.6 291.2 113.3 289.3 111.5 289.5 111.2 290.2 109.4 290.6 109.0 291.3 109.3 292.7 111.0 292.5ZM110.9 300.8 111.3 300.4 110.8 297.8 109.8 298.2 109.8 299.4Z" fill="#fd8f3d"/><path d="M130.5 277.6 131.0 279.3 130.5 280.1 129.1 280.6 129.8 282.2 131.3 282.8 131.5 283.8 134.2 282.4 132.3 281.3 133.1 279.9 132.5 279.2 132.7 278.0Z" fill="#fc542c"/><path d="M155.6 280.3 154.3 282.0 155.6 283.7 156.6 283.2 157.5 284.0 160.4 283.8 160.8 282.4 160.5 281.6 161.3 280.2 160.7 279.3 157.6 279.4 156.3 278.0 155.6 278.1Z" fill="#fd8e3c"/><path d="M193.8 279.2 192.7 280.6 192.9 281.4 194.4 281.7 194.9 280.0 195.7 279.4 195.7 278.6 194.8 277.4 193.4 278.0Z" fill="#fd923e"/><path d="M201.0 278.8 200.4 279.9 200.6 281.4 199.2 282.5 199.2 283.5 201.5 283.9 201.3 285.1 202.8 286.1 205.0 284.3 205.1 282.3 205.6 282.1 205.3 280.3 203.9 279.8 203.1 278.5Z" fill="#fd8e3c"/><path d="M176.5 280.6 175.6 280.6 174.9 282.4 176.1 283.6 177.2 283.2 177.7 282.2Z" fill="#fd8f3d"/><path d="M178.9 281.6 179.7 283.7 179.3 284.9 181.0 285.6 181.0 287.3 181.5 288.0 185.6 287.4 185.4 286.3 184.5 285.6 185.8 284.0 183.9 283.8 182.5 280.6 181.5 280.7 180.2 280.1 179.1 280.6Z" fill="#fea647"/><path d="M200.4 279.9 197.3 279.4 196.4 279.8 195.7 279.4 194.9 280.0 194.4 281.7 195.3 284.2 195.1 286.0 196.5 286.6 197.6 285.6 199.0 285.7 199.2 282.5 200.6 281.4Z" fill="#fd7f38"/><path d="M85.7 284.3 86.0 285.5 84.6 286.0 85.2 288.5 82.7 288.3 82.7 289.2 83.8 290.5 84.8 290.4 85.4 291.7 86.2 292.1 86.8 290.5 88.3 290.0 87.2 288.1 89.0 287.5 90.1 288.3 90.9 288.3 91.7 287.5 91.0 286.0 90.1 285.7 89.3 283.8 88.3 283.8 87.3 282.6 85.2 281.7 84.8 283.8Z" fill="#fd9b42"/><path d="M93.2 283.8 92.1 282.1 90.5 283.6 89.3 283.8 90.1 285.7 91.0 286.0 91.8 284.3Z" fill="#f43e26"/><path d="M94.9 288.1 94.1 289.8 95.5 290.5 96.0 291.8 95.2 293.7 93.8 294.2 93.1 292.1 90.9 292.8 90.3 294.3 93.9 296.8 95.5 296.3 95.7 297.7 97.0 297.8 97.3 298.4 96.8 299.5 97.1 300.0 99.2 300.4 99.3 301.2 102.0 302.1 102.8 301.9 103.9 303.1 104.4 303.1 105.3 301.8 104.6 301.1 105.8 299.5 104.5 295.5 105.3 294.5 104.8 293.7 105.2 292.5 104.0 291.9 105.3 289.0 104.4 287.8 103.1 287.6 102.6 288.3 100.7 288.1 100.7 286.6 100.2 285.8 100.9 284.4 99.5 283.1 98.0 283.6 97.3 282.5 96.2 282.0 95.5 282.4 94.5 284.0 95.8 285.9 94.9 286.9Z" fill="#fd7d38"/><path d="M134.7 282.4 131.5 283.8 134.1 285.8 133.3 288.3 135.5 288.6 138.7 287.1 139.1 285.3 141.1 285.0 141.5 284.2 139.1 282.6 138.6 283.5 137.7 283.7 136.5 282.3Z" fill="#febd58"/><path d="M153.5 284.2 152.5 287.5 153.3 288.5 152.2 290.1 153.0 290.6 153.0 292.2 156.3 292.0 156.8 293.3 159.1 293.5 159.3 292.2 160.7 291.4 160.7 289.5 159.6 289.2 159.1 287.9 157.5 288.4 155.1 288.3 155.2 286.9 156.0 286.2 155.0 284.4 155.6 283.7 154.3 282.0 153.0 283.3Z" fill="#fea647"/><path d="M160.4 283.8 157.5 284.0 156.6 283.2 155.6 283.7 155.0 284.4 156.0 286.2 155.2 286.9 155.1 288.3 157.5 288.4 159.1 287.9 159.6 289.2 160.7 289.5 160.7 291.4 162.0 292.0 162.6 291.8 163.1 290.0 163.0 289.6 161.4 289.0 161.3 287.5 163.3 286.7 163.5 286.1 161.5 285.1 161.3 284.5 162.8 283.5 162.6 282.7 160.8 282.4Z" fill="#feaf4b"/><path d="M171.5 283.2 171.1 284.6 168.8 284.7 168.8 286.3 171.2 289.6 170.9 290.4 172.0 292.0 173.6 291.5 174.8 291.8 175.6 292.8 177.5 290.9 178.7 291.9 179.3 291.7 179.2 287.5 178.4 286.5 179.7 283.7 178.9 281.6 177.7 282.2 177.2 283.2 176.1 283.6 174.9 282.4 174.0 282.5 173.8 283.2 172.9 283.8Z" fill="#febd58"/><path d="M191.1 282.3 188.6 282.7 187.2 282.2 186.1 284.0 187.7 285.7 189.1 286.2 190.7 286.0 192.5 285.0 192.8 284.3Z" fill="#fd7d37"/><path d="M192.8 284.3 192.5 285.0 190.7 286.0 191.8 287.9 193.5 286.2 194.5 286.4 195.1 286.0 195.3 284.2 194.4 281.7 192.9 281.4 191.1 282.3Z" fill="#fd873a"/><path d="M206.6 282.4 205.1 282.3 205.0 284.3 207.9 281.9Z" fill="#fea547"/><path d="M94.8 287.8 94.9 286.9 95.8 285.9 94.5 284.0 93.2 283.8 91.8 284.3 91.0 286.0 91.7 287.5 92.3 287.9ZM105.3 289.0 104.0 291.9 105.2 292.5 104.8 293.7 105.3 294.5 104.5 295.5 105.8 299.5 104.6 301.1 106.4 302.0 107.1 301.3 108.9 302.1 110.7 301.5 110.9 300.8 109.8 299.4 109.8 298.2 111.3 297.5 111.3 296.4 113.5 295.2 113.1 293.9 115.5 293.5 114.4 292.0 113.2 292.8 113.0 293.8 111.8 293.9 111.0 292.5 109.3 292.7 109.0 291.3 109.4 290.6 111.2 290.2 111.5 289.5 110.4 287.8 108.8 288.3 107.1 288.2Z" fill="#f64127"/><path d="M165.2 283.1 163.5 283.9 162.8 283.5 161.3 284.5 161.5 285.1 163.5 286.1 163.3 286.7 161.3 287.5 161.4 289.0 163.0 289.6 162.7 291.9 165.0 292.0 165.7 290.5 165.7 286.4 163.7 286.0 166.1 283.8Z" fill="#fea948"/><path d="M168.6 284.4 166.6 284.3 166.1 283.8 163.7 286.0 165.7 286.4 165.7 288.7 169.7 287.5 168.8 286.3Z" fill="#fd8d3c"/><path d="M185.4 286.3 185.6 287.4 181.5 288.0 180.4 291.7 181.0 292.3 182.9 291.5 184.3 292.1 185.5 291.2 185.3 290.3 186.9 288.5 188.5 288.3 188.9 287.7 189.1 286.2 187.7 285.7 186.1 284.0 184.5 285.6Z" fill="#fd7234"/><path d="M199.4 288.3 202.6 286.4 203.0 286.0 201.3 285.1 201.5 283.9 199.2 283.5 199.0 285.7 199.3 286.2 198.7 287.8Z" fill="#fd913e"/><path d="M138.8 287.1 135.5 288.6 135.7 289.9 134.2 291.3 135.7 293.7 136.6 293.7 137.1 292.3 137.9 291.9 139.8 293.2 142.3 293.5 144.1 291.9 144.8 292.2 145.8 291.8 145.6 289.6 144.4 288.0 142.5 286.6 141.5 286.8 141.0 287.7Z" fill="#f94828"/><path d="M147.4 287.2 146.6 285.9 145.7 285.6 144.7 285.9 144.4 288.0 145.6 289.6 145.8 291.8 146.8 292.0 147.5 293.3 150.9 293.5 151.3 292.0 153.0 292.2 153.0 290.6 152.2 290.1 153.3 288.5 152.5 287.5 153.1 286.3 152.9 285.7 151.2 285.4 149.8 285.8 149.1 285.1Z" fill="#fea346"/><path d="M181.0 285.6 179.3 284.9 178.4 286.5 179.2 287.5 179.3 291.7 180.4 291.7 181.5 288.0 181.0 287.3Z" fill="#fea747"/><path d="M188.5 288.3 189.3 289.9 189.0 293.4 193.5 291.2 192.9 290.2 193.5 289.2 191.8 287.9 190.7 286.0 189.1 286.2Z" fill="#fd7a37"/><path d="M192.9 290.2 193.5 291.2 197.6 289.2 197.4 288.4 196.8 287.5 195.1 288.1 194.5 286.4 193.5 286.2 191.8 287.9 193.5 289.2Z" fill="#fd7435"/><path d="M199.0 285.7 197.6 285.6 196.5 286.6 195.1 286.0 194.5 286.8 195.1 288.1 196.8 287.5 197.4 288.4 198.7 287.8 199.3 286.2Z" fill="#fd9b42"/><path d="M82.5 287.9 80.5 288.0 79.1 288.5 79.4 291.2 80.6 292.1 81.8 291.1 82.8 291.9 83.8 290.5 82.7 289.2Z" fill="#fd9a42"/><path d="M94.8 287.8 92.3 287.9 91.7 287.5 90.9 288.3 90.1 288.3 89.0 287.5 87.2 288.1 88.3 290.0 86.8 290.5 86.2 292.1 87.1 292.6 88.3 292.0 90.9 292.8 93.1 292.1 93.8 294.2 94.5 294.2 95.2 293.7 96.0 291.8 95.5 290.5 94.1 289.8Z" fill="#fd9941"/><path d="M125.5 287.7 124.0 289.4 125.1 291.5 127.1 291.7 127.5 292.3 129.2 292.1 129.6 290.5 130.5 289.9 131.0 288.1 128.5 287.9 126.8 287.1Z" fill="#fea346"/><path d="M135.4 288.6 133.3 288.3 132.3 290.5 134.0 293.6 134.9 294.1 135.7 293.7 134.2 291.3 135.7 289.9ZM139.4 298.6 140.0 299.9 141.8 297.8 140.7 296.8Z" fill="#febf5a"/><path d="M171.2 289.6 169.7 287.5 165.7 288.7 164.8 295.8 166.6 296.3 167.4 295.2 167.7 294.0 169.2 294.0 169.8 292.3 169.3 291.4 169.7 290.8 170.9 290.4Z" fill="#f84628"/><path d="M186.8 288.8 185.3 290.3 185.5 291.2 184.3 292.1 184.8 293.9 185.9 294.2 185.8 294.7 189.0 293.4 189.4 291.8 189.3 289.9 188.5 288.3Z" fill="#fd7034"/><path d="M198.7 287.8 197.4 288.4 197.3 288.9 197.6 289.2 199.4 288.3Z" fill="#fd7335"/><path d="M83.1 293.9 82.4 297.3 83.7 298.0 84.5 297.6 86.0 298.1 85.7 301.7 84.6 302.2 85.2 303.5 86.6 303.0 88.0 301.9 88.9 302.4 91.3 301.5 90.7 300.6 89.1 300.0 89.5 297.9 89.1 297.3 90.9 295.0 90.3 294.3 90.9 292.8 90.5 292.4 88.3 292.0 87.1 292.6 85.4 291.7 84.8 290.4 83.8 290.5 82.8 291.9Z" fill="#fd9941"/><path d="M172.0 292.0 170.9 290.4 169.7 290.8 169.3 291.4 169.8 292.3 171.6 292.5Z" fill="#feb34d"/><path d="M73.5 303.2 74.8 303.4 75.2 302.3 74.8 300.3 75.6 298.5 76.3 298.3 76.8 296.4 78.3 298.7 79.7 297.3 79.4 296.5 79.8 295.7 79.0 293.8 80.6 293.3 80.6 292.1 79.4 291.2 78.5 291.8 77.1 291.3 75.2 292.5 73.0 292.1 73.0 294.1 75.2 297.3 74.6 300.5ZM82.4 297.3 80.8 298.1 80.9 299.5 80.1 300.1 80.3 301.7 79.4 302.5 79.8 303.9 80.3 304.0 81.8 303.2 81.6 302.4 83.3 300.2 83.7 298.0Z" fill="#fd873a"/><path d="M79.0 293.8 79.8 295.7 79.4 296.5 79.7 297.3 80.8 298.1 82.4 297.3 83.1 293.9 82.8 291.9 81.8 291.1 80.6 292.1 80.6 293.3Z" fill="#fd9a41"/><path d="M112.4 298.2 111.3 297.5 110.8 297.8 111.3 300.4 110.7 301.5 111.6 303.3 111.2 304.1 111.7 305.4 113.5 305.4 113.6 307.9 114.7 307.9 115.3 306.5 114.4 305.4 116.2 304.1 114.4 302.2 114.7 300.3 114.0 299.6 115.0 297.5 117.0 298.7 117.7 297.6 118.9 297.2 119.1 295.9 121.0 295.5 120.6 294.1 119.8 293.8 119.6 292.4 117.4 291.9 117.2 292.7 115.5 293.6 114.9 297.4 113.6 297.4ZM115.0 310.4 116.9 309.9 117.3 309.3 119.4 311.0 120.3 309.3 120.2 308.5 118.0 307.9 117.1 308.6 115.6 308.4Z" fill="#fd883b"/><path d="M121.0 295.5 119.1 295.9 118.9 297.2 119.7 297.8 123.2 297.7 123.7 298.1 125.6 297.2 125.2 296.0 124.5 295.6 125.0 291.8 121.8 292.4 120.5 291.8 119.6 292.4 119.8 293.8 120.6 294.1ZM113.5 295.2 111.3 296.4 111.3 297.5 112.4 298.2 113.6 297.4 114.9 297.4 115.5 293.6 113.1 293.9ZM121.0 301.7 119.4 305.8 120.3 306.3 120.8 307.7 122.8 308.2 123.3 307.7 124.9 307.6 125.4 306.3 124.9 305.4 124.9 302.1Z" fill="#f64126"/><path d="M125.2 296.0 125.6 297.2 127.1 298.3 130.1 297.9 128.6 296.1 129.6 294.9 129.2 292.1 127.5 292.3 127.1 291.7 125.1 291.5 125.1 292.9 124.5 293.9 124.5 295.6ZM124.9 307.6 123.3 307.7 122.8 308.2 120.8 307.7 119.4 311.0 119.5 311.7 123.7 312.2 126.8 310.1 127.7 306.4 129.5 304.9 129.0 303.4 127.7 303.7 126.0 301.9 124.9 302.1 124.9 305.4 125.4 306.3Z" fill="#fea345"/><path d="M129.3 293.7 131.5 293.1 131.6 292.9 129.5 291.5Z" fill="#fec15d"/><path d="M129.6 294.9 131.2 295.9 131.0 297.2 133.2 297.7 133.4 298.4 135.6 298.2 135.0 296.2 134.2 295.9 134.9 294.1 134.0 293.6 133.2 291.8 132.0 292.3 131.5 293.1 129.5 293.9Z" fill="#f13824"/><path d="M144.7 293.1 144.8 292.2 144.1 291.9 142.3 293.5 139.8 293.2 137.9 291.9 137.1 292.3 136.6 293.7 137.3 295.2 139.1 296.2 138.4 297.7 139.4 298.6 140.7 296.8 141.8 297.8 143.2 297.4 145.0 297.9 145.5 296.8 145.0 295.4 145.8 294.6Z" fill="#fc562c"/><path d="M150.9 293.5 147.5 293.3 146.8 292.0 145.8 291.8 144.8 292.2 144.7 293.1 145.8 294.6 145.0 295.4 145.5 296.8 145.1 298.1 147.0 298.6 147.8 298.2 149.5 298.5 150.2 298.0 151.5 294.2 152.7 293.8 152.8 292.3 151.3 292.0Z" fill="#fd943f"/><path d="M156.8 293.3 156.3 292.0 155.3 291.8 154.6 292.3 153.0 292.2 152.7 293.8 155.5 294.5Z" fill="#fd923e"/><path d="M159.3 292.2 159.3 293.8 161.2 294.0 162.0 292.0 160.7 291.4Z" fill="#feb44e"/><path d="M161.2 294.0 159.3 293.8 158.9 295.8 159.6 297.2 163.0 298.5 164.3 297.5 164.8 294.3 163.5 293.8 162.6 291.8 162.0 292.0Z" fill="#feb953"/><path d="M162.7 291.9 163.5 293.8 164.8 294.3 165.4 293.6 165.0 292.0Z" fill="#fea647"/><path d="M171.6 292.5 169.8 292.3 169.2 294.0 169.8 294.4 169.9 296.4 169.4 297.3 170.2 299.9 171.6 299.4 171.9 297.7 173.1 296.5 173.1 294.2 173.5 293.9 173.2 291.7Z" fill="#fd7535"/><path d="M174.8 291.8 173.2 291.7 173.5 293.9 173.1 294.2 173.1 296.4 174.8 298.4 176.2 297.3 174.8 294.2 175.5 292.8Z" fill="#fd903d"/><path d="M178.1 293.7 178.7 291.9 177.5 290.9 175.6 292.8 177.6 293.9Z" fill="#feb650"/><path d="M178.1 293.7 179.1 294.2 179.3 295.4 178.7 296.3 178.9 297.3 185.8 294.7 185.9 294.2 184.8 293.9 184.3 292.1 183.5 292.0 182.7 293.6 181.1 293.3 181.0 292.3 180.4 291.7 178.7 291.9Z" fill="#fc6430"/><path d="M181.1 293.3 182.7 293.6 183.5 292.0 182.9 291.5 181.0 292.3Z" fill="#fd7d37"/><path d="M134.9 294.1 134.2 295.9 135.0 296.2 135.6 298.2 133.4 298.4 133.2 297.7 131.0 297.2 130.2 297.7 129.6 299.3 129.8 299.9 128.9 301.6 129.0 303.4 131.2 303.1 132.4 303.9 133.1 302.2 133.9 301.6 135.2 302.1 134.3 304.4 135.3 307.9 137.5 307.5 138.6 307.9 139.8 307.3 139.4 304.0 140.2 303.6 141.4 301.8 138.4 297.7 139.1 296.2 137.3 295.2 136.6 293.7Z" fill="#fc5b2e"/><path d="M151.5 294.2 150.2 298.0 153.2 299.0 155.4 299.0 156.5 300.0 156.5 301.3 157.3 301.6 158.8 300.9 159.4 299.8 159.1 297.9 159.5 296.4 158.9 295.8 157.4 295.9 157.1 293.5 155.5 294.5 152.7 293.8Z" fill="#fc6c33"/><path d="M158.9 295.8 159.1 293.5 157.1 293.5 157.4 295.9ZM160.3 299.8 162.0 298.1 159.6 297.2 159.1 297.9 159.4 299.8Z" fill="#fd9a41"/><path d="M169.9 296.4 169.8 294.4 169.2 294.0 167.7 294.0 167.4 295.2 166.6 296.3 167.7 297.7 169.4 297.3Z" fill="#fc592d"/><path d="M175.5 292.8 174.8 294.2 176.2 297.3 174.8 298.4 175.0 299.5 178.9 297.3 178.7 296.3 179.3 295.4 179.1 294.2Z" fill="#fc612f"/><path d="M89.5 297.9 89.1 300.0 90.7 300.6 91.3 301.5 88.9 302.4 88.0 301.9 86.6 303.0 85.2 303.5 84.5 304.4 85.4 305.3 85.4 308.0 84.5 309.4 85.4 311.9 86.5 311.0 87.5 311.6 87.2 313.5 88.6 313.9 89.4 312.5 92.7 312.3 93.6 314.0 94.1 314.1 95.6 312.2 96.5 312.4 99.0 310.9 98.8 310.2 100.6 307.8 100.2 305.8 101.0 305.3 102.0 302.1 99.3 301.2 99.2 300.4 97.1 300.0 96.8 299.5 97.3 298.4 97.0 297.8 95.7 297.7 95.5 296.3 93.9 296.8 92.6 295.6 90.9 295.0 89.1 297.3Z" fill="#fd7836"/><path d="M131.2 295.9 129.6 294.9 128.6 296.1 130.2 297.7 131.0 297.2ZM127.7 306.4 126.8 310.1 129.4 310.3 130.0 311.8 131.3 312.3 133.0 311.8 135.4 312.0 135.4 310.1 136.9 309.8 137.4 310.2 139.3 309.4 138.6 307.9 137.5 307.5 135.3 307.9 134.3 304.4 135.2 302.1 133.9 301.6 133.1 302.2 132.4 303.9 131.2 303.1 129.0 303.4 129.5 304.9Z" fill="#fea848"/><path d="M165.6 299.9 165.0 300.3 166.5 302.2 167.5 301.2 167.8 299.8 170.1 300.0 169.4 297.3 167.7 297.7 166.6 296.3 164.8 295.8 164.3 297.5 165.7 298.5Z" fill="#f53f26"/><path d="M74.2 312.2 75.7 311.9 78.2 311.9 79.4 311.3 79.5 309.6 81.1 309.3 83.1 307.0 82.3 305.6 82.9 304.0 81.8 303.2 79.8 303.9 79.4 302.5 80.3 301.7 80.1 300.1 80.9 299.5 80.8 298.1 79.7 297.3 78.3 298.7 76.9 296.4 76.3 298.3 75.6 298.5 74.8 300.3 75.2 302.3 74.8 303.4 73.5 303.2 72.9 304.5Z" fill="#fc6932"/><path d="M84.5 297.6 83.7 298.0 83.3 300.2 81.6 302.4 81.8 303.2 82.9 304.0 84.0 302.0 84.6 302.2 85.7 301.7 86.0 298.1Z" fill="#fd883a"/><path d="M117.7 297.6 117.0 298.7 115.0 297.5 114.0 299.6 114.7 300.3 114.4 302.2 116.2 304.1 114.4 305.4 115.3 306.5 114.7 307.9 117.1 308.6 118.0 307.9 120.2 308.5 120.8 307.7 120.3 306.3 119.4 305.8 121.0 301.7 123.1 302.1 126.0 301.9 127.7 303.7 129.0 303.4 128.9 301.6 129.8 299.9 129.6 299.3 130.1 297.9 127.1 298.3 125.6 297.2 123.7 298.1 123.2 297.7 119.7 297.8 118.9 297.2Z" fill="#c10823"/><path d="M140.0 299.9 141.4 301.8 140.2 303.6 139.4 304.0 139.9 305.1 139.4 306.0 139.8 307.3 141.0 308.0 140.8 309.4 141.7 310.3 141.5 310.9 142.9 312.3 144.3 311.8 145.3 310.3 146.6 310.5 147.3 309.5 147.6 308.2 147.4 306.5 147.0 306.2 147.3 303.6 146.6 303.3 145.4 303.8 144.2 302.0 145.0 300.6 144.7 299.8 143.2 299.9 142.4 297.8 141.8 297.8Z" fill="#febe59"/><path d="M144.7 299.8 145.0 297.9 143.2 297.4 142.4 297.8 143.2 299.9Z" fill="#febf5a"/><path d="M145.1 298.1 144.7 299.8 145.0 300.6 144.2 302.0 145.4 303.8 146.6 303.3 149.0 303.8 149.3 304.9 150.6 305.4 151.7 305.0 152.1 303.6 154.3 301.9 152.9 300.3 153.2 299.0 152.7 298.6 150.2 298.0 149.5 298.5 147.8 298.2 147.0 298.6Z" fill="#fd873a"/><path d="M162.2 298.1 160.3 299.8 161.5 301.2 162.7 301.6 163.1 302.4 164.5 301.8 164.9 300.4Z" fill="#fc6330"/><path d="M164.9 300.4 165.6 299.9 165.7 298.5 164.3 297.5 163.0 298.5 163.2 299.3Z" fill="#feb44e"/><path d="M172.3 299.7 172.5 300.6 175.0 299.5 174.8 298.4 173.1 296.5 171.7 298.4 171.6 299.4Z" fill="#fd903d"/><path d="M155.4 299.0 153.2 299.0 152.9 300.3 154.3 301.9 153.7 302.6 154.6 305.0 156.1 303.9 157.6 303.8 157.3 301.6 156.5 301.3 156.5 300.0Z" fill="#fd7c37"/><path d="M160.3 299.8 159.4 299.8 158.8 300.9 157.3 301.6 157.6 303.8 160.7 304.6 161.6 303.6 162.8 303.4 163.1 302.4 162.7 301.6 161.5 301.2Z" fill="#feb954"/><path d="M167.5 300.0 167.5 301.2 168.6 302.3 170.6 301.4 170.1 300.0Z" fill="#f54026"/><path d="M170.2 299.9 170.6 301.4 172.5 300.6 172.3 299.7 171.6 299.4Z" fill="#fd913e"/><path d="M84.0 302.0 82.3 305.6 83.1 307.0 82.0 308.3 83.6 309.9 85.4 308.0 85.4 305.3 84.5 304.4 85.2 303.5 84.6 302.2ZM92.7 312.3 91.1 312.4 91.0 314.7 93.6 314.0Z" fill="#fc602f"/><path d="M100.2 305.8 100.6 307.8 98.8 310.2 99.3 311.3 98.4 313.8 100.3 314.4 101.1 312.5 104.7 312.3 104.8 310.0 106.1 309.6 105.9 308.3 104.7 307.1 105.3 305.9 104.9 305.5 105.1 303.4 103.9 303.1 102.8 301.9 102.0 302.1 101.0 305.3Z" fill="#fd7e38"/><path d="M104.4 303.1 106.2 303.3 107.0 304.5 108.7 303.4 108.9 302.1 107.1 301.3 106.4 302.0 105.3 301.8Z" fill="#f43d25"/><path d="M104.7 307.1 105.9 308.3 106.1 309.6 104.8 310.0 104.7 312.3 106.2 312.4 107.0 314.2 108.8 313.1 110.3 313.4 111.3 312.6 112.8 313.7 114.0 312.2 115.3 312.2 115.0 310.4 115.6 308.4 113.6 307.9 113.4 305.3 111.7 305.4 111.2 304.1 111.6 303.3 110.7 301.5 108.9 302.1 108.7 303.4 107.0 304.5 106.2 303.3 105.1 303.4 104.9 305.5 105.3 305.9Z" fill="#fd8b3b"/><path d="M163.1 302.4 162.8 303.4 165.1 303.4 164.5 301.8Z" fill="#febd58"/><path d="M165.1 303.4 165.0 304.6 166.3 303.3 168.6 302.2 167.5 301.2 166.5 302.2 164.9 300.4 164.5 301.8Z" fill="#fc4f2a"/><path d="M147.4 306.5 147.6 308.2 147.3 309.5 148.9 310.8 150.2 310.1 148.7 308.2 149.5 307.5 151.0 307.3 150.6 305.4 149.3 304.9 149.0 303.8 147.3 303.6 147.0 306.2Z" fill="#fec25d"/><path d="M153.7 302.6 152.1 303.6 151.7 305.0 150.6 305.4 151.0 307.3 154.6 307.5 154.6 305.0Z" fill="#fd7635"/><path d="M158.7 303.9 156.1 303.9 155.0 304.9 156.7 306.5 157.2 306.0 159.2 306.6 161.0 305.5 160.7 304.6 159.3 304.6Z" fill="#feba55"/><path d="M165.1 303.4 161.6 303.6 160.7 304.6 161.0 305.5 161.7 306.4 163.2 305.6 163.3 306.2 165.0 304.6Z" fill="#fc602f"/><path d="M155.0 304.9 154.5 305.1 154.8 307.6 156.5 307.1 156.7 306.5Z" fill="#fd7836"/><path d="M159.6 307.8 159.0 306.2 157.2 306.0 156.5 307.1 154.8 307.6 155.0 309.0 156.4 310.0 157.4 308.4Z" fill="#fd9b42"/><path d="M159.2 306.6 159.6 307.8 161.4 307.5 162.4 308.2 163.3 306.2 163.2 305.6 161.7 306.4 161.0 305.5Z" fill="#fc602f"/><path d="M81.1 309.3 79.5 309.6 79.4 311.3 78.2 311.9 79.1 313.7 80.4 313.5 81.3 312.2 82.9 312.9 83.8 312.0 85.4 311.9 84.5 309.4 83.6 309.9 82.0 308.3ZM73.5 317.6 75.9 317.7 74.8 316.0 75.3 314.7 74.9 312.3 74.2 312.2 74.7 314.4 74.1 316.8Z" fill="#fc5d2e"/><path d="M140.8 309.4 141.0 308.0 140.3 307.3 138.6 307.9 139.3 309.4Z" fill="#fea948"/><path d="M149.5 307.5 148.7 308.2 150.5 310.1 151.1 309.7 150.8 307.4Z" fill="#fea446"/><path d="M150.8 307.4 151.1 309.7 150.5 310.1 150.9 312.3 153.0 312.4 153.7 311.5 154.9 311.4 156.3 310.1 155.0 309.0 154.6 307.5Z" fill="#fea345"/><path d="M157.4 308.4 156.3 310.1 157.7 312.3 159.1 311.5 160.2 311.9 161.2 309.9 160.3 307.9Z" fill="#febc56"/><path d="M161.4 307.5 160.3 307.9 161.2 309.9 161.0 311.0 162.4 308.2Z" fill="#fea647"/><path d="M119.5 311.7 118.3 309.9 117.3 309.3 116.9 309.9 115.2 310.5 115.5 312.8 116.7 313.7 118.0 312.1Z" fill="#fd8d3c"/><path d="M126.8 310.1 123.7 312.2 125.6 313.9 126.7 313.0 127.4 313.0 130.9 314.0 131.0 315.8 130.6 316.1 130.9 318.3 133.1 317.8 132.8 315.8 133.2 315.3 133.2 312.1 133.0 311.8 131.3 312.3 130.0 311.8 129.4 310.3Z" fill="#fea848"/><path d="M137.4 310.2 136.9 309.8 135.4 310.1 135.4 312.0 133.2 312.1 133.3 313.7 135.3 313.5 136.8 314.4 136.7 316.2 138.5 316.4 138.8 317.4 138.3 318.4 139.2 319.2 140.4 319.0 140.6 317.5 142.3 317.2 142.3 315.5 143.3 314.3 144.7 313.7 144.8 312.5 144.3 311.8 142.9 312.3 142.4 313.3 139.4 314.0 138.9 311.8 141.1 311.3 141.7 310.3 140.8 309.4 139.3 309.4Z" fill="#fea647"/><path d="M144.3 311.8 144.8 312.5 147.0 312.1 146.6 310.5 145.3 310.3Z" fill="#fed06d"/><path d="M146.6 310.5 147.5 313.5 148.7 313.9 149.3 312.4 150.9 312.3 150.5 310.1 148.9 310.8 147.3 309.5Z" fill="#feaa49"/><path d="M154.9 311.4 157.1 313.1 157.7 312.3 156.3 310.1Z" fill="#fd8339"/><path d="M75.3 314.7 74.8 316.0 75.9 317.7 78.7 317.3 79.1 318.5 80.8 318.8 79.3 321.5 81.4 322.3 82.3 322.1 83.1 323.4 84.3 323.9 85.2 319.6 84.8 317.9 87.0 317.3 87.3 318.1 91.0 318.2 90.7 316.1 91.0 314.8 88.8 314.4 88.6 313.9 87.2 313.5 86.1 313.8 85.3 312.0 83.8 312.0 82.9 312.9 81.3 312.2 80.4 313.5 79.1 313.7 78.2 311.9 75.7 311.9 74.9 312.3Z" fill="#fec05b"/><path d="M86.1 313.8 87.2 313.5 87.5 311.6 86.5 311.0 85.3 312.0Z" fill="#fd7a37"/><path d="M88.8 314.4 91.0 314.8 91.1 312.4 89.4 312.5 88.6 313.9Z" fill="#fec05b"/><path d="M95.6 312.2 94.1 314.1 95.3 314.9 95.6 317.7 99.0 317.8 100.9 315.1 100.3 314.4 98.4 313.8 97.5 314.1 96.5 312.4Z" fill="#febd58"/><path d="M98.4 313.8 99.3 311.3 99.0 310.9 96.5 312.4 97.5 314.1ZM90.8 326.0 93.0 326.3 93.7 327.6 94.6 327.7 95.4 325.7 93.9 324.0 92.8 323.5 91.0 324.1Z" fill="#fd8339"/><path d="M100.3 314.4 101.9 316.1 101.5 317.9 103.8 317.9 105.3 317.1 105.9 319.5 105.3 319.8 105.4 322.0 106.7 321.4 107.2 320.0 108.4 320.1 109.5 319.3 110.0 317.7 110.9 317.5 111.3 315.7 112.5 315.3 113.7 316.1 115.1 315.7 114.7 314.1 115.5 312.8 115.3 312.2 114.0 312.2 112.8 313.7 111.3 312.6 110.3 313.4 108.8 313.1 107.0 314.2 106.2 312.4 101.1 312.5Z" fill="#fc602f"/><path d="M117.0 313.7 115.5 312.8 114.7 314.1 115.7 317.5 114.6 318.6 114.9 319.3 117.0 319.4 116.8 321.0 118.1 321.9 118.7 321.4 120.8 322.2 121.5 320.6 119.2 320.1 119.9 318.1 119.3 317.5 119.3 316.6 121.0 315.0 120.8 312.1 119.5 311.7 118.0 312.1Z" fill="#fd9f44"/><path d="M120.8 312.1 120.7 315.7 119.3 316.6 119.3 317.5 119.9 318.1 119.2 320.1 121.5 320.6 123.4 319.7 123.8 318.0 124.6 317.6 125.4 315.8 125.2 315.3 123.2 314.2 123.3 312.3Z" fill="#fd9e44"/><path d="M125.4 315.8 124.6 317.6 123.8 318.0 123.4 319.7 125.2 320.5 125.4 321.3 129.6 321.6 129.9 319.7 130.7 319.4 130.9 318.3 130.6 316.1 131.0 315.8 130.9 314.0 127.4 313.0 126.7 313.0 125.6 313.9 123.7 312.2 123.3 312.3 123.2 314.2 125.2 315.3Z" fill="#fd9841"/><path d="M142.9 312.3 141.5 310.9 138.9 311.8 139.4 314.0 142.4 313.3Z" fill="#feb14c"/><path d="M145.3 315.4 144.5 316.2 144.4 316.9 146.6 317.9 148.6 318.2 149.0 317.6 149.4 314.6 147.5 313.5 147.0 312.1 144.8 312.5Z" fill="#feb54f"/><path d="M150.9 312.3 149.3 312.4 148.7 313.9 149.4 314.6 150.6 313.7Z" fill="#fea345"/><path d="M153.0 312.4 150.9 312.3 150.6 313.7 149.4 314.6 149.4 315.9 151.2 316.3 152.7 315.3Z" fill="#fd8e3c"/><path d="M157.1 313.1 154.9 311.4 153.7 311.5 153.0 312.4 152.7 315.3 154.3 315.6 154.4 316.1 157.0 314.8 156.7 313.9Z" fill="#fd903d"/><path d="M156.7 313.9 157.0 314.8 158.3 314.1 160.2 311.9 159.1 311.5 157.7 312.3Z" fill="#fea446"/><path d="M68.9 333.7 68.5 332.5 70.3 331.6 70.6 328.9 71.6 328.0 72.8 328.0 73.5 326.7 73.4 321.8 72.1 319.7 71.2 319.4 66.6 324.6 68.5 334.3Z" fill="#fea647"/><path d="M73.3 317.5 71.2 319.4 72.1 319.7 73.4 321.8 73.5 324.4 75.3 324.3 75.6 325.2 77.0 326.5 78.7 325.2 81.6 325.4 81.1 324.0 79.1 323.9 78.8 323.2 79.2 321.2 80.8 318.8 79.1 318.5 78.7 317.3 76.0 317.8Z" fill="#fea747"/><path d="M91.0 314.8 90.7 316.1 91.0 320.3 90.4 323.5 91.0 324.1 92.8 323.5 93.9 324.0 94.9 323.4 95.4 322.0 97.1 321.2 98.3 322.0 99.1 324.1 100.8 323.8 100.7 321.8 101.1 320.1 101.6 319.7 101.3 318.2 101.9 316.1 101.3 315.2 100.9 315.1 99.0 317.8 95.7 317.8 95.2 316.8 95.3 314.9 94.1 314.1Z" fill="#fc5b2e"/><path d="M138.5 316.4 136.7 316.2 136.8 314.4 135.3 313.5 133.3 313.7 132.8 315.8 133.3 317.7 132.8 319.9 134.7 319.7 135.5 321.3 141.2 320.0 140.4 319.0 139.2 319.2 138.3 318.4 138.8 317.4Z" fill="#fea044"/><path d="M145.3 315.4 145.3 314.2 144.7 313.7 143.3 314.3 143.1 315.0 144.5 316.2Z" fill="#fd9a42"/><path d="M109.5 319.3 108.4 320.1 107.2 320.0 106.7 321.4 107.1 322.2 106.9 324.0 108.9 323.4 109.7 324.6 112.2 325.9 112.9 325.4 114.2 326.0 115.4 325.4 114.7 323.4 115.8 321.3 114.7 319.7 114.6 318.6 115.7 317.5 115.1 315.7 113.7 316.1 112.5 315.3 111.3 315.7 110.9 317.5 110.0 317.7Z" fill="#fc5d2e"/><path d="M140.4 319.0 141.2 320.0 144.2 319.4 146.0 317.5 144.4 316.9 144.5 316.2 143.1 315.0 142.3 315.5 142.3 317.2 140.6 317.5Z" fill="#fea546"/><path d="M154.3 315.6 152.7 315.3 151.2 316.3 149.4 315.9 149.0 317.6 149.6 317.8 154.4 316.1Z" fill="#fea245"/><path d="M85.2 319.6 84.3 323.9 83.1 323.4 82.3 322.1 81.4 322.3 79.3 321.5 78.8 323.2 79.1 323.9 81.1 324.0 81.6 325.4 83.5 326.9 83.9 327.9 85.5 327.7 86.4 328.2 87.9 325.8 89.2 326.1 88.5 320.1 90.8 319.9 91.0 318.2 87.3 318.1 87.0 317.3 84.8 317.9Z" fill="#feb54f"/><path d="M105.9 319.5 105.3 317.1 103.8 317.9 101.3 318.2 101.6 319.7 103.2 320.1 103.3 321.6 105.3 321.9 105.3 319.8Z" fill="#fea747"/><path d="M130.7 319.4 129.9 319.7 129.6 321.6 129.9 322.0 132.8 322.2 135.5 321.3 134.7 319.7 132.8 319.9 133.1 317.8 130.9 318.3Z" fill="#fea346"/><path d="M148.6 318.2 146.0 317.5 144.1 319.3 147.4 318.8Z" fill="#feaf4b"/><path d="M149.0 317.6 148.6 318.2 148.6 318.3 149.6 317.8Z" fill="#fea848"/><path d="M90.8 319.9 88.5 320.1 89.2 326.1 90.8 326.0 91.0 324.1 90.4 323.5Z" fill="#feaf4b"/><path d="M100.8 323.8 102.8 324.1 103.5 323.7 103.2 320.1 101.6 319.7 101.1 320.1 100.7 321.8Z" fill="#fea145"/><path d="M115.8 321.3 115.1 323.0 116.7 323.7 117.4 323.4 118.1 321.9 116.8 321.0 117.0 319.4 114.9 319.3 114.7 319.7Z" fill="#fea044"/><path d="M121.5 320.6 120.8 322.2 121.1 323.8 120.7 325.6 119.7 326.1 119.5 327.4 120.3 327.8 125.0 325.3 125.2 320.5 123.4 319.7Z" fill="#fea145"/><path d="M94.9 323.4 93.9 324.0 95.4 325.7 94.6 327.7 95.1 328.1 96.8 328.2 97.2 326.6 98.9 325.9 99.5 326.5 101.2 325.6 101.3 324.1 100.8 323.8 99.1 324.1 98.3 322.0 97.1 321.2 95.4 322.0Z" fill="#fecc68"/><path d="M103.3 321.6 103.5 323.7 104.1 323.8 105.4 326.0 105.8 327.9 105.2 329.3 106.8 331.0 107.9 329.7 109.1 329.8 109.6 329.2 109.4 327.7 109.9 326.5 109.2 325.6 109.7 324.6 108.9 323.4 106.9 324.0 105.5 323.2 105.3 321.9Z" fill="#fd9e44"/><path d="M106.7 321.4 105.4 322.0 105.5 323.2 106.8 323.8 107.1 322.2ZM109.7 324.6 109.2 325.6 109.9 326.5 109.4 327.7 109.7 328.3 111.0 327.7 111.2 326.6 112.2 325.9Z" fill="#fc4f2a"/><path d="M118.8 324.5 118.7 325.3 119.7 326.1 120.7 325.6 121.1 323.8 120.3 323.8 118.0 322.2 117.4 323.4Z" fill="#febd58"/><path d="M118.7 321.4 118.0 322.2 120.3 323.8 121.0 323.7 120.8 322.2Z" fill="#feae4a"/><path d="M129.9 322.0 129.6 321.6 125.4 321.3 124.9 322.0 125.0 325.3 129.3 323.4Z" fill="#fd9a42"/><path d="M132.8 322.2 129.9 322.0 129.3 323.4Z" fill="#fd9640"/><path d="M68.5 334.3 69.4 343.7 70.4 344.0 71.3 342.2 72.8 342.3 73.2 341.7 75.4 342.5 75.6 342.3 74.9 340.4 75.6 339.9 77.3 340.8 78.9 339.5 79.8 339.8 81.0 339.1 81.3 337.9 79.5 337.0 78.7 334.6 79.7 333.7 80.7 333.6 81.2 332.3 79.4 331.6 79.1 330.4 79.8 329.6 79.5 328.0 80.7 327.5 81.5 325.5 78.7 325.2 77.0 326.5 75.6 325.2 75.3 324.3 73.5 324.4 73.1 327.6 71.6 328.0 70.6 328.9 70.3 331.6 68.5 332.5 68.9 333.7Z" fill="#fea848"/><path d="M97.0 327.9 95.1 328.1 94.6 330.0 96.3 330.4 96.7 331.8 97.7 332.3 97.4 334.0 99.6 333.8 100.5 334.4 101.3 334.1 103.1 335.1 103.7 333.6 102.8 332.0 103.2 330.1 102.7 327.7 103.6 326.2 102.8 324.1 101.3 324.1 101.2 325.6 99.5 326.5 98.9 325.9 97.2 326.6Z" fill="#feca66"/><path d="M104.1 323.8 102.8 324.1 103.6 326.2 102.7 327.7 103.2 330.1 105.2 329.3 105.8 327.9 105.4 326.0Z" fill="#fec763"/><path d="M115.1 329.8 117.9 329.3 120.3 327.8 119.5 327.4 119.7 326.1 118.7 325.3 118.8 324.5 117.4 323.4 116.7 323.7 115.1 323.0 114.7 323.4 115.4 325.4 114.2 326.0 115.0 327.5 114.7 328.3Z" fill="#feb54f"/><path d="M80.7 327.5 79.5 328.0 79.8 329.6 79.1 330.4 79.4 331.6 81.2 332.3 80.7 333.6 79.7 333.7 78.7 334.6 79.1 336.3 79.5 337.0 81.3 337.9 83.2 336.9 84.3 337.6 85.9 336.3 85.0 335.7 84.6 332.4 85.1 331.5 87.1 331.1 86.4 329.7 86.4 328.2 85.5 327.7 83.9 327.9 83.5 326.9 81.6 325.4Z" fill="#feb853"/><path d="M86.4 329.7 87.1 331.4 85.1 331.5 84.6 332.4 85.0 335.7 85.9 336.3 84.3 337.6 84.8 338.2 86.9 338.0 87.1 338.7 90.6 338.7 91.2 337.8 91.3 336.5 89.6 335.7 88.9 334.2 92.3 331.5 93.2 331.5 94.7 332.6 95.4 330.4 94.6 330.0 95.1 328.1 93.7 327.6 91.6 328.3 90.9 327.8 90.8 326.0 87.9 325.8 86.4 328.2Z" fill="#feab49"/><path d="M90.9 326.2 90.9 327.8 91.6 328.3 93.7 327.6 93.0 326.3Z" fill="#fd7234"/><path d="M115.0 327.5 114.2 326.0 112.9 325.4 111.2 326.6 111.0 327.7 111.8 328.7 112.5 328.7 114.7 328.3Z" fill="#fc6932"/><path d="M109.1 329.8 109.6 330.9 115.1 329.8 115.2 329.4 114.7 328.3 111.8 328.7 111.0 327.7 109.7 328.3Z" fill="#fea245"/><path d="M95.0 333.8 94.5 334.3 95.4 337.8 97.6 337.6 97.0 334.5 97.7 332.3 96.7 331.8 96.3 330.4 95.4 330.4 94.7 332.6Z" fill="#fed26f"/><path d="M103.0 330.3 102.8 332.0 103.7 333.6 103.2 335.3 105.1 333.4 105.8 331.7 104.3 329.9Z" fill="#feda78"/><path d="M105.8 331.7 105.1 333.4 109.6 330.9 109.1 329.8 107.9 329.7 106.8 331.0 105.2 329.3 104.3 329.9Z" fill="#fea547"/><path d="M92.3 331.5 88.9 334.2 89.6 335.7 91.3 336.5 91.2 337.8 92.6 338.4 93.3 337.8 95.1 338.2 94.5 334.3 95.0 333.8 94.9 332.9 93.2 331.5Z" fill="#feb954"/><path d="M97.1 335.0 97.6 337.6 100.2 338.3 103.2 335.3 101.3 334.1 100.5 334.4 99.6 333.8 97.4 334.0Z" fill="#fecc68"/><path d="M81.0 339.1 79.8 339.8 79.6 341.9 81.2 342.5 81.2 343.9 80.6 345.2 80.9 345.7 80.4 347.8 79.6 348.1 79.1 350.6 79.5 352.1 81.0 352.2 82.0 350.3 84.7 348.7 85.4 345.6 87.1 345.6 88.0 344.6 86.8 342.7 85.3 344.2 85.1 343.9 84.3 339.7 84.8 338.2 84.3 337.6 83.2 336.9 81.6 337.6Z" fill="#feb44e"/><path d="M86.9 338.0 84.8 338.2 84.3 339.7 85.3 344.2 86.9 342.5 86.5 341.4 87.2 340.2Z" fill="#fec05b"/><path d="M90.6 338.7 87.1 338.7 87.2 340.2 86.5 341.4 86.9 342.5 88.7 342.5 89.2 342.0 91.0 342.8 91.7 341.8 94.9 341.4 95.1 338.2 93.3 337.8 92.6 338.4 91.2 337.8Z" fill="#feb14c"/><path d="M95.4 337.8 94.9 341.4 96.4 342.2 100.2 338.3 97.6 337.6Z" fill="#fecd69"/><path d="M74.9 340.4 75.6 342.3 75.4 342.5 73.2 341.7 72.8 342.3 73.2 345.5 76.5 346.1 76.6 347.9 77.3 348.6 80.4 347.8 81.2 342.5 79.6 341.9 79.8 339.8 78.9 339.5 77.3 340.8 76.4 340.0 75.6 339.9Z" fill="#fea848"/><path d="M66.6 347.2 67.9 347.8 70.9 347.7 72.7 348.2 73.6 347.4 74.3 347.7 74.9 348.8 76.6 347.9 76.6 346.2 73.2 345.5 72.8 342.3 71.3 342.2 70.4 344.0 69.9 344.1 69.0 341.8Z" fill="#fea848"/><path d="M89.0 343.9 88.7 342.5 86.9 342.5 88.0 344.6 87.1 345.6 87.6 346.3 87.4 347.7 89.1 348.4 91.1 347.2 90.2 344.1Z" fill="#feaf4b"/><path d="M89.2 342.0 88.7 342.5 89.0 343.9 90.2 344.1 91.0 342.8Z" fill="#feb14b"/><path d="M94.9 341.4 91.7 341.8 91.0 342.8 91.1 343.2 93.0 344.5 94.8 344.3 96.4 342.2Z" fill="#fd7a37"/><path d="M91.1 347.2 89.6 347.8 89.0 349.0 91.2 350.1 90.8 351.8 93.1 351.6 93.3 350.7 94.5 350.2 94.4 348.7 95.3 347.9 93.0 346.7 94.8 344.3 93.0 344.5 91.1 343.2 90.2 344.1Z" fill="#fb4d2a"/><path d="M94.8 349.8 93.3 350.7 93.1 351.6 90.8 351.8 90.8 353.4 92.4 353.7 93.3 353.1 94.5 353.7 95.1 355.8 100.2 353.2 100.2 352.3 98.9 350.0 95.3 347.9 94.4 348.7Z" fill="#fc6130"/><path d="M82.8 349.7 81.0 352.2 82.3 352.7 82.8 355.8 84.4 355.8 84.4 352.4 86.5 352.3 87.0 351.7 88.3 352.8 88.8 353.9 90.4 353.9 90.8 353.4 90.6 351.5 91.2 350.1 87.4 347.7 87.6 346.3 87.1 345.6 85.5 345.5 84.7 348.7Z" fill="#feb54f"/><path d="M75.1 357.5 79.5 357.9 81.5 356.2 82.8 355.8 82.3 352.7 79.5 352.1 79.1 350.6 79.6 348.1 79.2 347.9 77.3 348.6 76.6 347.9 74.9 348.8 74.3 347.7 73.6 347.4 72.7 348.2 70.9 347.7 67.9 347.8 66.5 347.3 65.4 350.3 65.6 351.2 69.4 353.6 75.0 358.9Z" fill="#feb34d"/><path d="M86.5 352.3 84.4 352.4 84.4 355.8 86.5 356.0 87.0 358.1 88.7 357.3 88.3 356.1 90.7 355.6 90.4 353.9 88.8 353.9 88.3 352.8 87.0 351.7Z" fill="#feb954"/><path d="M88.3 356.1 88.7 357.3 87.0 358.1 86.7 358.7 87.4 361.2 88.3 361.9 91.2 360.1 95.2 356.1 94.5 353.7 93.3 353.1 92.4 353.7 90.8 353.4 90.4 353.9 90.7 355.7Z" fill="#fec25d"/><path d="M83.0 359.2 84.9 356.9 84.9 356.1 84.4 355.8 81.5 356.2 80.3 357.4 82.7 358.6Z" fill="#feaf4b"/><path d="M82.7 358.6 80.3 357.4 78.8 358.1 78.4 360.2 77.2 360.2 79.7 361.7 80.7 363.8 81.5 364.3 88.3 361.9 87.4 361.2 86.5 356.0 84.9 356.1 84.9 356.9 83.0 359.2Z" fill="#febb56"/><path d="M95.1 355.8 95.2 356.1 96.2 355.4Z" fill="#fc6330"/><path d="M75.0 358.9 77.2 360.2 78.4 360.2 78.8 358.1 75.1 357.5Z" fill="#fec25d"/></g></g>
<polygon points="89.2,214.3 91.9,214.0 95.3,216.3 99.9,217.2 103.3,217.6 106.0,219.0 110.0,221.0 114.0,222.3 120.0,222.3 122.7,223.6 124.7,226.3 126.1,231.7 128.4,234.9 132.8,238.2 139.9,237.1 149.9,239.3 151.7,237.1 153.3,240.4 157.7,242.6 159.9,241.5 165.5,241.5 171.1,243.8 177.1,247.0 182.3,246.4 185.8,244.7 189.3,241.7 193.7,240.0 197.1,239.1 200.6,238.3 204.1,239.5 206.7,241.2 209.3,243.5 211.9,245.2 214.6,246.4 215.4,248.7 212.8,250.5 210.2,251.3 208.5,253.9 207.6,257.4 209.3,260.9 210.2,265.3 211.9,270.5 211.1,274.0 209.3,278.3 206.7,281.8 203.2,284.4 202.1,285.5 198.9,287.4 195.2,289.2 191.6,291.0 188.0,292.8 183.2,294.6 178.3,296.4 174.1,298.8 169.9,300.6 165.7,302.5 162.6,305.5 160.2,310.3 157.8,313.3 154.2,315.1 149.3,316.9 147.1,317.8 142.8,318.7 137.6,319.6 132.4,321.3 127.2,323.1 121.9,325.7 117.6,328.3 113.2,329.2 108.9,330.0 104.5,332.6 101.0,336.1 98.4,338.7 95.8,341.4 93.2,344.8 91.5,347.1 94.9,348.8 98.4,350.9 99.3,352.7 95.8,354.4 93.2,356.2 90.6,359.3 87.1,361.4 84.1,362.4 81.6,363.3 80.5,361.0 74.6,357.5 70.0,352.8 66.4,350.5 67.6,347.0 70.0,342.3 70.0,336.5 68.8,330.6 67.6,324.8 67.9,324.4 70.6,321.4 73.0,319.0 75.0,317.4 75.7,314.4 75.0,311.0 74.4,308.3 73.9,304.6 75.6,300.8 76.2,297.1 73.7,293.3 73.4,289.5 74.3,287.3 77.1,284.9 79.9,281.7 82.7,279.2 85.6,277.4 84.2,274.5 85.0,271.7 87.4,268.9 89.9,264.2 90.6,259.5 90.2,253.9 91.9,251.8 92.6,246.4 91.9,241.1 91.2,237.1 91.9,231.7 92.6,229.0 91.2,226.3 89.9,222.3 88.5,216.9" fill="none" stroke="#6b4a2a" stroke-width="0.35" stroke-opacity="0.8"/>
<line x1="165.7" y1="302.1" x2="217.7" y2="307.7" stroke="#b5b5b5" stroke-width="0.5"/>
<line x1="157.6" y1="312.1" x2="177.2" y2="363.4" stroke="#b5b5b5" stroke-width="0.5"/>
<rect x="157.6" y="302.2" width="7.6" height="10" fill="#707070" fill-opacity="0.3" stroke="#333" stroke-width="0.9"/>
<rect x="177.2" y="307.7" width="40.5" height="55.7" fill="#fff"/>
<clipPath id="ins14"><polygon points="177.2,307.7 217.7,307.7 217.7,315.4 215.0,321.4 211.8,325.7 208.5,330.0 205.3,334.3 203.2,338.9 200.5,342.8 200.9,345.5 199.7,345.3 198.4,345.0 196.2,348.2 194.6,353.6 193.5,356.8 192.5,360.0 191.9,363.4 177.2,363.4"/></clipPath><g clip-path="url(#ins14)"><g stroke="#4a3422" stroke-width="0.35" stroke-opacity="0.75"><path d="M176.2 315.7 177.9 315.9 180.7 315.4 180.8 314.2 181.9 313.9 182.0 312.1 180.8 310.8 181.4 310.2 180.3 309.0 179.5 309.1 179.6 307.5 179.2 306.7 177.0 306.7 176.2 307.4Z" fill="#feb54f"/><path d="M179.3 306.8 179.5 309.1 180.3 309.0 181.4 310.2 183.3 309.0 184.1 309.2 185.5 308.9 185.5 308.0 186.8 307.8 186.7 306.7Z" fill="#fd8f3d"/><path d="M186.8 307.8 187.4 308.2 187.2 309.1 189.4 309.4 190.1 310.2 192.1 309.2 192.6 309.7 193.5 309.5 193.7 308.1 194.9 307.7 195.0 306.8 186.7 306.7Z" fill="#fd913e"/><path d="M195.0 306.8 194.9 307.7 193.7 308.1 193.8 308.7 195.1 309.6 195.2 310.2 196.6 310.5 196.0 312.0 197.9 312.0 198.4 311.8 198.8 310.6 200.0 310.8 200.1 309.5 199.7 309.0 200.4 308.0 201.7 307.7 201.8 306.7Z" fill="#fd8a3b"/><path d="M201.8 306.7 201.7 307.7 200.4 308.0 199.7 309.0 200.1 309.5 200.0 311.9 202.8 313.1 203.6 311.5 204.5 312.2 206.4 311.3 206.4 309.2 206.9 309.0 207.2 307.7 207.0 306.7Z" fill="#fd7936"/><path d="M207.0 306.7 206.9 309.0 209.2 311.0 210.6 310.3 211.0 310.6 211.9 309.6 213.3 309.1 212.2 307.9 213.1 306.7Z" fill="#fd7435"/><path d="M213.1 306.7 212.2 307.9 213.8 309.1 215.4 307.8 215.6 306.7Z" fill="#fd853a"/><path d="M215.4 307.8 216.2 308.2 216.6 309.8 218.1 309.5 218.7 310.2 218.7 307.6 218.3 306.9 215.6 306.7Z" fill="#fd933e"/><path d="M184.1 309.2 183.3 309.0 180.8 310.8 182.0 312.1 181.9 313.9 180.8 314.2 180.7 315.4 182.2 316.8 183.5 316.4 184.7 316.9 184.8 318.2 185.7 318.2 186.2 318.9 188.1 317.6 187.9 317.0 188.6 316.0 188.7 314.5 188.2 311.5 189.5 309.7 187.2 309.1 187.4 308.2 186.8 307.8 185.9 307.8 185.5 308.9Z" fill="#fd8f3d"/><path d="M213.8 309.1 214.2 310.6 215.3 309.9 216.6 309.8 216.2 308.2 215.4 307.8Z" fill="#fd883b"/><path d="M188.4 311.1 188.6 316.0 188.2 316.5 189.6 317.3 190.7 317.0 192.2 317.4 193.6 316.9 193.7 315.8 194.9 315.3 195.9 314.0 195.9 311.9 196.6 310.5 195.2 310.2 195.1 309.6 193.8 308.7 193.5 309.5 192.6 309.7 192.1 309.2 190.9 310.1 190.1 310.2 189.5 309.7Z" fill="#fd8f3d"/><path d="M206.9 309.0 206.4 309.2 206.4 311.3 209.0 313.4 209.1 314.1 210.4 314.1 210.8 313.7 211.0 310.6 210.6 310.3 209.2 311.0Z" fill="#fc5b2e"/><path d="M214.2 310.6 213.8 309.1 211.9 309.6 211.0 310.6 211.0 311.9 212.1 312.0 212.3 313.5 213.2 312.6 212.6 311.9Z" fill="#fd913e"/><path d="M218.1 309.5 215.8 310.1 215.3 309.9 214.4 310.6 215.0 311.2 217.2 311.6 218.1 311.4 218.4 310.2Z" fill="#fd7335"/><path d="M196.0 312.0 195.9 314.0 194.9 315.3 193.7 315.8 193.6 316.9 194.7 318.0 194.7 318.9 196.1 319.3 196.5 318.5 197.3 318.2 200.2 320.2 200.1 318.3 201.6 317.9 201.8 316.9 200.8 313.5 201.5 312.4 200.0 311.9 200.0 310.8 198.8 310.6 198.4 311.8Z" fill="#fc4d2a"/><path d="M214.4 310.6 212.6 311.9 213.2 312.6 212.7 313.9 213.4 314.4 214.0 314.1 214.7 314.7 217.0 314.6 217.1 313.2 216.0 312.7 216.2 311.5Z" fill="#fc6230"/><path d="M218.1 311.4 216.2 311.5 216.0 312.7 217.1 313.2 217.1 314.4 218.7 314.4 218.7 310.2Z" fill="#fc6831"/><path d="M203.6 311.5 202.8 313.1 201.6 312.5 200.8 313.5 201.5 316.6 203.0 317.1 204.0 316.4 205.2 317.1 206.2 317.1 207.8 314.9 206.3 314.6 206.1 312.8 206.9 311.9 206.4 311.3 204.5 312.2Z" fill="#fc6430"/><path d="M206.9 311.9 206.1 312.8 206.3 314.6 208.0 314.8 209.1 314.1 209.0 313.4ZM210.7 315.5 210.4 314.1 209.2 314.2 209.8 315.5Z" fill="#fc4f2a"/><path d="M211.0 311.9 210.4 314.1 210.8 316.9 211.8 316.7 213.4 314.4 212.3 313.5 212.1 312.0Z" fill="#fc602f"/><path d="M209.1 314.1 206.7 316.5 207.6 316.9 207.8 317.7 208.9 318.1 209.3 316.9 210.7 316.8 210.5 315.7 209.8 315.5Z" fill="#fb4b29"/><path d="M213.4 314.4 213.0 316.9 214.1 316.8 214.6 317.2 215.2 316.9 215.6 315.7 217.2 316.0 217.0 314.6 214.7 314.7 214.0 314.1Z" fill="#f74427"/><path d="M218.5 314.5 217.0 314.6 216.9 316.8 218.0 317.3 218.7 315.6Z" fill="#fc542c"/><path d="M176.2 322.0 176.8 323.0 179.4 323.7 179.5 324.4 180.9 324.9 182.2 323.2 183.4 323.8 183.6 323.3 183.2 322.1 184.8 322.0 185.0 321.2 186.2 320.8 185.4 319.7 186.2 318.9 185.7 318.2 184.8 318.2 184.7 316.9 183.5 316.4 182.2 316.8 180.7 315.4 177.9 315.9 176.2 315.7Z" fill="#feb34d"/><path d="M212.3 315.4 211.8 316.7 210.8 316.9 211.0 319.4 212.6 319.1 213.0 318.3 212.9 315.4Z" fill="#e6211e"/><path d="M214.6 317.2 214.2 318.5 216.6 319.6 218.0 317.3 216.9 316.8 217.0 316.2 215.6 315.7 215.2 316.9Z" fill="#fc6932"/><path d="M188.2 316.5 188.1 317.6 185.4 319.7 186.2 320.8 187.0 320.9 186.2 322.8 187.9 323.5 189.9 326.0 190.9 326.0 191.8 324.8 194.7 325.0 194.8 322.0 194.3 320.7 195.6 319.3 194.7 318.9 194.7 318.0 193.6 316.9 189.6 317.3Z" fill="#f54026"/><path d="M205.2 317.1 204.0 316.4 203.0 317.1 201.8 316.9 201.6 317.9 202.6 319.2 203.5 319.5 203.8 320.7 206.6 321.1 206.7 319.8 205.4 319.3 204.6 318.2Z" fill="#fb4c29"/><path d="M206.2 317.1 205.2 317.1 204.7 318.4 205.4 319.3 206.7 319.8 207.9 319.3 208.5 318.2 207.8 317.7 207.6 316.9 206.7 316.5Z" fill="#fd7134"/><path d="M209.3 316.9 207.9 319.3 210.5 321.0 210.9 320.7 210.8 316.9Z" fill="#d5131f"/><path d="M213.0 316.9 212.6 319.1 213.0 320.2 214.2 320.6 215.8 319.4 214.2 318.5 214.6 317.2 214.1 316.8Z" fill="#fc6a32"/><path d="M194.3 320.7 194.9 324.8 198.5 324.8 198.6 323.5 199.9 323.6 200.1 323.1 200.2 320.2 197.3 318.2 195.6 319.3Z" fill="#fb4d2a"/><path d="M201.6 317.9 200.1 318.3 200.0 322.2 204.0 322.3 203.5 319.5 202.6 319.2Z" fill="#f13824"/><path d="M216.6 319.6 215.8 319.4 214.2 320.6 215.9 321.9 217.2 319.0Z" fill="#fc502a"/><path d="M207.9 319.3 206.7 319.8 206.6 321.1 207.6 322.3 208.4 320.9 209.3 320.4Z" fill="#e6201e"/><path d="M212.6 319.1 211.0 319.4 210.4 322.3 210.9 323.7 212.0 323.3 211.6 322.2 213.0 322.1Z" fill="#d8151e"/><path d="M183.4 323.8 182.2 323.2 180.9 324.9 181.1 325.8 180.5 326.2 180.6 326.9 182.0 327.7 181.0 328.2 180.7 329.9 181.7 329.5 184.1 330.2 184.8 331.4 185.8 330.7 186.2 331.2 187.0 330.9 187.3 330.0 188.4 329.7 188.0 327.2 189.6 326.9 189.7 325.4 187.9 323.5 186.2 322.8 187.0 320.9 185.0 321.2 184.8 322.0 183.2 322.1 183.6 323.3Z" fill="#f33c25"/><path d="M203.6 321.0 205.3 324.2 206.2 323.1 207.7 323.0 206.6 321.1 205.4 321.2 205.1 320.7Z" fill="#f33c25"/><path d="M208.4 320.9 207.6 322.3 208.3 323.5 210.6 321.9 210.5 321.0 209.3 320.4Z" fill="#ce0f20"/><path d="M215.9 321.9 213.0 320.2 212.6 320.5 213.0 322.1 211.6 322.2 212.0 323.3 213.3 323.3 213.4 325.2Z" fill="#fc6531"/><path d="M176.2 329.8 178.2 330.3 179.4 329.6 180.7 329.9 181.0 328.2 182.0 327.7 180.6 326.9 180.5 326.2 181.1 325.8 180.9 324.9 179.5 324.4 179.4 323.7 176.8 323.0 176.2 322.0Z" fill="#feb24c"/><path d="M198.6 323.5 198.5 324.8 196.4 324.9 196.5 325.7 197.5 326.3 198.9 325.9 201.3 326.1 201.7 322.1 200.2 322.4 199.9 323.6Z" fill="#fd8038"/><path d="M204.0 322.3 201.8 322.2 201.4 323.5 201.7 324.0 202.5 323.6 203.2 323.9 204.0 324.9 203.6 325.9 204.8 326.0 205.5 324.9Z" fill="#fc6531"/><path d="M210.4 322.3 209.3 322.5 207.7 324.5 208.3 325.4 210.7 324.1Z" fill="#f03523"/><path d="M202.5 323.6 201.7 324.0 201.4 326.2 203.6 325.9 204.0 324.9Z" fill="#fb4c29"/><path d="M207.7 323.0 205.9 323.3 204.8 326.0 204.9 326.8 206.4 327.1 207.2 325.9 206.7 324.8 207.7 324.5 208.3 323.5Z" fill="#f94728"/><path d="M213.1 323.1 210.9 323.7 210.2 324.7 209.4 324.7 209.1 325.1 209.5 326.0 209.9 326.3 212.8 326.0 213.4 325.2Z" fill="#fc512b"/><path d="M188.2 327.0 188.4 329.7 187.3 330.0 187.2 330.7 188.1 331.5 189.3 331.2 189.6 332.3 191.4 331.3 192.2 331.5 193.3 331.0 193.5 330.3 194.4 330.2 193.8 327.9 194.6 326.8 193.8 325.8 194.1 325.0 193.3 324.6 191.8 324.8 190.9 326.0 189.9 326.0 189.5 327.0Z" fill="#fecd69"/><path d="M196.2 324.6 194.1 325.0 193.8 325.8 194.6 326.8 193.8 327.9 194.1 328.6 195.4 328.4 196.2 329.2 197.5 328.7 198.0 329.6 198.9 329.8 198.8 327.5 199.3 327.0 198.9 326.0 197.5 326.3 196.5 325.7Z" fill="#fd7234"/><path d="M206.7 324.8 207.2 325.9 206.4 327.1 207.0 328.7 208.9 328.6 209.4 327.6 209.1 327.0 209.9 326.3 209.1 325.1 208.3 325.4 207.7 324.5Z" fill="#f43e26"/><path d="M198.9 326.0 199.3 327.0 198.8 327.5 199.2 330.0 201.3 328.4 201.4 326.2Z" fill="#febd58"/><path d="M204.8 326.0 201.4 326.2 201.3 328.4 202.4 328.7 204.1 328.1 204.9 326.8Z" fill="#fc5f2f"/><path d="M212.8 326.0 210.6 326.0 209.1 327.0 209.4 327.6 210.2 327.8 210.4 329.1Z" fill="#fc4d2a"/><path d="M204.9 326.8 203.7 328.4 204.0 331.1 205.2 331.0 205.3 329.6 206.3 329.5 207.0 328.7 206.6 327.2Z" fill="#fd9c43"/><path d="M207.9 328.9 208.3 331.3 208.7 331.4 210.4 329.1 210.2 327.8 209.4 327.6 208.9 328.6Z" fill="#fd8e3d"/><path d="M194.1 328.6 194.6 329.8 193.5 330.3 193.3 331.0 195.4 331.4 197.4 332.4 197.7 331.2 197.2 330.5 198.0 329.6 197.5 328.7 196.2 329.2 195.4 328.4Z" fill="#febf5a"/><path d="M201.2 328.6 200.0 329.8 198.0 329.6 197.2 330.5 197.7 331.2 197.6 332.6 200.9 331.5 201.5 329.9Z" fill="#feb24c"/><path d="M203.7 328.4 201.2 328.6 201.5 329.9 200.9 331.5 201.3 332.2 202.4 332.1 202.6 331.4 204.0 331.1Z" fill="#feab49"/><path d="M206.3 329.5 205.3 329.6 205.4 330.9 206.6 330.8 206.7 331.4 208.0 331.7 208.0 332.4 208.7 331.4 208.3 331.3 207.9 328.9 207.0 328.7Z" fill="#fd7b37"/><path d="M176.2 338.6 176.6 338.0 178.3 337.7 178.2 336.3 179.5 336.2 179.1 334.8 179.8 333.9 179.6 332.8 180.7 332.2 179.4 330.9 179.4 329.6 178.2 330.3 177.4 329.7 176.2 329.8Z" fill="#feb54f"/><path d="M180.9 330.0 179.7 329.8 179.4 330.9 180.7 332.2 179.6 332.8 179.8 333.9 179.1 334.8 179.8 336.4 181.9 336.3 182.1 337.5 183.1 337.4 183.3 338.9 185.8 337.1 186.2 331.2 185.8 330.7 184.8 331.4 184.1 330.2 181.7 329.5Z" fill="#fecc68"/><path d="M186.2 331.2 185.8 337.1 186.8 336.7 187.7 337.5 189.9 337.7 190.3 336.7 191.5 336.0 190.9 335.1 191.2 334.3 190.6 333.5 191.1 333.0 190.6 332.1 189.6 332.3 189.3 331.2 188.1 331.5 187.2 330.7Z" fill="#feca65"/><path d="M195.4 331.4 193.3 331.0 191.0 331.4 190.6 332.1 191.1 333.0 190.6 333.5 191.2 334.3 190.9 335.1 192.3 334.8 192.6 335.4 193.3 335.0 193.7 335.6 194.7 335.4Z" fill="#fec965"/><path d="M195.4 331.4 195.0 334.7 195.6 334.5 197.0 335.0 197.6 333.8 197.6 332.6Z" fill="#fec864"/><path d="M199.8 331.6 199.6 332.1 200.4 332.9 200.0 333.8 200.6 334.9 201.2 335.0 202.7 332.6 202.4 332.1 201.3 332.2 200.9 331.5Z" fill="#feb14c"/><path d="M203.9 331.2 202.6 331.4 202.4 332.1 202.7 332.6 202.2 333.9 203.4 335.2 204.3 334.8 204.5 333.7Z" fill="#fd9540"/><path d="M204.0 331.1 204.2 333.4 205.8 334.2 206.7 334.1 208.0 332.4 208.0 331.7 206.7 331.4 206.6 330.8Z" fill="#fc6a32"/><path d="M200.4 332.9 199.6 332.1 197.6 332.6 197.6 333.8 197.0 335.0 198.0 336.3 199.3 336.2 198.9 335.0 200.2 335.2 200.6 334.9 200.0 333.8Z" fill="#fed36f"/><path d="M195.6 334.5 194.7 335.4 194.9 336.5 194.5 336.8 195.4 338.2 196.0 336.7 197.6 337.1 198.0 336.3 197.8 335.6Z" fill="#fecb67"/><path d="M202.2 333.9 201.2 335.0 201.4 336.1 202.8 336.6 204.0 336.3 203.6 335.2Z" fill="#fc6d33"/><path d="M203.6 335.2 204.1 336.1 205.4 336.5 206.7 334.1 204.5 333.7 204.3 334.8Z" fill="#fd8f3d"/><path d="M191.3 336.3 190.3 336.7 189.9 337.7 191.1 338.0 191.5 338.7 192.6 338.4 193.5 339.0 194.1 337.9 195.4 338.2 194.5 336.8 194.9 336.5 194.7 335.4 193.7 335.6 193.3 335.0 192.6 335.4 192.3 334.8 191.2 335.4Z" fill="#fed36f"/><path d="M199.8 336.2 200.5 338.0 202.8 337.5 202.7 336.3 201.4 336.1 201.2 335.0 198.9 335.0 199.3 336.2Z" fill="#feb650"/><path d="M178.2 336.3 178.3 337.7 176.6 338.0 176.2 338.6 176.2 341.5 176.8 341.4 176.7 342.3 179.2 343.3 179.5 344.1 180.5 344.1 181.6 342.1 183.2 341.6 182.8 340.5 183.3 339.9 183.1 337.4 182.1 337.5 181.9 336.3 180.9 336.2Z" fill="#fd8a3b"/><path d="M185.0 337.5 183.1 339.1 183.3 339.9 184.3 340.1 184.8 341.5 187.4 342.1 188.5 340.9 190.1 340.5 189.4 339.3 189.7 337.8 188.6 337.3 187.7 337.5 186.8 336.7Z" fill="#febc57"/><path d="M198.0 336.3 197.6 337.1 196.0 336.7 195.7 338.0 197.6 339.5 198.3 339.3 198.9 338.1 200.2 337.8 199.8 336.2Z" fill="#fec661"/><path d="M205.2 336.5 204.1 336.1 202.8 336.6 202.8 337.5 204.5 337.6 204.3 338.8Z" fill="#fd8b3b"/><path d="M189.9 337.7 189.4 339.3 190.2 341.5 191.0 341.9 191.5 340.6 193.2 340.0 193.7 339.3 192.6 338.4 191.5 338.7 191.1 338.0Z" fill="#fed16d"/><path d="M194.1 337.9 193.2 340.0 193.6 340.7 194.7 341.0 195.0 342.0 196.4 341.3 195.8 340.5 196.0 339.4 195.2 338.4Z" fill="#fd9640"/><path d="M195.7 338.0 195.2 338.7 196.0 339.4 195.8 340.5 196.3 340.8 197.6 339.5Z" fill="#fd7b37"/><path d="M199.2 337.9 198.3 339.3 197.6 339.5 197.9 340.5 198.6 340.7 199.3 340.2 200.9 340.3 201.3 339.9 200.5 338.0Z" fill="#fd6f34"/><path d="M204.5 337.6 202.8 337.5 200.5 338.0 200.4 338.3 201.3 339.9 201.8 339.3 203.1 339.3 203.2 338.9 204.2 338.7Z" fill="#fd9941"/><path d="M203.1 339.3 201.8 339.3 200.9 340.3 202.3 342.0 204.3 338.8 203.2 338.9Z" fill="#fd8f3d"/><path d="M181.6 342.1 180.5 344.1 180.7 345.1 181.7 345.8 181.7 346.7 182.6 348.2 184.2 347.9 184.4 347.0 185.9 347.3 187.0 346.7 187.1 344.7 186.0 343.7 187.5 343.0 187.4 342.1 184.8 341.5 184.3 340.1 183.3 339.9 182.8 340.5 183.2 341.6Z" fill="#fd893b"/><path d="M188.5 340.9 187.4 342.1 187.5 343.0 188.4 344.1 191.0 344.0 191.1 342.1 190.2 341.5 190.0 340.6Z" fill="#feaa49"/><path d="M193.2 340.0 191.5 340.6 191.1 342.1 192.4 341.6 193.5 342.1 194.7 341.0 193.6 340.7Z" fill="#fd8339"/><path d="M196.4 341.3 195.0 342.3 196.4 343.1 197.9 342.3 198.8 343.0 200.0 342.2 199.8 341.5 198.9 341.4 197.5 339.8 196.3 340.8Z" fill="#fea145"/><path d="M200.0 342.2 201.5 341.5 200.9 340.3 199.3 340.2 198.6 340.7 198.7 341.3 199.8 341.5Z" fill="#fd7034"/><path d="M176.6 349.3 178.0 347.8 179.4 347.8 179.4 346.1 181.0 347.1 181.7 346.7 181.7 345.8 180.7 345.1 180.5 344.1 179.5 344.1 179.2 343.3 176.7 342.3 176.8 341.4 176.2 341.5 176.2 349.1Z" fill="#fc4e2a"/><path d="M191.1 342.1 191.0 344.0 192.3 344.9 192.9 344.2 192.1 342.0Z" fill="#fd893b"/><path d="M194.7 341.0 193.5 342.1 192.4 341.6 192.1 342.0 192.9 344.2 195.2 344.4 196.2 343.6 196.4 343.1 195.0 342.3Z" fill="#fc6d33"/><path d="M201.5 341.5 198.8 343.0 199.3 344.4 200.9 344.1 201.2 345.1 201.9 345.6 201.5 343.0 202.1 341.6Z" fill="#fd7234"/><path d="M186.9 344.4 187.3 346.1 187.0 346.7 188.6 348.5 189.6 348.1 189.5 347.0 190.1 346.8 190.8 344.2 189.4 343.8 188.4 344.1 187.5 343.0 186.0 343.5Z" fill="#e61f1d"/><path d="M197.9 342.3 196.5 342.8 195.8 344.1 196.5 345.6 197.1 345.7 197.5 346.5 197.4 348.2 199.0 346.2 198.6 345.3 199.3 344.4 198.8 343.0Z" fill="#fc6a32"/><path d="M191.0 344.0 190.1 346.8 189.5 347.0 189.6 348.1 190.2 348.4 192.1 348.2 193.6 349.3 194.2 348.0 193.2 346.9 193.3 345.7Z" fill="#ea2820"/><path d="M192.3 345.0 193.3 345.7 193.2 346.9 194.2 348.0 193.7 349.5 195.9 349.5 197.1 348.1 197.5 346.5 197.1 345.7 196.5 345.6 195.8 344.1 195.2 344.4 192.9 344.2Z" fill="#fd9941"/><path d="M201.8 345.6 200.7 344.1 199.3 344.4 198.6 345.3 199.0 346.2 200.8 346.5 201.6 346.2Z" fill="#fd8a3b"/><path d="M178.0 347.8 176.6 349.3 176.2 349.1 176.2 353.6 177.2 353.7 178.1 353.1 179.4 354.0 182.4 353.2 181.7 350.8 182.5 350.4 182.0 349.3 182.6 348.2 182.0 346.9 181.0 347.1 179.4 346.1 179.4 347.8Z" fill="#fc532b"/><path d="M183.1 347.9 182.0 349.3 182.5 350.4 181.7 350.8 182.4 353.2 184.5 353.4 184.7 353.9 187.3 353.4 188.4 352.7 187.1 351.6 187.3 349.5 188.7 349.3 188.0 347.5 186.4 346.8 185.9 347.3 184.4 347.0 184.2 347.9Z" fill="#ed2e21"/><path d="M188.7 349.3 187.3 349.5 187.1 351.6 188.7 353.2 191.2 353.6 193.3 352.9 194.0 350.8 193.6 349.3 192.1 348.2 190.2 348.4 189.6 348.1 188.6 348.5Z" fill="#f23a25"/><path d="M197.1 348.1 195.9 349.5 193.7 349.5 194.0 350.8 193.3 352.9 192.7 353.1 192.7 354.5 194.7 356.4Z" fill="#fd913e"/><path d="M176.2 353.6 176.2 361.4 176.9 361.5 179.4 359.6 180.5 359.4 180.8 357.4 181.8 357.1 182.2 354.7 181.9 353.6 181.1 353.3 179.4 354.0 178.1 353.1 177.2 353.7Z" fill="#f54026"/><path d="M182.1 355.5 183.1 356.1 183.3 356.9 184.5 357.1 184.5 358.4 185.7 358.8 186.2 357.6 188.1 356.9 188.4 354.7 189.6 354.6 189.9 353.6 188.4 352.7 187.3 353.4 184.7 353.9 184.5 353.4 182.4 353.2 181.9 353.6Z" fill="#fc4f2a"/><path d="M192.7 353.1 189.9 353.6 189.6 354.6 188.4 354.7 188.1 356.9 188.6 357.4 188.5 358.1 189.6 358.2 190.0 359.5 191.2 360.1 192.3 359.6 192.7 360.3 193.5 360.2 194.7 356.4 192.7 354.5Z" fill="#fd7c37"/><path d="M181.2 357.2 180.5 358.3 180.5 359.4 179.4 359.6 179.6 361.1 181.5 361.2 182.0 362.6 183.4 362.0 184.6 362.5 184.6 360.4 185.5 360.0 185.7 358.8 184.5 358.4 184.5 357.1 183.3 356.9 183.1 356.1 182.3 355.7 181.8 357.1Z" fill="#f54026"/><path d="M186.1 358.1 185.5 360.0 184.6 360.4 184.9 361.2 186.2 361.4 186.0 362.7 187.9 362.5 188.8 363.0 189.9 362.2 189.8 361.4 191.2 360.6 191.2 360.1 190.0 359.5 189.6 358.2 188.5 358.1 188.6 357.4 188.1 356.9 187.1 357.0Z" fill="#fd7034"/><path d="M181.9 364.4 181.5 361.2 179.6 361.1 179.3 360.1 178.4 360.3 177.8 361.2 176.2 361.4 176.2 363.6 176.9 364.4Z" fill="#f54026"/><path d="M192.7 360.3 192.3 359.6 191.2 360.1 191.2 360.6 189.8 361.4 189.9 362.2 188.8 363.0 187.9 362.5 187.2 362.8 187.4 363.8 188.7 363.9 188.4 364.4 192.5 364.2 193.5 360.2Z" fill="#fd873a"/><path d="M184.5 362.5 183.4 362.0 182.0 362.6 181.9 364.4 188.4 364.4 188.7 363.9 187.4 363.8 187.2 362.8 186.0 362.7 186.2 361.4 184.9 361.2Z" fill="#f74327"/></g></g><polygon points="177.2,307.7 217.7,307.7 217.7,315.4 215.0,321.4 211.8,325.7 208.5,330.0 205.3,334.3 203.2,338.9 200.5,342.8 200.9,345.5 199.7,345.3 198.4,345.0 196.2,348.2 194.6,353.6 193.5,356.8 192.5,360.0 191.9,363.4 177.2,363.4" fill="none" stroke="#4a3422" stroke-width="0.3" stroke-opacity="0.7"/>
<rect x="177.2" y="307.7" width="40.5" height="55.7" fill="none" stroke="#555" stroke-width="0.9"/>
<rect x="57.6" y="206.4" width="166.0" height="163.99999999999997" fill="none" stroke="#7d7d7d" stroke-width="1"/><linearGradient id="lgc" x1="0" y1="1" x2="0" y2="0">
<stop offset="0.000" stop-color="#FFFFB2"/>
<stop offset="0.167" stop-color="#FED976"/>
<stop offset="0.333" stop-color="#FEB24C"/>
<stop offset="0.500" stop-color="#FD8D3C"/>
<stop offset="0.667" stop-color="#FC4E2A"/>
<stop offset="0.833" stop-color="#E31A1C"/>
<stop offset="1.000" stop-color="#B10026"/>
</linearGradient>
<rect x="236.3" y="262.7" width="12.8" height="63.30000000000001" fill="url(#lgc)"/>
<text x="236.2" y="258.4" font-size="8.2" fill="#111">Hosp (%)</text>
<line x1="236.3" y1="274.8" x2="238.8" y2="274.8" stroke="#fff" stroke-width="0.5" stroke-opacity="0.8"/>
<line x1="246.60000000000002" y1="274.8" x2="249.10000000000002" y2="274.8" stroke="#fff" stroke-width="0.5" stroke-opacity="0.8"/>
<text x="252.5" y="277.1" font-size="6.4" fill="#222">3</text>
<line x1="236.3" y1="294.8" x2="238.8" y2="294.8" stroke="#fff" stroke-width="0.5" stroke-opacity="0.8"/>
<line x1="246.60000000000002" y1="294.8" x2="249.10000000000002" y2="294.8" stroke="#fff" stroke-width="0.5" stroke-opacity="0.8"/>
<text x="252.5" y="297.1" font-size="6.4" fill="#222">2</text>
<line x1="236.3" y1="314.6" x2="238.8" y2="314.6" stroke="#fff" stroke-width="0.5" stroke-opacity="0.8"/>
<line x1="246.60000000000002" y1="314.6" x2="249.10000000000002" y2="314.6" stroke="#fff" stroke-width="0.5" stroke-opacity="0.8"/>
<text x="252.5" y="316.9" font-size="6.4" fill="#222">1</text><g fill="#EDC3C5">
<rect x="405.00" y="258.51" width="2.18" height="93.89"/>
<rect x="407.18" y="289.70" width="2.18" height="62.70"/>
<rect x="409.37" y="304.00" width="2.18" height="48.40"/>
<rect x="411.55" y="316.85" width="2.18" height="35.55"/>
<rect x="413.73" y="326.20" width="2.18" height="26.20"/>
<rect x="415.92" y="332.97" width="2.18" height="19.43"/>
<rect x="418.10" y="338.26" width="2.18" height="14.14"/>
<rect x="420.28" y="340.87" width="2.18" height="11.53"/>
<rect x="422.47" y="341.40" width="2.18" height="11.00"/>
<rect x="424.65" y="342.05" width="2.18" height="10.35"/>
<rect x="426.83" y="340.48" width="2.18" height="11.92"/>
<rect x="429.02" y="335.23" width="2.18" height="17.17"/>
<rect x="431.20" y="330.41" width="2.18" height="21.99"/>
<rect x="433.38" y="326.45" width="2.18" height="25.95"/>
<rect x="435.56" y="326.61" width="2.18" height="25.79"/>
<rect x="437.75" y="324.70" width="2.18" height="27.70"/>
<rect x="439.93" y="323.60" width="2.18" height="28.80"/>
<rect x="442.11" y="322.58" width="2.18" height="29.82"/>
<rect x="444.30" y="321.00" width="2.18" height="31.40"/>
<rect x="446.48" y="318.95" width="2.18" height="33.45"/>
<rect x="448.66" y="318.10" width="2.18" height="34.30"/>
<rect x="450.85" y="317.99" width="2.18" height="34.41"/>
<rect x="453.03" y="316.32" width="2.18" height="36.08"/>
<rect x="455.21" y="308.06" width="2.18" height="44.34"/>
<rect x="457.40" y="291.98" width="2.18" height="60.42"/>
<rect x="459.58" y="269.87" width="2.18" height="82.53"/>
<rect x="461.76" y="244.24" width="2.18" height="108.16"/>
<rect x="463.95" y="233.12" width="2.18" height="119.28"/>
<rect x="466.13" y="238.99" width="2.18" height="113.41"/>
<rect x="468.31" y="255.18" width="2.18" height="97.22"/>
<rect x="470.50" y="272.06" width="2.18" height="80.34"/>
<rect x="472.68" y="280.87" width="2.18" height="71.53"/>
<rect x="474.86" y="282.30" width="2.18" height="70.10"/>
<rect x="477.05" y="278.02" width="2.18" height="74.38"/>
<rect x="479.23" y="275.19" width="2.18" height="77.21"/>
<rect x="481.41" y="262.22" width="2.18" height="90.18"/>
<rect x="483.59" y="249.72" width="2.18" height="102.68"/>
<rect x="485.78" y="238.29" width="2.18" height="114.11"/>
<rect x="487.96" y="227.25" width="2.18" height="125.15"/>
<rect x="490.14" y="219.20" width="2.18" height="133.20"/>
<rect x="492.33" y="222.40" width="2.18" height="130.00"/>
<rect x="494.51" y="239.66" width="2.18" height="112.74"/>
<rect x="496.69" y="255.96" width="2.18" height="96.44"/>
<rect x="498.88" y="268.71" width="2.18" height="83.69"/>
<rect x="501.06" y="277.99" width="2.18" height="74.41"/>
<rect x="503.24" y="283.28" width="2.18" height="69.12"/>
<rect x="505.43" y="286.39" width="2.18" height="66.01"/>
<rect x="507.61" y="288.88" width="2.18" height="63.52"/>
<rect x="509.79" y="287.77" width="2.18" height="64.63"/>
<rect x="511.98" y="280.92" width="2.18" height="71.48"/>
<rect x="514.16" y="277.08" width="2.18" height="75.32"/>
<rect x="516.34" y="278.41" width="2.18" height="73.99"/>
<rect x="518.53" y="280.72" width="2.18" height="71.68"/>
<rect x="520.71" y="286.56" width="2.18" height="65.84"/>
<rect x="522.89" y="296.14" width="2.18" height="56.26"/>
<rect x="525.08" y="304.34" width="2.18" height="48.06"/>
<rect x="527.26" y="311.22" width="2.18" height="41.18"/>
<rect x="529.44" y="318.00" width="2.18" height="34.40"/>
<rect x="531.63" y="324.39" width="2.18" height="28.01"/>
<rect x="533.81" y="330.07" width="2.18" height="22.33"/>
<rect x="535.99" y="332.75" width="2.18" height="19.65"/>
<rect x="538.17" y="332.29" width="2.18" height="20.11"/>
<rect x="540.36" y="329.86" width="2.18" height="22.54"/>
<rect x="542.54" y="316.77" width="2.18" height="35.63"/>
<rect x="544.72" y="285.35" width="2.18" height="67.05"/>
<rect x="546.91" y="258.73" width="2.18" height="93.67"/>
<rect x="549.09" y="253.56" width="2.18" height="98.84"/>
<rect x="551.27" y="265.97" width="2.18" height="86.43"/>
<rect x="553.46" y="276.32" width="2.18" height="76.08"/>
<rect x="555.64" y="288.73" width="2.18" height="63.67"/>
<rect x="557.82" y="299.99" width="2.18" height="52.41"/>
<rect x="560.01" y="310.12" width="2.18" height="42.28"/>
<rect x="562.19" y="319.20" width="2.18" height="33.20"/>
<rect x="564.37" y="326.04" width="2.18" height="26.36"/>
<rect x="566.56" y="331.28" width="2.18" height="21.12"/>
<rect x="568.74" y="334.69" width="2.18" height="17.71"/>
<rect x="570.92" y="336.68" width="2.18" height="15.72"/>
<rect x="573.11" y="337.74" width="2.18" height="14.66"/>
<rect x="575.29" y="337.90" width="2.18" height="14.50"/>
<rect x="577.47" y="338.15" width="2.18" height="14.25"/>
<rect x="579.66" y="338.72" width="2.18" height="13.68"/>
<rect x="581.84" y="336.79" width="2.18" height="15.61"/>
<rect x="584.02" y="331.89" width="2.18" height="20.51"/>
<rect x="586.21" y="326.97" width="2.18" height="25.43"/>
<rect x="588.39" y="320.83" width="2.18" height="31.57"/>
<rect x="590.57" y="313.06" width="2.18" height="39.34"/>
<rect x="592.75" y="303.42" width="2.18" height="48.98"/>
<rect x="594.94" y="295.96" width="2.18" height="56.44"/>
<rect x="597.12" y="289.82" width="2.18" height="62.58"/>
<rect x="599.30" y="278.35" width="2.18" height="74.05"/>
<rect x="601.49" y="257.21" width="2.18" height="95.19"/>
<rect x="603.67" y="240.91" width="2.18" height="111.49"/>
<rect x="605.85" y="232.29" width="2.18" height="120.11"/>
<rect x="608.04" y="222.52" width="2.18" height="129.88"/>
<rect x="610.22" y="231.51" width="2.18" height="120.89"/>
<rect x="612.40" y="253.63" width="2.18" height="98.77"/>
<rect x="614.59" y="274.10" width="2.18" height="78.30"/>
<rect x="616.77" y="295.03" width="2.18" height="57.37"/>
<rect x="618.95" y="303.48" width="2.18" height="48.92"/>
<rect x="621.14" y="309.63" width="2.18" height="42.77"/>
<rect x="623.32" y="311.72" width="2.18" height="40.68"/>
<rect x="625.50" y="316.43" width="2.18" height="35.97"/>
<rect x="627.69" y="317.71" width="2.18" height="34.69"/>
<rect x="629.87" y="315.03" width="2.18" height="37.37"/>
<rect x="632.05" y="312.66" width="2.18" height="39.74"/>
<rect x="634.24" y="311.73" width="2.18" height="40.67"/>
<rect x="636.42" y="312.11" width="2.18" height="40.29"/>
<rect x="638.60" y="308.40" width="2.18" height="44.00"/>
<rect x="640.78" y="305.48" width="2.18" height="46.92"/>
<rect x="642.97" y="304.06" width="2.18" height="48.34"/>
<rect x="645.15" y="303.41" width="2.18" height="48.99"/>
<rect x="647.33" y="301.92" width="2.18" height="50.48"/>
<rect x="649.52" y="296.04" width="2.18" height="56.36"/>
<rect x="651.70" y="286.77" width="2.18" height="65.63"/>
<rect x="653.88" y="270.86" width="2.18" height="81.54"/>
<rect x="656.07" y="262.15" width="2.18" height="90.25"/>
<rect x="658.25" y="268.16" width="2.18" height="84.24"/>
<rect x="660.43" y="277.93" width="2.18" height="74.47"/>
<rect x="662.62" y="287.90" width="2.18" height="64.50"/>
</g>
<g stroke="#F6DEDE" stroke-width="0.35">
<line x1="405.00" y1="258.51" x2="405.00" y2="352.40"/>
<line x1="407.18" y1="289.70" x2="407.18" y2="352.40"/>
<line x1="409.37" y1="304.00" x2="409.37" y2="352.40"/>
<line x1="411.55" y1="316.85" x2="411.55" y2="352.40"/>
<line x1="413.73" y1="326.20" x2="413.73" y2="352.40"/>
<line x1="415.92" y1="332.97" x2="415.92" y2="352.40"/>
<line x1="418.10" y1="338.26" x2="418.10" y2="352.40"/>
<line x1="420.28" y1="340.87" x2="420.28" y2="352.40"/>
<line x1="422.47" y1="341.40" x2="422.47" y2="352.40"/>
<line x1="424.65" y1="342.05" x2="424.65" y2="352.40"/>
<line x1="426.83" y1="340.48" x2="426.83" y2="352.40"/>
<line x1="429.02" y1="335.23" x2="429.02" y2="352.40"/>
<line x1="431.20" y1="330.41" x2="431.20" y2="352.40"/>
<line x1="433.38" y1="326.45" x2="433.38" y2="352.40"/>
<line x1="435.56" y1="326.61" x2="435.56" y2="352.40"/>
<line x1="437.75" y1="324.70" x2="437.75" y2="352.40"/>
<line x1="439.93" y1="323.60" x2="439.93" y2="352.40"/>
<line x1="442.11" y1="322.58" x2="442.11" y2="352.40"/>
<line x1="444.30" y1="321.00" x2="444.30" y2="352.40"/>
<line x1="446.48" y1="318.95" x2="446.48" y2="352.40"/>
<line x1="448.66" y1="318.10" x2="448.66" y2="352.40"/>
<line x1="450.85" y1="317.99" x2="450.85" y2="352.40"/>
<line x1="453.03" y1="316.32" x2="453.03" y2="352.40"/>
<line x1="455.21" y1="308.06" x2="455.21" y2="352.40"/>
<line x1="457.40" y1="291.98" x2="457.40" y2="352.40"/>
<line x1="459.58" y1="269.87" x2="459.58" y2="352.40"/>
<line x1="461.76" y1="244.24" x2="461.76" y2="352.40"/>
<line x1="463.95" y1="233.12" x2="463.95" y2="352.40"/>
<line x1="466.13" y1="238.99" x2="466.13" y2="352.40"/>
<line x1="468.31" y1="255.18" x2="468.31" y2="352.40"/>
<line x1="470.50" y1="272.06" x2="470.50" y2="352.40"/>
<line x1="472.68" y1="280.87" x2="472.68" y2="352.40"/>
<line x1="474.86" y1="282.30" x2="474.86" y2="352.40"/>
<line x1="477.05" y1="278.02" x2="477.05" y2="352.40"/>
<line x1="479.23" y1="275.19" x2="479.23" y2="352.40"/>
<line x1="481.41" y1="262.22" x2="481.41" y2="352.40"/>
<line x1="483.59" y1="249.72" x2="483.59" y2="352.40"/>
<line x1="485.78" y1="238.29" x2="485.78" y2="352.40"/>
<line x1="487.96" y1="227.25" x2="487.96" y2="352.40"/>
<line x1="490.14" y1="219.20" x2="490.14" y2="352.40"/>
<line x1="492.33" y1="222.40" x2="492.33" y2="352.40"/>
<line x1="494.51" y1="239.66" x2="494.51" y2="352.40"/>
<line x1="496.69" y1="255.96" x2="496.69" y2="352.40"/>
<line x1="498.88" y1="268.71" x2="498.88" y2="352.40"/>
<line x1="501.06" y1="277.99" x2="501.06" y2="352.40"/>
<line x1="503.24" y1="283.28" x2="503.24" y2="352.40"/>
<line x1="505.43" y1="286.39" x2="505.43" y2="352.40"/>
<line x1="507.61" y1="288.88" x2="507.61" y2="352.40"/>
<line x1="509.79" y1="287.77" x2="509.79" y2="352.40"/>
<line x1="511.98" y1="280.92" x2="511.98" y2="352.40"/>
<line x1="514.16" y1="277.08" x2="514.16" y2="352.40"/>
<line x1="516.34" y1="278.41" x2="516.34" y2="352.40"/>
<line x1="518.53" y1="280.72" x2="518.53" y2="352.40"/>
<line x1="520.71" y1="286.56" x2="520.71" y2="352.40"/>
<line x1="522.89" y1="296.14" x2="522.89" y2="352.40"/>
<line x1="525.08" y1="304.34" x2="525.08" y2="352.40"/>
<line x1="527.26" y1="311.22" x2="527.26" y2="352.40"/>
<line x1="529.44" y1="318.00" x2="529.44" y2="352.40"/>
<line x1="531.63" y1="324.39" x2="531.63" y2="352.40"/>
<line x1="533.81" y1="330.07" x2="533.81" y2="352.40"/>
<line x1="535.99" y1="332.75" x2="535.99" y2="352.40"/>
<line x1="538.17" y1="332.29" x2="538.17" y2="352.40"/>
<line x1="540.36" y1="329.86" x2="540.36" y2="352.40"/>
<line x1="542.54" y1="316.77" x2="542.54" y2="352.40"/>
<line x1="544.72" y1="285.35" x2="544.72" y2="352.40"/>
<line x1="546.91" y1="258.73" x2="546.91" y2="352.40"/>
<line x1="549.09" y1="253.56" x2="549.09" y2="352.40"/>
<line x1="551.27" y1="265.97" x2="551.27" y2="352.40"/>
<line x1="553.46" y1="276.32" x2="553.46" y2="352.40"/>
<line x1="555.64" y1="288.73" x2="555.64" y2="352.40"/>
<line x1="557.82" y1="299.99" x2="557.82" y2="352.40"/>
<line x1="560.01" y1="310.12" x2="560.01" y2="352.40"/>
<line x1="562.19" y1="319.20" x2="562.19" y2="352.40"/>
<line x1="564.37" y1="326.04" x2="564.37" y2="352.40"/>
<line x1="566.56" y1="331.28" x2="566.56" y2="352.40"/>
<line x1="568.74" y1="334.69" x2="568.74" y2="352.40"/>
<line x1="570.92" y1="336.68" x2="570.92" y2="352.40"/>
<line x1="573.11" y1="337.74" x2="573.11" y2="352.40"/>
<line x1="575.29" y1="337.90" x2="575.29" y2="352.40"/>
<line x1="577.47" y1="338.15" x2="577.47" y2="352.40"/>
<line x1="579.66" y1="338.72" x2="579.66" y2="352.40"/>
<line x1="581.84" y1="336.79" x2="581.84" y2="352.40"/>
<line x1="584.02" y1="331.89" x2="584.02" y2="352.40"/>
<line x1="586.21" y1="326.97" x2="586.21" y2="352.40"/>
<line x1="588.39" y1="320.83" x2="588.39" y2="352.40"/>
<line x1="590.57" y1="313.06" x2="590.57" y2="352.40"/>
<line x1="592.75" y1="303.42" x2="592.75" y2="352.40"/>
<line x1="594.94" y1="295.96" x2="594.94" y2="352.40"/>
<line x1="597.12" y1="289.82" x2="597.12" y2="352.40"/>
<line x1="599.30" y1="278.35" x2="599.30" y2="352.40"/>
<line x1="601.49" y1="257.21" x2="601.49" y2="352.40"/>
<line x1="603.67" y1="240.91" x2="603.67" y2="352.40"/>
<line x1="605.85" y1="232.29" x2="605.85" y2="352.40"/>
<line x1="608.04" y1="222.52" x2="608.04" y2="352.40"/>
<line x1="610.22" y1="231.51" x2="610.22" y2="352.40"/>
<line x1="612.40" y1="253.63" x2="612.40" y2="352.40"/>
<line x1="614.59" y1="274.10" x2="614.59" y2="352.40"/>
<line x1="616.77" y1="295.03" x2="616.77" y2="352.40"/>
<line x1="618.95" y1="303.48" x2="618.95" y2="352.40"/>
<line x1="621.14" y1="309.63" x2="621.14" y2="352.40"/>
<line x1="623.32" y1="311.72" x2="623.32" y2="352.40"/>
<line x1="625.50" y1="316.43" x2="625.50" y2="352.40"/>
<line x1="627.69" y1="317.71" x2="627.69" y2="352.40"/>
<line x1="629.87" y1="315.03" x2="629.87" y2="352.40"/>
<line x1="632.05" y1="312.66" x2="632.05" y2="352.40"/>
<line x1="634.24" y1="311.73" x2="634.24" y2="352.40"/>
<line x1="636.42" y1="312.11" x2="636.42" y2="352.40"/>
<line x1="638.60" y1="308.40" x2="638.60" y2="352.40"/>
<line x1="640.78" y1="305.48" x2="640.78" y2="352.40"/>
<line x1="642.97" y1="304.06" x2="642.97" y2="352.40"/>
<line x1="645.15" y1="303.41" x2="645.15" y2="352.40"/>
<line x1="647.33" y1="301.92" x2="647.33" y2="352.40"/>
<line x1="649.52" y1="296.04" x2="649.52" y2="352.40"/>
<line x1="651.70" y1="286.77" x2="651.70" y2="352.40"/>
<line x1="653.88" y1="270.86" x2="653.88" y2="352.40"/>
<line x1="656.07" y1="262.15" x2="656.07" y2="352.40"/>
<line x1="658.25" y1="268.16" x2="658.25" y2="352.40"/>
<line x1="660.43" y1="277.93" x2="660.43" y2="352.40"/>
<line x1="662.62" y1="287.90" x2="662.62" y2="352.40"/>
</g>
<g stroke="#2a2a2a" stroke-width="0.8" stroke-dasharray="2.3 3.03">
<line x1="454.5" y1="359.6" x2="454.5" y2="210.0"/>
<line x1="476.9" y1="359.6" x2="476.9" y2="210.0"/>
<line x1="508.2" y1="359.6" x2="508.2" y2="210.0"/>
<line x1="534.6" y1="359.6" x2="534.6" y2="210.0"/>
<line x1="581.4" y1="359.6" x2="581.4" y2="210.0"/>
</g>
<g stroke="#222" stroke-width="0.75">
<line x1="395.2" y1="359.8" x2="395.2" y2="361.3"/>
<line x1="424.4" y1="359.8" x2="424.4" y2="361.3"/>
<line x1="453.8" y1="359.8" x2="453.8" y2="361.3"/>
<line x1="483.0" y1="359.8" x2="483.0" y2="361.3"/>
<line x1="511.8" y1="359.8" x2="511.8" y2="361.3"/>
<line x1="540.0" y1="359.8" x2="540.0" y2="361.3"/>
<line x1="569.4" y1="359.8" x2="569.4" y2="361.3"/>
<line x1="598.4" y1="359.8" x2="598.4" y2="361.3"/>
<line x1="627.3" y1="359.8" x2="627.3" y2="361.3"/>
<line x1="656.3" y1="359.8" x2="656.3" y2="361.3"/>
</g>
<g font-size="6.15" fill="#333" stroke="#666" stroke-width="0.12" text-anchor="middle">
<text x="395.2" y="367.5">2020-04</text>
<text x="424.4" y="367.5">2020-07</text>
<text x="453.8" y="367.5">2020-10</text>
<text x="483.0" y="367.5">2021-01</text>
<text x="511.8" y="367.5">2021-04</text>
<text x="540.0" y="367.5">2021-07</text>
<text x="569.4" y="367.5">2021-10</text>
<text x="598.4" y="367.5">2022-01</text>
<text x="627.3" y="367.5">2022-04</text>
<text x="656.3" y="367.5">2022-07</text>
</g>
<g font-size="6.5" fill="#4a4a4a" text-anchor="end">
<text x="370.2" y="354.6">0</text>
<text x="370.2" y="321.5">10</text>
<text x="370.2" y="288.4">20</text>
<text x="370.2" y="255.3">30</text>
<text x="370.2" y="222.2">40</text>
</g>
<text transform="translate(358.45,284.95) rotate(-90)" text-anchor="middle" font-size="7.67" fill="#111">Weekly hospitalisation rate (x100,000 pop.)</text></svg>
</body></html>
